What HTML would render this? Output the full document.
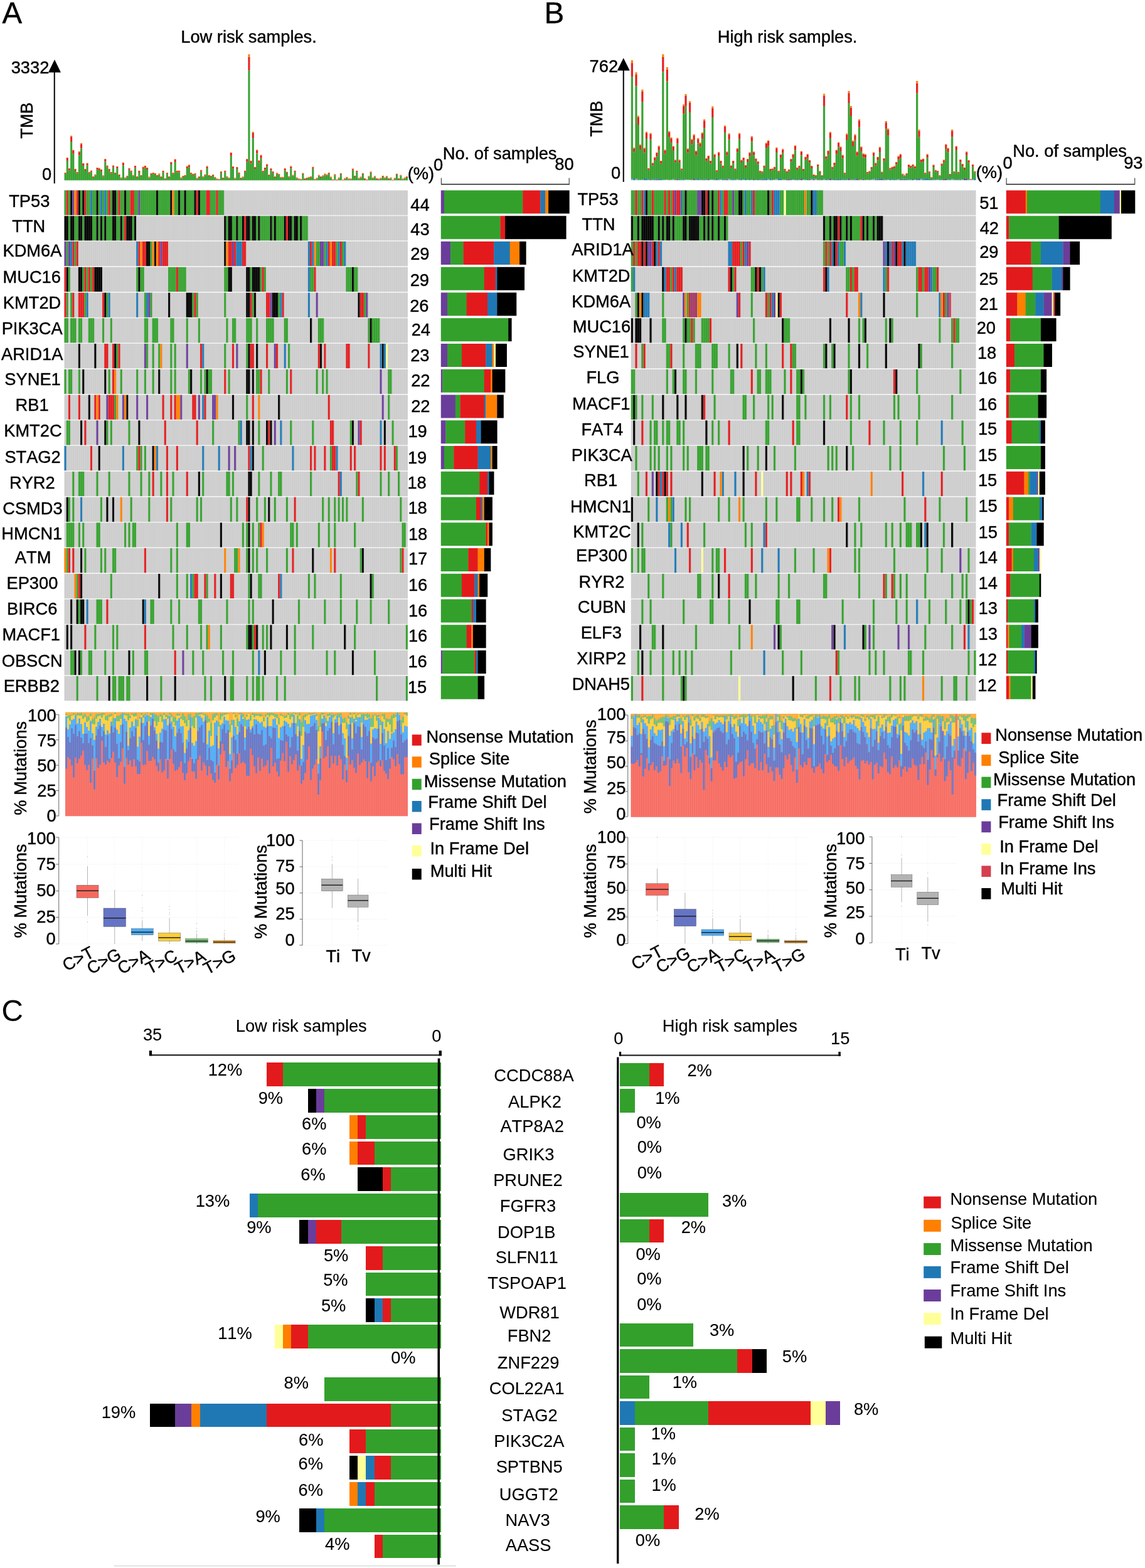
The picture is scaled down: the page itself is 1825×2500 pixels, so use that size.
<!DOCTYPE html>
<html><head><meta charset="utf-8"><title>Figure</title>
<style>
html,body{margin:0;padding:0;background:#fff;}
svg{display:block;}
text{font-family:"Liberation Sans",Arial,Helvetica,sans-serif;font-size:27.25px;fill:#000;stroke:#000;stroke-width:0.4px;font-kerning:none;}
#panelC text{stroke-width:0.12px;}
</style></head><body>
<svg xmlns="http://www.w3.org/2000/svg" width="1825" height="2500" viewBox="0 0 1825 2500">
<rect x="0" y="0" width="1825" height="2500" fill="#fff"/>
<defs>
<pattern id="sepA" x="102.5" y="0" width="3.18" height="50" patternUnits="userSpaceOnUse"><rect x="2.88" y="0" width="0.3" height="50" fill="#fff" opacity="0.32"/><rect x="0" y="0" width="0.3" height="50" fill="#fff" opacity="0.32"/></pattern>
<pattern id="sepB" x="1005.75" y="0" width="3.29" height="50" patternUnits="userSpaceOnUse"><rect x="2.99" y="0" width="0.3" height="50" fill="#fff" opacity="0.32"/><rect x="0" y="0" width="0.3" height="50" fill="#fff" opacity="0.32"/></pattern>
<pattern id="sepA2" x="104" y="0" width="3" height="50" patternUnits="userSpaceOnUse"><rect x="2.7" y="0" width="0.3" height="50" fill="#fff" opacity="0.32"/><rect x="0" y="0" width="0.3" height="50" fill="#fff" opacity="0.32"/></pattern>
<pattern id="sepB2" x="1005.5" y="0" width="3.02" height="50" patternUnits="userSpaceOnUse"><rect x="2.72" y="0" width="0.3" height="50" fill="#fff" opacity="0.32"/><rect x="0" y="0" width="0.3" height="50" fill="#fff" opacity="0.32"/></pattern>
</defs>
<g id="panelA">
<text x="3.41" y="37" style="font-size:47.5px">A</text>
<text x="288.26" y="68">Low risk samples.</text>
<line x1="86.75" y1="113" x2="86.75" y2="292.5" stroke="#000" stroke-width="2"/>
<polygon points="77,115.5 97,115.5 87,95" fill="#000"/>
<text x="17.71" y="117.3">3332</text>
<text transform="translate(52.3 220.91) rotate(-90)">TMB</text>
<text x="66.94" y="287.3">0</text>
<path fill="#33A02C" d="M102.5 277.13h3.18v10.37h-3.18zM105.68 256.07h3.18v31.43h-3.18zM108.87 271.47h3.18v16.03h-3.18zM112.05 225.89h3.18v61.61h-3.18zM115.23 245.4h3.18v42.1h-3.18zM118.42 271.98h3.18v15.52h-3.18zM121.6 276.22h3.18v11.28h-3.18zM124.78 247.56h3.18v39.94h-3.18zM127.97 236.47h3.18v51.03h-3.18zM131.15 264.12h3.18v23.38h-3.18zM134.33 271.97h3.18v15.53h-3.18zM137.51 263.53h3.18v23.97h-3.18zM140.7 276.19h3.18v11.31h-3.18zM143.88 274.38h3.18v13.12h-3.18zM147.06 283.1h3.18v4.4h-3.18zM150.25 279.5h3.18v8h-3.18zM153.43 270.37h3.18v17.13h-3.18zM156.61 271.05h3.18v16.45h-3.18zM159.8 272.98h3.18v14.52h-3.18zM162.98 281.2h3.18v6.3h-3.18zM166.16 257.59h3.18v29.91h-3.18zM169.35 266.8h3.18v20.7h-3.18zM172.53 272.21h3.18v15.29h-3.18zM175.71 276.17h3.18v11.33h-3.18zM178.9 266.75h3.18v20.75h-3.18zM182.08 277.05h3.18v10.45h-3.18zM185.26 267.98h3.18v19.52h-3.18zM188.44 279.88h3.18v7.62h-3.18zM191.63 284.5h3.18v3h-3.18zM194.81 263.46h3.18v24.04h-3.18zM197.99 284.5h3.18v3h-3.18zM201.18 281.7h3.18v5.8h-3.18zM204.36 270.78h3.18v16.72h-3.18zM207.54 274.48h3.18v13.02h-3.18zM210.73 280.6h3.18v6.9h-3.18zM213.91 267.44h3.18v20.06h-3.18zM217.09 283.1h3.18v4.4h-3.18zM220.28 274.9h3.18v12.6h-3.18zM223.46 280.95h3.18v6.55h-3.18zM226.64 269.23h3.18v18.27h-3.18zM229.83 267.46h3.18v20.04h-3.18zM233.01 269.9h3.18v17.6h-3.18zM236.19 283.4h3.18v4.1h-3.18zM239.38 277.97h3.18v9.53h-3.18zM242.56 277.25h3.18v10.25h-3.18zM245.74 278.09h3.18v9.41h-3.18zM248.92 280.95h3.18v6.55h-3.18zM252.11 278.62h3.18v8.88h-3.18zM255.29 283.1h3.18v4.4h-3.18zM258.47 274.83h3.18v12.67h-3.18zM261.66 285.8h3.18v1.7h-3.18zM264.84 277.31h3.18v10.19h-3.18zM268.02 283.1h3.18v4.4h-3.18zM271.21 262.08h3.18v25.42h-3.18zM274.39 277.59h3.18v9.91h-3.18zM277.57 258.02h3.18v29.48h-3.18zM280.76 274.47h3.18v13.03h-3.18zM283.94 274.47h3.18v13.03h-3.18zM287.12 284.4h3.18v3.1h-3.18zM290.31 282h3.18v5.5h-3.18zM293.49 280.9h3.18v6.6h-3.18zM296.67 267.92h3.18v19.58h-3.18zM299.85 266.44h3.18v21.06h-3.18zM303.04 277.51h3.18v9.99h-3.18zM306.22 278.98h3.18v8.52h-3.18zM309.4 278.3h3.18v9.2h-3.18zM312.59 285.3h3.18v2.2h-3.18zM315.77 283.1h3.18v4.4h-3.18zM318.95 273.58h3.18v13.92h-3.18zM322.14 282.6h3.18v4.9h-3.18zM325.32 279.64h3.18v7.86h-3.18zM328.5 268h3.18v19.5h-3.18zM331.69 280.9h3.18v6.6h-3.18zM334.87 282h3.18v5.5h-3.18zM338.05 280h3.18v7.5h-3.18zM341.24 283.7h3.18v3.8h-3.18zM344.42 286.2h3.18v1.3h-3.18zM347.6 286.6h3.18v.9h-3.18zM350.78 275.7h3.18v11.8h-3.18zM353.97 285.1h3.18v2.4h-3.18zM357.15 274.3h3.18v13.2h-3.18zM360.33 282.6h3.18v4.9h-3.18zM363.52 284.8h3.18v2.7h-3.18zM366.7 248.75h3.18v38.75h-3.18zM369.88 268.82h3.18v18.68h-3.18zM373.07 285.3h3.18v2.2h-3.18zM376.25 269.12h3.18v18.38h-3.18zM379.43 277.2h3.18v10.3h-3.18zM382.62 285.1h3.18v2.4h-3.18zM385.8 283.3h3.18v4.2h-3.18zM388.98 274.64h3.18v12.86h-3.18zM392.17 257.65h3.18v29.85h-3.18zM395.35 112.49h3.18v175.01h-3.18zM398.53 260.59h3.18v26.91h-3.18zM401.72 220.22h3.18v67.28h-3.18zM404.9 269.05h3.18v18.45h-3.18zM408.08 244.5h3.18v43h-3.18zM411.26 259.59h3.18v27.91h-3.18zM414.45 252.48h3.18v35.02h-3.18zM417.63 274.64h3.18v12.86h-3.18zM420.81 270.31h3.18v17.19h-3.18zM424 265.19h3.18v22.31h-3.18zM427.18 280.06h3.18v7.44h-3.18zM430.36 271.57h3.18v15.93h-3.18zM433.55 275.73h3.18v11.77h-3.18zM436.73 283.1h3.18v4.4h-3.18zM439.91 277.72h3.18v9.78h-3.18zM443.1 278.82h3.18v8.68h-3.18zM446.28 283.7h3.18v3.8h-3.18zM449.46 283.7h3.18v3.8h-3.18zM452.65 271.4h3.18v16.1h-3.18zM455.83 275.98h3.18v11.52h-3.18zM459.01 282.6h3.18v4.9h-3.18zM462.19 268.2h3.18v19.3h-3.18zM465.38 280.72h3.18v6.78h-3.18zM468.56 274.26h3.18v13.24h-3.18zM471.74 284.5h3.18v3h-3.18zM474.93 286.2h3.18v1.3h-3.18zM478.11 286.7h3.18v.8h-3.18zM481.29 277.89h3.18v9.61h-3.18zM484.48 286h3.18v1.5h-3.18zM487.66 285.1h3.18v2.4h-3.18zM490.84 283.7h3.18v3.8h-3.18zM494.03 282.8h3.18v4.7h-3.18zM497.21 268.84h3.18v18.66h-3.18zM500.39 286.7h3.18v.8h-3.18zM503.58 285.3h3.18v2.2h-3.18zM506.76 280.6h3.18v6.9h-3.18zM509.94 283.1h3.18v4.4h-3.18zM513.12 281.2h3.18v6.3h-3.18zM516.31 278.59h3.18v8.91h-3.18zM519.49 279.53h3.18v7.97h-3.18zM522.67 277.23h3.18v10.27h-3.18zM525.86 283.4h3.18v4.1h-3.18zM532.22 279.37h3.18v8.13h-3.18zM538.59 284.5h3.18v3h-3.18zM541.77 278.24h3.18v9.26h-3.18zM548.14 285.6h3.18v1.9h-3.18zM551.32 283.7h3.18v3.8h-3.18zM554.51 286.2h3.18v1.3h-3.18zM557.69 286h3.18v1.5h-3.18zM560.87 271.41h3.18v16.09h-3.18zM564.06 281.9h3.18v5.6h-3.18zM567.24 274.56h3.18v12.94h-3.18zM570.42 285.3h3.18v2.2h-3.18zM573.6 283.4h3.18v4.1h-3.18zM576.79 278.01h3.18v9.49h-3.18zM579.97 286h3.18v1.5h-3.18zM586.34 282.3h3.18v5.2h-3.18zM589.52 275.76h3.18v11.74h-3.18zM592.7 284.8h3.18v2.7h-3.18zM595.89 282.3h3.18v5.2h-3.18zM599.07 286h3.18v1.5h-3.18zM602.25 286h3.18v1.5h-3.18zM605.44 285.3h3.18v2.2h-3.18zM608.62 281.9h3.18v5.6h-3.18zM611.8 284.5h3.18v3h-3.18zM614.99 282.3h3.18v5.2h-3.18zM618.17 286h3.18v1.5h-3.18zM621.35 284.5h3.18v3h-3.18zM627.72 285.3h3.18v2.2h-3.18zM630.9 278.9h3.18v8.6h-3.18zM634.08 286h3.18v1.5h-3.18zM637.27 280.6h3.18v6.9h-3.18zM640.45 286h3.18v1.5h-3.18zM643.63 284.5h3.18v3h-3.18zM646.82 283.1h3.18v4.4h-3.18z"/>
<path fill="#E31A1C" d="M102.5 275.7h3.18v1.43h-3.18zM105.68 251.8h3.18v4.26h-3.18zM108.87 269h3.18v2.47h-3.18zM112.05 217.77h3.18v8.13h-3.18zM115.23 239.77h3.18v5.62h-3.18zM118.42 269.8h3.18v2.18h-3.18zM121.6 274.8h3.18v1.42h-3.18zM124.78 242.22h3.18v5.34h-3.18zM127.97 229.41h3.18v7.06h-3.18zM131.15 260.7h3.18v3.42h-3.18zM134.33 270.1h3.18v1.87h-3.18zM137.51 260.5h3.18v3.03h-3.18zM140.7 274.8h3.18v1.39h-3.18zM143.88 272.4h3.18v1.98h-3.18zM147.06 282.1h3.18v1h-3.18zM150.25 278.5h3.18v1h-3.18zM153.43 267.7h3.18v2.67h-3.18zM156.61 268.5h3.18v2.55h-3.18zM159.8 270.9h3.18v2.08h-3.18zM162.98 280.2h3.18v1h-3.18zM166.16 254h3.18v3.59h-3.18zM169.35 264.4h3.18v2.4h-3.18zM172.53 270.1h3.18v2.11h-3.18zM175.71 274.8h3.18v1.37h-3.18zM178.9 264.2h3.18v2.55h-3.18zM182.08 275.7h3.18v1.35h-3.18zM185.26 265.7h3.18v2.28h-3.18zM188.44 278.8h3.18v1.08h-3.18zM191.63 283.5h3.18v1h-3.18zM194.81 259.9h3.18v3.56h-3.18zM197.99 283.5h3.18v1h-3.18zM201.18 280.7h3.18v1h-3.18zM204.36 268.5h3.18v2.28h-3.18zM207.54 272.6h3.18v1.88h-3.18zM210.73 279.6h3.18v1h-3.18zM213.91 264.9h3.18v2.54h-3.18zM217.09 282.1h3.18v1h-3.18zM220.28 272.9h3.18v2h-3.18zM223.46 279.9h3.18v1.05h-3.18zM226.64 266.6h3.18v2.63h-3.18zM229.83 264.9h3.18v2.56h-3.18zM233.01 267.7h3.18v2.2h-3.18zM236.19 282.4h3.18v1h-3.18zM239.38 276.8h3.18v1.17h-3.18zM242.56 275.7h3.18v1.55h-3.18zM245.74 276.8h3.18v1.29h-3.18zM248.92 279.9h3.18v1.05h-3.18zM252.11 277.4h3.18v1.22h-3.18zM255.29 282.1h3.18v1h-3.18zM258.47 272.9h3.18v1.93h-3.18zM261.66 284.8h3.18v1h-3.18zM264.84 276h3.18v1.31h-3.18zM268.02 282.1h3.18v1h-3.18zM271.21 258.7h3.18v3.38h-3.18zM274.39 276h3.18v1.59h-3.18zM277.57 254.2h3.18v3.82h-3.18zM280.76 272.9h3.18v1.57h-3.18zM283.94 272.6h3.18v1.87h-3.18zM287.12 283.4h3.18v1h-3.18zM290.31 281h3.18v1h-3.18zM293.49 279.9h3.18v1h-3.18zM296.67 265.4h3.18v2.52h-3.18zM299.85 263.2h3.18v3.24h-3.18zM303.04 276h3.18v1.51h-3.18zM306.22 277.9h3.18v1.08h-3.18zM309.4 277.1h3.18v1.2h-3.18zM312.59 284.3h3.18v1h-3.18zM315.77 282.1h3.18v1h-3.18zM318.95 271.5h3.18v2.08h-3.18zM322.14 281.6h3.18v1h-3.18zM325.32 278.5h3.18v1.14h-3.18zM328.5 265.4h3.18v2.6h-3.18zM331.69 279.9h3.18v1h-3.18zM334.87 281h3.18v1h-3.18zM338.05 279h3.18v1h-3.18zM341.24 282.7h3.18v1h-3.18zM344.42 285.2h3.18v1h-3.18zM347.6 286h3.18v.6h-3.18zM350.78 274.1h3.18v1.6h-3.18zM353.97 284.1h3.18v1h-3.18zM357.15 272.6h3.18v1.7h-3.18zM360.33 281.6h3.18v1h-3.18zM363.52 283.8h3.18v1h-3.18zM366.7 243.88h3.18v4.87h-3.18zM369.88 266h3.18v2.82h-3.18zM373.07 284.3h3.18v1h-3.18zM376.25 266.7h3.18v2.42h-3.18zM379.43 275.6h3.18v1.6h-3.18zM382.62 284.1h3.18v1h-3.18zM385.8 282.3h3.18v1h-3.18zM388.98 272.6h3.18v2.04h-3.18zM392.17 254h3.18v3.65h-3.18zM395.35 90.82h3.18v21.67h-3.18zM398.53 256.7h3.18v3.89h-3.18zM401.72 211.7h3.18v8.51h-3.18zM404.9 266.7h3.18v2.35h-3.18zM408.08 239.48h3.18v5.02h-3.18zM411.26 256.3h3.18v3.29h-3.18zM414.45 247.7h3.18v4.78h-3.18zM417.63 273h3.18v1.64h-3.18zM420.81 267.9h3.18v2.41h-3.18zM424 262.3h3.18v2.89h-3.18zM427.18 279h3.18v1.06h-3.18zM430.36 269.1h3.18v2.47h-3.18zM433.55 274.1h3.18v1.63h-3.18zM436.73 282.1h3.18v1h-3.18zM439.91 276.2h3.18v1.52h-3.18zM443.1 277.7h3.18v1.12h-3.18zM446.28 282.7h3.18v1h-3.18zM449.46 282.7h3.18v1h-3.18zM452.65 269h3.18v2.4h-3.18zM455.83 274.5h3.18v1.48h-3.18zM459.01 281.6h3.18v1h-3.18zM462.19 265.4h3.18v2.8h-3.18zM465.38 279.6h3.18v1.12h-3.18zM468.56 272.6h3.18v1.66h-3.18zM471.74 283.5h3.18v1h-3.18zM474.93 285.2h3.18v1h-3.18zM478.11 286.1h3.18v.6h-3.18zM481.29 276.5h3.18v1.39h-3.18zM484.48 285h3.18v1h-3.18zM487.66 284.1h3.18v1h-3.18zM490.84 282.7h3.18v1h-3.18zM494.03 281.8h3.18v1h-3.18zM497.21 266.5h3.18v2.34h-3.18zM500.39 286.1h3.18v.6h-3.18zM503.58 284.3h3.18v1h-3.18zM506.76 279.6h3.18v1h-3.18zM509.94 282.1h3.18v1h-3.18zM513.12 280.2h3.18v1h-3.18zM516.31 277.4h3.18v1.19h-3.18zM519.49 278.5h3.18v1.03h-3.18zM522.67 275.7h3.18v1.53h-3.18zM525.86 282.4h3.18v1h-3.18zM529.04 286.9h3.18v.6h-3.18zM532.22 278.3h3.18v1.07h-3.18zM535.41 286.9h3.18v.6h-3.18zM538.59 283.5h3.18v1h-3.18zM541.77 276.8h3.18v1.44h-3.18zM544.96 286.9h3.18v.6h-3.18zM548.14 284.6h3.18v1h-3.18zM551.32 282.7h3.18v1h-3.18zM554.51 285.2h3.18v1h-3.18zM557.69 285.4h3.18v.6h-3.18zM560.87 269.4h3.18v2.01h-3.18zM564.06 280.9h3.18v1h-3.18zM567.24 272.9h3.18v1.66h-3.18zM570.42 284.3h3.18v1h-3.18zM573.6 282.4h3.18v1h-3.18zM576.79 276.8h3.18v1.21h-3.18zM579.97 285h3.18v1h-3.18zM583.15 286.9h3.18v.6h-3.18zM586.34 281.3h3.18v1h-3.18zM589.52 274.3h3.18v1.46h-3.18zM592.7 283.8h3.18v1h-3.18zM595.89 281.3h3.18v1h-3.18zM599.07 285h3.18v1h-3.18zM602.25 285.4h3.18v.6h-3.18zM605.44 284.3h3.18v1h-3.18zM608.62 280.9h3.18v1h-3.18zM611.8 283.5h3.18v1h-3.18zM614.99 281.3h3.18v1h-3.18zM618.17 285h3.18v1h-3.18zM621.35 283.5h3.18v1h-3.18zM624.53 286.9h3.18v.6h-3.18zM627.72 284.3h3.18v1h-3.18zM630.9 277.6h3.18v1.3h-3.18zM634.08 285h3.18v1h-3.18zM637.27 279.6h3.18v1h-3.18zM640.45 285.4h3.18v.6h-3.18zM643.63 283.5h3.18v1h-3.18zM646.82 282.1h3.18v1h-3.18z"/>
<path fill="#FF7F00" d="M102.5 274.9h3.18v.8h-3.18zM105.68 251h3.18v.8h-3.18zM108.87 268.2h3.18v.8h-3.18zM112.05 216.2h3.18v1.57h-3.18zM115.23 238.7h3.18v1.07h-3.18zM118.42 269h3.18v.8h-3.18zM121.6 274h3.18v.8h-3.18zM124.78 241.2h3.18v1.02h-3.18zM127.97 228.1h3.18v1.31h-3.18zM131.15 259.9h3.18v.8h-3.18zM134.33 269.3h3.18v.8h-3.18zM137.51 259.7h3.18v.8h-3.18zM140.7 274h3.18v.8h-3.18zM143.88 271.6h3.18v.8h-3.18zM147.06 281.3h3.18v.8h-3.18zM150.25 277.7h3.18v.8h-3.18zM153.43 266.9h3.18v.8h-3.18zM156.61 267.7h3.18v.8h-3.18zM159.8 270.1h3.18v.8h-3.18zM162.98 279.4h3.18v.8h-3.18zM166.16 253.2h3.18v.8h-3.18zM169.35 263.6h3.18v.8h-3.18zM172.53 269.3h3.18v.8h-3.18zM175.71 274h3.18v.8h-3.18zM178.9 263.4h3.18v.8h-3.18zM182.08 274.9h3.18v.8h-3.18zM185.26 264.9h3.18v.8h-3.18zM188.44 278h3.18v.8h-3.18zM191.63 282.7h3.18v.8h-3.18zM194.81 259.1h3.18v.8h-3.18zM197.99 282.7h3.18v.8h-3.18zM201.18 279.9h3.18v.8h-3.18zM204.36 267.7h3.18v.8h-3.18zM207.54 271.8h3.18v.8h-3.18zM210.73 278.8h3.18v.8h-3.18zM213.91 264.1h3.18v.8h-3.18zM217.09 281.3h3.18v.8h-3.18zM220.28 272.1h3.18v.8h-3.18zM223.46 279.1h3.18v.8h-3.18zM226.64 265.8h3.18v.8h-3.18zM229.83 264.1h3.18v.8h-3.18zM233.01 266.9h3.18v.8h-3.18zM236.19 281.6h3.18v.8h-3.18zM239.38 276h3.18v.8h-3.18zM242.56 274.9h3.18v.8h-3.18zM245.74 276h3.18v.8h-3.18zM248.92 279.1h3.18v.8h-3.18zM252.11 276.6h3.18v.8h-3.18zM255.29 281.3h3.18v.8h-3.18zM258.47 272.1h3.18v.8h-3.18zM261.66 284h3.18v.8h-3.18zM264.84 275.2h3.18v.8h-3.18zM268.02 281.3h3.18v.8h-3.18zM271.21 257.9h3.18v.8h-3.18zM274.39 275.2h3.18v.8h-3.18zM277.57 253.4h3.18v.8h-3.18zM280.76 272.1h3.18v.8h-3.18zM283.94 271.8h3.18v.8h-3.18zM287.12 282.6h3.18v.8h-3.18zM290.31 280.2h3.18v.8h-3.18zM293.49 279.1h3.18v.8h-3.18zM296.67 264.6h3.18v.8h-3.18zM299.85 262.4h3.18v.8h-3.18zM303.04 275.2h3.18v.8h-3.18zM306.22 277.1h3.18v.8h-3.18zM309.4 276.3h3.18v.8h-3.18zM312.59 283.5h3.18v.8h-3.18zM315.77 281.3h3.18v.8h-3.18zM318.95 270.7h3.18v.8h-3.18zM322.14 280.8h3.18v.8h-3.18zM325.32 277.7h3.18v.8h-3.18zM328.5 264.6h3.18v.8h-3.18zM331.69 279.1h3.18v.8h-3.18zM334.87 280.2h3.18v.8h-3.18zM338.05 278.2h3.18v.8h-3.18zM341.24 281.9h3.18v.8h-3.18zM344.42 284.4h3.18v.8h-3.18zM347.6 285.2h3.18v.8h-3.18zM350.78 273.3h3.18v.8h-3.18zM353.97 283.3h3.18v.8h-3.18zM357.15 271.8h3.18v.8h-3.18zM360.33 280.8h3.18v.8h-3.18zM363.52 283h3.18v.8h-3.18zM366.7 242.9h3.18v.98h-3.18zM369.88 265.2h3.18v.8h-3.18zM373.07 283.5h3.18v.8h-3.18zM376.25 265.9h3.18v.8h-3.18zM379.43 274.8h3.18v.8h-3.18zM382.62 283.3h3.18v.8h-3.18zM385.8 281.5h3.18v.8h-3.18zM388.98 271.8h3.18v.8h-3.18zM392.17 253.2h3.18v.8h-3.18zM395.35 86.4h3.18v4.42h-3.18zM398.53 255.9h3.18v.8h-3.18zM401.72 210h3.18v1.7h-3.18zM404.9 265.9h3.18v.8h-3.18zM408.08 238.4h3.18v1.08h-3.18zM411.26 255.5h3.18v.8h-3.18zM414.45 246.8h3.18v.9h-3.18zM417.63 272.2h3.18v.8h-3.18zM420.81 267.1h3.18v.8h-3.18zM424 261.5h3.18v.8h-3.18zM427.18 278.2h3.18v.8h-3.18zM430.36 268.3h3.18v.8h-3.18zM433.55 273.3h3.18v.8h-3.18zM436.73 281.3h3.18v.8h-3.18zM439.91 275.4h3.18v.8h-3.18zM443.1 276.9h3.18v.8h-3.18zM446.28 281.9h3.18v.8h-3.18zM449.46 281.9h3.18v.8h-3.18zM452.65 268.2h3.18v.8h-3.18zM455.83 273.7h3.18v.8h-3.18zM459.01 280.8h3.18v.8h-3.18zM462.19 264.6h3.18v.8h-3.18zM465.38 278.8h3.18v.8h-3.18zM468.56 271.8h3.18v.8h-3.18zM471.74 282.7h3.18v.8h-3.18zM474.93 284.4h3.18v.8h-3.18zM478.11 285.3h3.18v.8h-3.18zM481.29 275.7h3.18v.8h-3.18zM484.48 284.2h3.18v.8h-3.18zM487.66 283.3h3.18v.8h-3.18zM490.84 281.9h3.18v.8h-3.18zM494.03 281h3.18v.8h-3.18zM497.21 265.7h3.18v.8h-3.18zM500.39 285.3h3.18v.8h-3.18zM503.58 283.5h3.18v.8h-3.18zM506.76 278.8h3.18v.8h-3.18zM509.94 281.3h3.18v.8h-3.18zM513.12 279.4h3.18v.8h-3.18zM516.31 276.6h3.18v.8h-3.18zM519.49 277.7h3.18v.8h-3.18zM522.67 274.9h3.18v.8h-3.18zM525.86 281.6h3.18v.8h-3.18zM529.04 286.1h3.18v.8h-3.18zM532.22 277.5h3.18v.8h-3.18zM535.41 286.1h3.18v.8h-3.18zM538.59 282.7h3.18v.8h-3.18zM541.77 276h3.18v.8h-3.18zM544.96 286.4h3.18v.8h-3.18zM548.14 283.8h3.18v.8h-3.18zM551.32 281.9h3.18v.8h-3.18zM554.51 284.4h3.18v.8h-3.18zM557.69 284.6h3.18v.8h-3.18zM560.87 268.6h3.18v.8h-3.18zM564.06 280.1h3.18v.8h-3.18zM567.24 272.1h3.18v.8h-3.18zM570.42 283.5h3.18v.8h-3.18zM573.6 281.6h3.18v.8h-3.18zM576.79 276h3.18v.8h-3.18zM579.97 284.2h3.18v.8h-3.18zM583.15 286.1h3.18v.8h-3.18zM586.34 280.5h3.18v.8h-3.18zM589.52 273.5h3.18v.8h-3.18zM592.7 283h3.18v.8h-3.18zM595.89 280.5h3.18v.8h-3.18zM599.07 284.2h3.18v.8h-3.18zM602.25 284.6h3.18v.8h-3.18zM605.44 283.5h3.18v.8h-3.18zM608.62 280.1h3.18v.8h-3.18zM611.8 282.7h3.18v.8h-3.18zM614.99 280.5h3.18v.8h-3.18zM618.17 284.2h3.18v.8h-3.18zM621.35 282.7h3.18v.8h-3.18zM624.53 286.6h3.18v.8h-3.18zM627.72 283.5h3.18v.8h-3.18zM630.9 276.8h3.18v.8h-3.18zM634.08 284.2h3.18v.8h-3.18zM637.27 278.8h3.18v.8h-3.18zM640.45 284.6h3.18v.8h-3.18zM643.63 282.7h3.18v.8h-3.18zM646.82 281.3h3.18v.8h-3.18z"/>
<rect x="102.5" y="80" width="547.5" height="207.5" fill="url(#sepA)"/>
<path fill="#CCCCCC" d="M102.5 303.4h547.5v39.5h-547.5zM102.5 344.15h547.5v39.5h-547.5zM102.5 384.9h547.5v39.5h-547.5zM102.5 425.65h547.5v39.5h-547.5zM102.5 466.4h547.5v39.5h-547.5zM102.5 507.15h547.5v39.5h-547.5zM102.5 547.9h547.5v39.5h-547.5zM102.5 588.65h547.5v39.5h-547.5zM102.5 629.4h547.5v39.5h-547.5zM102.5 670.15h547.5v39.5h-547.5zM102.5 710.9h547.5v39.5h-547.5zM102.5 751.65h547.5v39.5h-547.5zM102.5 792.4h547.5v39.5h-547.5zM102.5 833.15h547.5v39.5h-547.5zM102.5 873.9h547.5v39.5h-547.5zM102.5 914.65h547.5v39.5h-547.5zM102.5 955.4h547.5v39.5h-547.5zM102.5 996.15h547.5v39.5h-547.5zM102.5 1036.9h547.5v39.5h-547.5zM102.5 1077.65h547.5v39.5h-547.5z"/>
<path fill="#33A02C" d="M102.5 303.4h3.18v39.5h-3.18zM108.87 303.4h3.18v39.5h-3.18zM127.97 303.4h3.18v39.5h-3.18zM137.51 303.4h6.37v39.5h-6.37zM147.06 303.4h6.37v39.5h-6.37zM156.61 303.4h3.18v39.5h-3.18zM162.98 303.4h3.18v39.5h-3.18zM169.35 303.4h3.18v39.5h-3.18zM175.71 303.4h3.18v39.5h-3.18zM185.26 303.4h3.18v39.5h-3.18zM191.63 303.4h6.37v39.5h-6.37zM201.18 303.4h6.37v39.5h-6.37zM213.91 303.4h6.37v39.5h-6.37zM223.46 303.4h25.47v39.5h-25.47zM252.11 303.4h19.1v39.5h-19.1zM277.57 303.4h6.37v39.5h-6.37zM287.12 303.4h6.37v39.5h-6.37zM296.67 303.4h12.73v39.5h-12.73zM318.95 303.4h9.55v39.5h-9.55zM334.87 303.4h9.55v39.5h-9.55zM347.6 303.4h9.55v39.5h-9.55zM108.87 344.15h3.18v39.5h-3.18zM118.42 344.15h6.37v39.5h-6.37zM131.15 344.15h3.18v39.5h-3.18zM147.06 344.15h6.37v39.5h-6.37zM156.61 344.15h3.18v39.5h-3.18zM162.98 344.15h3.18v39.5h-3.18zM169.35 344.15h9.55v39.5h-9.55zM185.26 344.15h6.37v39.5h-6.37zM194.81 344.15h3.18v39.5h-3.18zM210.73 344.15h3.18v39.5h-3.18zM360.33 344.15h3.18v39.5h-3.18zM369.88 344.15h6.37v39.5h-6.37zM379.43 344.15h6.37v39.5h-6.37zM398.53 344.15h3.18v39.5h-3.18zM408.08 344.15h3.18v39.5h-3.18zM414.45 344.15h15.92v39.5h-15.92zM433.55 344.15h3.18v39.5h-3.18zM439.91 344.15h12.73v39.5h-12.73zM465.38 344.15h3.18v39.5h-3.18zM474.93 344.15h3.18v39.5h-3.18zM481.29 344.15h9.55v39.5h-9.55zM105.68 384.9h3.18v39.5h-3.18zM118.42 384.9h3.18v39.5h-3.18zM239.38 384.9h3.18v39.5h-3.18zM503.58 384.9h6.37v39.5h-6.37zM516.31 384.9h3.18v39.5h-3.18zM535.41 384.9h3.18v39.5h-3.18zM544.96 384.9h3.18v39.5h-3.18zM108.87 425.65h3.18v39.5h-3.18zM131.15 425.65h3.18v39.5h-3.18zM137.51 425.65h3.18v39.5h-3.18zM143.88 425.65h3.18v39.5h-3.18zM217.09 425.65h3.18v39.5h-3.18zM223.46 425.65h6.37v39.5h-6.37zM268.02 425.65h12.73v39.5h-12.73zM283.94 425.65h12.73v39.5h-12.73zM357.15 425.65h6.37v39.5h-6.37zM398.53 425.65h3.18v39.5h-3.18zM414.45 425.65h3.18v39.5h-3.18zM420.81 425.65h3.18v39.5h-3.18zM494.03 425.65h6.37v39.5h-6.37zM551.32 425.65h9.55v39.5h-9.55zM564.06 425.65h6.37v39.5h-6.37zM105.68 466.4h3.18v39.5h-3.18zM112.05 466.4h3.18v39.5h-3.18zM134.33 466.4h3.18v39.5h-3.18zM169.35 466.4h3.18v39.5h-3.18zM229.83 466.4h3.18v39.5h-3.18zM239.38 466.4h3.18v39.5h-3.18zM306.22 466.4h3.18v39.5h-3.18zM312.59 466.4h3.18v39.5h-3.18zM357.15 466.4h3.18v39.5h-3.18zM401.72 466.4h3.18v39.5h-3.18zM443.1 466.4h3.18v39.5h-3.18zM579.97 466.4h3.18v39.5h-3.18zM102.5 507.15h6.37v39.5h-6.37zM112.05 507.15h9.55v39.5h-9.55zM124.78 507.15h6.37v39.5h-6.37zM140.7 507.15h9.55v39.5h-9.55zM162.98 507.15h3.18v39.5h-3.18zM175.71 507.15h3.18v39.5h-3.18zM229.83 507.15h6.37v39.5h-6.37zM242.56 507.15h9.55v39.5h-9.55zM271.21 507.15h6.37v39.5h-6.37zM296.67 507.15h3.18v39.5h-3.18zM315.77 507.15h3.18v39.5h-3.18zM360.33 507.15h3.18v39.5h-3.18zM369.88 507.15h6.37v39.5h-6.37zM392.17 507.15h9.55v39.5h-9.55zM408.08 507.15h3.18v39.5h-3.18zM424 507.15h12.73v39.5h-12.73zM452.65 507.15h6.37v39.5h-6.37zM506.76 507.15h9.55v39.5h-9.55zM586.34 507.15h3.18v39.5h-3.18zM592.7 507.15h12.73v39.5h-12.73zM185.26 547.9h3.18v39.5h-3.18zM233.01 547.9h3.18v39.5h-3.18zM242.56 547.9h3.18v39.5h-3.18zM252.11 547.9h3.18v39.5h-3.18zM271.21 547.9h3.18v39.5h-3.18zM277.57 547.9h3.18v39.5h-3.18zM357.15 547.9h3.18v39.5h-3.18zM392.17 547.9h3.18v39.5h-3.18zM459.01 547.9h3.18v39.5h-3.18zM102.5 588.65h3.18v39.5h-3.18zM108.87 588.65h6.37v39.5h-6.37zM124.78 588.65h3.18v39.5h-3.18zM172.53 588.65h3.18v39.5h-3.18zM191.63 588.65h3.18v39.5h-3.18zM217.09 588.65h3.18v39.5h-3.18zM229.83 588.65h3.18v39.5h-3.18zM242.56 588.65h3.18v39.5h-3.18zM271.21 588.65h3.18v39.5h-3.18zM277.57 588.65h3.18v39.5h-3.18zM299.85 588.65h3.18v39.5h-3.18zM318.95 588.65h3.18v39.5h-3.18zM325.32 588.65h3.18v39.5h-3.18zM331.69 588.65h6.37v39.5h-6.37zM363.52 588.65h3.18v39.5h-3.18zM408.08 588.65h6.37v39.5h-6.37zM427.18 588.65h3.18v39.5h-3.18zM455.83 588.65h3.18v39.5h-3.18zM503.58 588.65h3.18v39.5h-3.18zM513.12 588.65h3.18v39.5h-3.18zM519.49 588.65h3.18v39.5h-3.18zM618.17 588.65h6.37v39.5h-6.37zM182.08 629.4h3.18v39.5h-3.18zM392.17 629.4h3.18v39.5h-3.18zM618.17 629.4h3.18v39.5h-3.18zM105.68 670.15h6.37v39.5h-6.37zM169.35 670.15h3.18v39.5h-3.18zM175.71 670.15h3.18v39.5h-3.18zM204.36 670.15h3.18v39.5h-3.18zM338.05 670.15h3.18v39.5h-3.18zM379.43 670.15h3.18v39.5h-3.18zM411.26 670.15h3.18v39.5h-3.18zM462.19 670.15h3.18v39.5h-3.18zM497.21 670.15h3.18v39.5h-3.18zM557.69 670.15h3.18v39.5h-3.18zM624.53 670.15h3.18v39.5h-3.18zM217.09 710.9h3.18v39.5h-3.18zM223.46 710.9h3.18v39.5h-3.18zM229.83 710.9h3.18v39.5h-3.18zM417.63 710.9h3.18v39.5h-3.18zM525.86 710.9h3.18v39.5h-3.18zM630.9 710.9h3.18v39.5h-3.18zM115.23 751.65h3.18v39.5h-3.18zM124.78 751.65h9.55v39.5h-9.55zM153.43 751.65h3.18v39.5h-3.18zM172.53 751.65h3.18v39.5h-3.18zM204.36 751.65h3.18v39.5h-3.18zM223.46 751.65h3.18v39.5h-3.18zM236.19 751.65h3.18v39.5h-3.18zM255.29 751.65h3.18v39.5h-3.18zM274.39 751.65h3.18v39.5h-3.18zM322.14 751.65h3.18v39.5h-3.18zM360.33 751.65h6.37v39.5h-6.37zM369.88 751.65h3.18v39.5h-3.18zM411.26 751.65h3.18v39.5h-3.18zM430.36 751.65h3.18v39.5h-3.18zM443.1 751.65h6.37v39.5h-6.37zM494.03 751.65h3.18v39.5h-3.18zM567.24 751.65h3.18v39.5h-3.18zM605.44 751.65h3.18v39.5h-3.18zM618.17 751.65h3.18v39.5h-3.18zM634.08 751.65h3.18v39.5h-3.18zM108.87 792.4h3.18v39.5h-3.18zM115.23 792.4h3.18v39.5h-3.18zM159.8 792.4h3.18v39.5h-3.18zM207.54 792.4h3.18v39.5h-3.18zM236.19 792.4h3.18v39.5h-3.18zM271.21 792.4h3.18v39.5h-3.18zM312.59 792.4h3.18v39.5h-3.18zM318.95 792.4h3.18v39.5h-3.18zM366.7 792.4h3.18v39.5h-3.18zM376.25 792.4h3.18v39.5h-3.18zM408.08 792.4h3.18v39.5h-3.18zM420.81 792.4h3.18v39.5h-3.18zM436.73 792.4h3.18v39.5h-3.18zM455.83 792.4h3.18v39.5h-3.18zM513.12 792.4h3.18v39.5h-3.18zM522.67 792.4h3.18v39.5h-3.18zM532.22 792.4h3.18v39.5h-3.18zM538.59 792.4h3.18v39.5h-3.18zM544.96 792.4h3.18v39.5h-3.18zM551.32 792.4h3.18v39.5h-3.18zM576.79 792.4h3.18v39.5h-3.18zM637.27 792.4h3.18v39.5h-3.18zM105.68 833.15h12.73v39.5h-12.73zM124.78 833.15h3.18v39.5h-3.18zM131.15 833.15h3.18v39.5h-3.18zM153.43 833.15h6.37v39.5h-6.37zM197.99 833.15h3.18v39.5h-3.18zM204.36 833.15h3.18v39.5h-3.18zM210.73 833.15h6.37v39.5h-6.37zM280.76 833.15h3.18v39.5h-3.18zM296.67 833.15h6.37v39.5h-6.37zM385.8 833.15h3.18v39.5h-3.18zM392.17 833.15h3.18v39.5h-3.18zM401.72 833.15h3.18v39.5h-3.18zM411.26 833.15h3.18v39.5h-3.18zM462.19 833.15h6.37v39.5h-6.37zM471.74 833.15h3.18v39.5h-3.18zM506.76 833.15h3.18v39.5h-3.18zM522.67 833.15h3.18v39.5h-3.18zM532.22 833.15h3.18v39.5h-3.18zM564.06 833.15h3.18v39.5h-3.18zM640.45 833.15h6.37v39.5h-6.37zM105.68 873.9h3.18v39.5h-3.18zM134.33 873.9h3.18v39.5h-3.18zM159.8 873.9h3.18v39.5h-3.18zM166.16 873.9h3.18v39.5h-3.18zM178.9 873.9h6.37v39.5h-6.37zM271.21 873.9h3.18v39.5h-3.18zM280.76 873.9h3.18v39.5h-3.18zM373.07 873.9h6.37v39.5h-6.37zM392.17 873.9h3.18v39.5h-3.18zM401.72 873.9h3.18v39.5h-3.18zM408.08 873.9h3.18v39.5h-3.18zM424 873.9h3.18v39.5h-3.18zM455.83 873.9h3.18v39.5h-3.18zM573.6 873.9h3.18v39.5h-3.18zM637.27 873.9h3.18v39.5h-3.18zM121.6 914.65h3.18v39.5h-3.18zM175.71 914.65h3.18v39.5h-3.18zM280.76 914.65h3.18v39.5h-3.18zM296.67 914.65h3.18v39.5h-3.18zM306.22 914.65h3.18v39.5h-3.18zM328.5 914.65h3.18v39.5h-3.18zM395.35 914.65h3.18v39.5h-3.18zM411.26 914.65h6.37v39.5h-6.37zM490.84 914.65h3.18v39.5h-3.18zM500.39 914.65h3.18v39.5h-3.18zM541.77 914.65h3.18v39.5h-3.18zM592.7 914.65h3.18v39.5h-3.18zM124.78 955.4h3.18v39.5h-3.18zM153.43 955.4h9.55v39.5h-9.55zM239.38 955.4h6.37v39.5h-6.37zM271.21 955.4h3.18v39.5h-3.18zM283.94 955.4h3.18v39.5h-3.18zM315.77 955.4h6.37v39.5h-6.37zM360.33 955.4h3.18v39.5h-3.18zM395.35 955.4h3.18v39.5h-3.18zM401.72 955.4h3.18v39.5h-3.18zM474.93 955.4h3.18v39.5h-3.18zM516.31 955.4h3.18v39.5h-3.18zM541.77 955.4h3.18v39.5h-3.18zM567.24 955.4h3.18v39.5h-3.18zM589.52 955.4h3.18v39.5h-3.18zM618.17 955.4h3.18v39.5h-3.18zM150.25 996.15h3.18v39.5h-3.18zM178.9 996.15h3.18v39.5h-3.18zM185.26 996.15h3.18v39.5h-3.18zM274.39 996.15h3.18v39.5h-3.18zM296.67 996.15h3.18v39.5h-3.18zM318.95 996.15h3.18v39.5h-3.18zM328.5 996.15h3.18v39.5h-3.18zM350.78 996.15h3.18v39.5h-3.18zM392.17 996.15h3.18v39.5h-3.18zM401.72 996.15h3.18v39.5h-3.18zM417.63 996.15h3.18v39.5h-3.18zM424 996.15h3.18v39.5h-3.18zM468.56 996.15h3.18v39.5h-3.18zM497.21 996.15h3.18v39.5h-3.18zM564.06 996.15h3.18v39.5h-3.18zM646.82 996.15h3.18v39.5h-3.18zM112.05 1036.9h6.37v39.5h-6.37zM127.97 1036.9h3.18v39.5h-3.18zM140.7 1036.9h6.37v39.5h-6.37zM166.16 1036.9h3.18v39.5h-3.18zM178.9 1036.9h3.18v39.5h-3.18zM210.73 1036.9h3.18v39.5h-3.18zM229.83 1036.9h6.37v39.5h-6.37zM306.22 1036.9h3.18v39.5h-3.18zM322.14 1036.9h3.18v39.5h-3.18zM353.97 1036.9h3.18v39.5h-3.18zM369.88 1036.9h3.18v39.5h-3.18zM401.72 1036.9h3.18v39.5h-3.18zM446.28 1036.9h3.18v39.5h-3.18zM468.56 1036.9h3.18v39.5h-3.18zM519.49 1036.9h3.18v39.5h-3.18zM532.22 1036.9h3.18v39.5h-3.18zM595.89 1036.9h3.18v39.5h-3.18zM121.6 1077.65h3.18v39.5h-3.18zM153.43 1077.65h3.18v39.5h-3.18zM178.9 1077.65h6.37v39.5h-6.37zM188.44 1077.65h9.55v39.5h-9.55zM201.18 1077.65h6.37v39.5h-6.37zM255.29 1077.65h3.18v39.5h-3.18zM325.32 1077.65h3.18v39.5h-3.18zM334.87 1077.65h3.18v39.5h-3.18zM366.7 1077.65h6.37v39.5h-6.37zM392.17 1077.65h3.18v39.5h-3.18zM401.72 1077.65h3.18v39.5h-3.18zM408.08 1077.65h6.37v39.5h-6.37zM417.63 1077.65h3.18v39.5h-3.18zM439.91 1077.65h3.18v39.5h-3.18zM452.65 1077.65h3.18v39.5h-3.18zM599.07 1077.65h3.18v39.5h-3.18zM646.82 1077.65h3.18v39.5h-3.18z"/>
<path fill="#E31A1C" d="M105.68 303.4h3.18v39.5h-3.18zM121.6 303.4h3.18v39.5h-3.18zM134.33 303.4h3.18v39.5h-3.18zM172.53 303.4h3.18v39.5h-3.18zM188.44 303.4h3.18v39.5h-3.18zM207.54 303.4h6.37v39.5h-6.37zM312.59 303.4h3.18v39.5h-3.18zM328.5 303.4h6.37v39.5h-6.37zM344.42 303.4h3.18v39.5h-3.18zM197.99 344.15h3.18v39.5h-3.18zM388.98 344.15h3.18v39.5h-3.18zM455.83 344.15h3.18v39.5h-3.18zM115.23 384.9h3.18v39.5h-3.18zM121.6 384.9h3.18v39.5h-3.18zM220.28 384.9h3.18v39.5h-3.18zM226.64 384.9h6.37v39.5h-6.37zM252.11 384.9h3.18v39.5h-3.18zM258.47 384.9h9.55v39.5h-9.55zM363.52 384.9h6.37v39.5h-6.37zM373.07 384.9h3.18v39.5h-3.18zM385.8 384.9h6.37v39.5h-6.37zM494.03 384.9h3.18v39.5h-3.18zM522.67 384.9h3.18v39.5h-3.18zM529.04 384.9h6.37v39.5h-6.37zM541.77 384.9h3.18v39.5h-3.18zM102.5 425.65h3.18v39.5h-3.18zM134.33 425.65h3.18v39.5h-3.18zM140.7 425.65h3.18v39.5h-3.18zM147.06 425.65h3.18v39.5h-3.18zM280.76 425.65h3.18v39.5h-3.18zM417.63 425.65h3.18v39.5h-3.18zM500.39 425.65h3.18v39.5h-3.18zM102.5 466.4h3.18v39.5h-3.18zM115.23 466.4h3.18v39.5h-3.18zM124.78 466.4h9.55v39.5h-9.55zM162.98 466.4h3.18v39.5h-3.18zM309.4 466.4h3.18v39.5h-3.18zM398.53 466.4h3.18v39.5h-3.18zM424 466.4h6.37v39.5h-6.37zM449.46 466.4h3.18v39.5h-3.18zM573.6 466.4h6.37v39.5h-6.37zM166.16 547.9h6.37v39.5h-6.37zM178.9 547.9h3.18v39.5h-3.18zM188.44 547.9h3.18v39.5h-3.18zM318.95 547.9h3.18v39.5h-3.18zM369.88 547.9h3.18v39.5h-3.18zM398.53 547.9h6.37v39.5h-6.37zM424 547.9h3.18v39.5h-3.18zM439.91 547.9h3.18v39.5h-3.18zM506.76 547.9h3.18v39.5h-3.18zM516.31 547.9h3.18v39.5h-3.18zM551.32 547.9h6.37v39.5h-6.37zM586.34 547.9h3.18v39.5h-3.18zM178.9 588.65h3.18v39.5h-3.18zM357.15 588.65h3.18v39.5h-3.18zM414.45 588.65h3.18v39.5h-3.18zM462.19 588.65h3.18v39.5h-3.18zM108.87 629.4h3.18v39.5h-3.18zM124.78 629.4h3.18v39.5h-3.18zM150.25 629.4h3.18v39.5h-3.18zM156.61 629.4h3.18v39.5h-3.18zM172.53 629.4h9.55v39.5h-9.55zM258.47 629.4h3.18v39.5h-3.18zM271.21 629.4h3.18v39.5h-3.18zM277.57 629.4h3.18v39.5h-3.18zM306.22 629.4h6.37v39.5h-6.37zM325.32 629.4h3.18v39.5h-3.18zM401.72 629.4h3.18v39.5h-3.18zM522.67 629.4h3.18v39.5h-3.18zM134.33 670.15h3.18v39.5h-3.18zM261.66 670.15h3.18v39.5h-3.18zM312.59 670.15h3.18v39.5h-3.18zM427.18 670.15h3.18v39.5h-3.18zM525.86 670.15h6.37v39.5h-6.37zM573.6 670.15h3.18v39.5h-3.18zM143.88 710.9h3.18v39.5h-3.18zM220.28 710.9h3.18v39.5h-3.18zM264.84 710.9h3.18v39.5h-3.18zM280.76 710.9h3.18v39.5h-3.18zM395.35 710.9h3.18v39.5h-3.18zM494.03 710.9h3.18v39.5h-3.18zM500.39 710.9h3.18v39.5h-3.18zM516.31 710.9h3.18v39.5h-3.18zM529.04 710.9h6.37v39.5h-6.37zM557.69 710.9h3.18v39.5h-3.18zM564.06 710.9h3.18v39.5h-3.18zM605.44 710.9h3.18v39.5h-3.18zM611.8 710.9h3.18v39.5h-3.18zM627.72 710.9h3.18v39.5h-3.18zM242.56 751.65h3.18v39.5h-3.18zM264.84 751.65h3.18v39.5h-3.18zM296.67 751.65h3.18v39.5h-3.18zM538.59 751.65h3.18v39.5h-3.18zM570.42 751.65h3.18v39.5h-3.18zM264.84 792.4h3.18v39.5h-3.18zM392.17 792.4h3.18v39.5h-3.18zM468.56 792.4h3.18v39.5h-3.18zM414.45 833.15h3.18v39.5h-3.18zM108.87 873.9h3.18v39.5h-3.18zM115.23 873.9h3.18v39.5h-3.18zM229.83 873.9h3.18v39.5h-3.18zM465.38 873.9h3.18v39.5h-3.18zM532.22 873.9h3.18v39.5h-3.18zM640.45 873.9h3.18v39.5h-3.18zM124.78 914.65h3.18v39.5h-3.18zM309.4 914.65h6.37v39.5h-6.37zM325.32 914.65h3.18v39.5h-3.18zM341.24 914.65h3.18v39.5h-3.18zM366.7 914.65h6.37v39.5h-6.37zM443.1 914.65h3.18v39.5h-3.18zM169.35 955.4h3.18v39.5h-3.18zM134.33 996.15h3.18v39.5h-3.18zM229.83 996.15h3.18v39.5h-3.18zM404.9 996.15h3.18v39.5h-3.18zM277.57 1036.9h3.18v39.5h-3.18z"/>
<path fill="#000000" d="M112.05 303.4h3.18v39.5h-3.18zM124.78 303.4h3.18v39.5h-3.18zM131.15 303.4h3.18v39.5h-3.18zM153.43 303.4h3.18v39.5h-3.18zM178.9 303.4h6.37v39.5h-6.37zM197.99 303.4h3.18v39.5h-3.18zM248.92 303.4h3.18v39.5h-3.18zM271.21 303.4h3.18v39.5h-3.18zM283.94 303.4h3.18v39.5h-3.18zM293.49 303.4h3.18v39.5h-3.18zM309.4 303.4h3.18v39.5h-3.18zM315.77 303.4h3.18v39.5h-3.18zM102.5 344.15h6.37v39.5h-6.37zM112.05 344.15h6.37v39.5h-6.37zM124.78 344.15h6.37v39.5h-6.37zM134.33 344.15h12.73v39.5h-12.73zM153.43 344.15h3.18v39.5h-3.18zM159.8 344.15h3.18v39.5h-3.18zM166.16 344.15h3.18v39.5h-3.18zM178.9 344.15h6.37v39.5h-6.37zM191.63 344.15h3.18v39.5h-3.18zM201.18 344.15h9.55v39.5h-9.55zM213.91 344.15h3.18v39.5h-3.18zM357.15 344.15h3.18v39.5h-3.18zM363.52 344.15h6.37v39.5h-6.37zM376.25 344.15h3.18v39.5h-3.18zM385.8 344.15h3.18v39.5h-3.18zM392.17 344.15h6.37v39.5h-6.37zM401.72 344.15h6.37v39.5h-6.37zM411.26 344.15h3.18v39.5h-3.18zM430.36 344.15h3.18v39.5h-3.18zM436.73 344.15h3.18v39.5h-3.18zM452.65 344.15h3.18v39.5h-3.18zM459.01 344.15h6.37v39.5h-6.37zM468.56 344.15h6.37v39.5h-6.37zM478.11 344.15h3.18v39.5h-3.18zM233.01 384.9h6.37v39.5h-6.37zM245.74 384.9h3.18v39.5h-3.18zM357.15 384.9h3.18v39.5h-3.18zM105.68 425.65h3.18v39.5h-3.18zM124.78 425.65h6.37v39.5h-6.37zM150.25 425.65h12.73v39.5h-12.73zM220.28 425.65h3.18v39.5h-3.18zM363.52 425.65h6.37v39.5h-6.37zM392.17 425.65h6.37v39.5h-6.37zM401.72 425.65h12.73v39.5h-12.73zM560.87 425.65h3.18v39.5h-3.18zM166.16 466.4h3.18v39.5h-3.18zM268.02 466.4h3.18v39.5h-3.18zM296.67 466.4h9.55v39.5h-9.55zM392.17 466.4h6.37v39.5h-6.37zM404.9 466.4h3.18v39.5h-3.18zM433.55 466.4h9.55v39.5h-9.55zM570.42 466.4h3.18v39.5h-3.18zM494.03 507.15h3.18v39.5h-3.18zM589.52 507.15h3.18v39.5h-3.18zM124.78 547.9h3.18v39.5h-3.18zM150.25 547.9h3.18v39.5h-3.18zM182.08 547.9h3.18v39.5h-3.18zM395.35 547.9h3.18v39.5h-3.18zM408.08 547.9h3.18v39.5h-3.18zM509.94 547.9h3.18v39.5h-3.18zM608.62 547.9h3.18v39.5h-3.18zM131.15 588.65h3.18v39.5h-3.18zM166.16 588.65h3.18v39.5h-3.18zM252.11 588.65h3.18v39.5h-3.18zM303.04 588.65h3.18v39.5h-3.18zM328.5 588.65h3.18v39.5h-3.18zM392.17 588.65h6.37v39.5h-6.37zM401.72 588.65h3.18v39.5h-3.18zM140.7 629.4h3.18v39.5h-3.18zM201.18 629.4h3.18v39.5h-3.18zM369.88 629.4h3.18v39.5h-3.18zM443.1 629.4h3.18v39.5h-3.18zM127.97 670.15h3.18v39.5h-3.18zM166.16 670.15h3.18v39.5h-3.18zM220.28 670.15h3.18v39.5h-3.18zM392.17 670.15h6.37v39.5h-6.37zM401.72 670.15h3.18v39.5h-3.18zM424 670.15h3.18v39.5h-3.18zM430.36 670.15h3.18v39.5h-3.18zM560.87 670.15h3.18v39.5h-3.18zM611.8 670.15h3.18v39.5h-3.18zM156.61 710.9h3.18v39.5h-3.18zM242.56 710.9h3.18v39.5h-3.18zM401.72 710.9h3.18v39.5h-3.18zM315.77 751.65h3.18v39.5h-3.18zM395.35 751.65h6.37v39.5h-6.37zM105.68 792.4h3.18v39.5h-3.18zM169.35 792.4h3.18v39.5h-3.18zM178.9 792.4h3.18v39.5h-3.18zM395.35 792.4h3.18v39.5h-3.18zM427.18 792.4h3.18v39.5h-3.18zM350.78 833.15h3.18v39.5h-3.18zM395.35 833.15h3.18v39.5h-3.18zM127.97 873.9h3.18v39.5h-3.18zM395.35 873.9h3.18v39.5h-3.18zM497.21 873.9h3.18v39.5h-3.18zM576.79 873.9h3.18v39.5h-3.18zM127.97 914.65h3.18v39.5h-3.18zM252.11 914.65h3.18v39.5h-3.18zM350.78 914.65h3.18v39.5h-3.18zM398.53 914.65h3.18v39.5h-3.18zM589.52 914.65h3.18v39.5h-3.18zM112.05 955.4h3.18v39.5h-3.18zM121.6 955.4h3.18v39.5h-3.18zM127.97 955.4h6.37v39.5h-6.37zM226.64 955.4h3.18v39.5h-3.18zM433.55 955.4h3.18v39.5h-3.18zM105.68 996.15h3.18v39.5h-3.18zM112.05 996.15h3.18v39.5h-3.18zM395.35 996.15h6.37v39.5h-6.37zM408.08 996.15h3.18v39.5h-3.18zM430.36 996.15h3.18v39.5h-3.18zM455.83 996.15h3.18v39.5h-3.18zM548.14 996.15h3.18v39.5h-3.18zM118.42 1036.9h3.18v39.5h-3.18zM124.78 1036.9h3.18v39.5h-3.18zM204.36 1036.9h3.18v39.5h-3.18zM420.81 1036.9h3.18v39.5h-3.18zM560.87 1036.9h3.18v39.5h-3.18zM172.53 1077.65h3.18v39.5h-3.18zM233.01 1077.65h3.18v39.5h-3.18zM277.57 1077.65h3.18v39.5h-3.18zM357.15 1077.65h3.18v39.5h-3.18z"/>
<path fill="#6A3D9A" d="M115.23 303.4h3.18v39.5h-3.18zM220.28 303.4h3.18v39.5h-3.18zM102.5 384.9h3.18v39.5h-3.18zM108.87 384.9h3.18v39.5h-3.18zM255.29 384.9h3.18v39.5h-3.18zM369.88 384.9h3.18v39.5h-3.18zM509.94 384.9h6.37v39.5h-6.37zM236.19 466.4h3.18v39.5h-3.18zM430.36 466.4h3.18v39.5h-3.18zM503.58 466.4h3.18v39.5h-3.18zM583.15 466.4h3.18v39.5h-3.18zM229.83 547.9h3.18v39.5h-3.18zM296.67 547.9h3.18v39.5h-3.18zM376.25 547.9h3.18v39.5h-3.18zM436.73 547.9h3.18v39.5h-3.18zM605.44 588.65h3.18v39.5h-3.18zM169.35 629.4h3.18v39.5h-3.18zM194.81 629.4h3.18v39.5h-3.18zM217.09 629.4h3.18v39.5h-3.18zM233.01 629.4h3.18v39.5h-3.18zM287.12 629.4h3.18v39.5h-3.18zM315.77 629.4h3.18v39.5h-3.18zM338.05 629.4h6.37v39.5h-6.37zM608.62 629.4h3.18v39.5h-3.18zM153.43 670.15h3.18v39.5h-3.18zM436.73 670.15h3.18v39.5h-3.18zM570.42 670.15h3.18v39.5h-3.18zM363.52 710.9h3.18v39.5h-3.18zM373.07 710.9h3.18v39.5h-3.18zM290.31 1036.9h3.18v39.5h-3.18z"/>
<path fill="#FF7F00" d="M118.42 303.4h3.18v39.5h-3.18zM274.39 303.4h3.18v39.5h-3.18zM223.46 384.9h3.18v39.5h-3.18zM242.56 384.9h3.18v39.5h-3.18zM248.92 384.9h3.18v39.5h-3.18zM360.33 384.9h3.18v39.5h-3.18zM500.39 384.9h3.18v39.5h-3.18zM525.86 384.9h3.18v39.5h-3.18zM255.29 547.9h3.18v39.5h-3.18zM182.08 588.65h3.18v39.5h-3.18zM153.43 629.4h3.18v39.5h-3.18zM185.26 629.4h3.18v39.5h-3.18zM197.99 629.4h3.18v39.5h-3.18zM280.76 629.4h6.37v39.5h-6.37zM344.42 629.4h3.18v39.5h-3.18zM411.26 629.4h3.18v39.5h-3.18zM245.74 710.9h3.18v39.5h-3.18zM191.63 792.4h3.18v39.5h-3.18zM417.63 833.15h3.18v39.5h-3.18zM102.5 873.9h3.18v39.5h-3.18zM357.15 873.9h3.18v39.5h-3.18zM379.43 873.9h3.18v39.5h-3.18zM525.86 873.9h3.18v39.5h-3.18zM118.42 914.65h3.18v39.5h-3.18zM331.69 996.15h3.18v39.5h-3.18z"/>
<path fill="#1F78B4" d="M143.88 303.4h3.18v39.5h-3.18zM159.8 303.4h3.18v39.5h-3.18zM166.16 303.4h3.18v39.5h-3.18zM112.05 384.9h3.18v39.5h-3.18zM217.09 384.9h3.18v39.5h-3.18zM376.25 384.9h9.55v39.5h-9.55zM490.84 384.9h3.18v39.5h-3.18zM497.21 384.9h3.18v39.5h-3.18zM519.49 384.9h3.18v39.5h-3.18zM538.59 384.9h3.18v39.5h-3.18zM548.14 384.9h3.18v39.5h-3.18zM490.84 425.65h3.18v39.5h-3.18zM137.51 466.4h3.18v39.5h-3.18zM172.53 466.4h3.18v39.5h-3.18zM217.09 466.4h3.18v39.5h-3.18zM233.01 466.4h3.18v39.5h-3.18zM446.28 466.4h3.18v39.5h-3.18zM490.84 466.4h3.18v39.5h-3.18zM322.14 547.9h3.18v39.5h-3.18zM452.65 547.9h3.18v39.5h-3.18zM605.44 547.9h3.18v39.5h-3.18zM611.8 547.9h3.18v39.5h-3.18zM322.14 629.4h3.18v39.5h-3.18zM382.62 670.15h3.18v39.5h-3.18zM446.28 670.15h3.18v39.5h-3.18zM605.44 670.15h3.18v39.5h-3.18zM102.5 710.9h3.18v39.5h-3.18zM194.81 710.9h3.18v39.5h-3.18zM248.92 710.9h3.18v39.5h-3.18zM322.14 710.9h3.18v39.5h-3.18zM347.6 710.9h3.18v39.5h-3.18zM398.53 710.9h3.18v39.5h-3.18zM465.38 710.9h3.18v39.5h-3.18zM535.41 710.9h3.18v39.5h-3.18zM541.77 751.65h3.18v39.5h-3.18zM127.97 792.4h3.18v39.5h-3.18zM303.04 914.65h3.18v39.5h-3.18zM446.28 914.65h3.18v39.5h-3.18zM137.51 955.4h3.18v39.5h-3.18zM229.83 955.4h3.18v39.5h-3.18zM411.26 1036.9h3.18v39.5h-3.18z"/>
<path fill="#FFFF99" d="M614.99 547.9h3.18v39.5h-3.18z"/>
<rect x="102.5" y="303.4" width="547.5" height="813.75" fill="url(#sepA)"/>
<rect x="102" y="342.9" width="548.5" height="1.25" fill="#F2F2F2"/>
<rect x="102" y="383.65" width="548.5" height="1.25" fill="#F2F2F2"/>
<rect x="102" y="424.4" width="548.5" height="1.25" fill="#F2F2F2"/>
<rect x="102" y="465.15" width="548.5" height="1.25" fill="#F2F2F2"/>
<rect x="102" y="505.9" width="548.5" height="1.25" fill="#F2F2F2"/>
<rect x="102" y="546.65" width="548.5" height="1.25" fill="#F2F2F2"/>
<rect x="102" y="587.4" width="548.5" height="1.25" fill="#F2F2F2"/>
<rect x="102" y="628.15" width="548.5" height="1.25" fill="#F2F2F2"/>
<rect x="102" y="668.9" width="548.5" height="1.25" fill="#F2F2F2"/>
<rect x="102" y="709.65" width="548.5" height="1.25" fill="#F2F2F2"/>
<rect x="102" y="750.4" width="548.5" height="1.25" fill="#F2F2F2"/>
<rect x="102" y="791.15" width="548.5" height="1.25" fill="#F2F2F2"/>
<rect x="102" y="831.9" width="548.5" height="1.25" fill="#F2F2F2"/>
<rect x="102" y="872.65" width="548.5" height="1.25" fill="#F2F2F2"/>
<rect x="102" y="913.4" width="548.5" height="1.25" fill="#F2F2F2"/>
<rect x="102" y="954.15" width="548.5" height="1.25" fill="#F2F2F2"/>
<rect x="102" y="994.9" width="548.5" height="1.25" fill="#F2F2F2"/>
<rect x="102" y="1035.65" width="548.5" height="1.25" fill="#F2F2F2"/>
<rect x="102" y="1076.4" width="548.5" height="1.25" fill="#F2F2F2"/>
<text x="14.23" y="330.1">TP53</text>
<text x="19.32" y="370.1">TTN</text>
<text x="4.47" y="409.1">KDM6A</text>
<text x="4.55" y="451.1">MUC16</text>
<text x="4.86" y="492.1">KMT2D</text>
<text x="2.69" y="533.1">PIK3CA</text>
<text x="2.03" y="574.1">ARID1A</text>
<text x="7.37" y="614.1">SYNE1</text>
<text x="24.54" y="655.1">RB1</text>
<text x="6.22" y="696.1">KMT2C</text>
<text x="7.39" y="738.1">STAG2</text>
<text x="14.97" y="778.6">RYR2</text>
<text x="4.21" y="819.6">CSMD3</text>
<text x="2.35" y="860.1">HMCN1</text>
<text x="23.83" y="898.1">ATM</text>
<text x="10.51" y="939.1">EP300</text>
<text x="11.1" y="980.1">BIRC6</text>
<text x="3.62" y="1021.1">MACF1</text>
<text x="2.76" y="1063.1">OBSCN</text>
<text x="5.64" y="1103.1">ERBB2</text>
<text x="654.37" y="335.75">44</text>
<text x="654.37" y="375">43</text>
<text x="654.13" y="414.25">29</text>
<text x="653.63" y="456.25">29</text>
<text x="653.13" y="496.75">26</text>
<text x="655.63" y="535">24</text>
<text x="654.13" y="575.5">23</text>
<text x="655.13" y="615.5">22</text>
<text x="655.13" y="656.75">22</text>
<text x="650.42" y="697">19</text>
<text x="649.92" y="739.25">19</text>
<text x="649.42" y="779.25">18</text>
<text x="650.42" y="819">18</text>
<text x="650.92" y="861.25">18</text>
<text x="650.92" y="900">17</text>
<text x="650.92" y="941.75">16</text>
<text x="650.92" y="982.5">16</text>
<text x="650.92" y="1022.5">16</text>
<text x="650.42" y="1064.25">16</text>
<text x="649.92" y="1104.5">15</text>
<text x="649.81" y="286">(%)</text>
<line x1="703" y1="293.75" x2="907.5" y2="293.75" stroke="#222" stroke-width="1.5"/>
<line x1="703.4" y1="283.75" x2="703.4" y2="294.5" stroke="#444" stroke-width="1.2"/>
<line x1="907.2" y1="283.75" x2="907.2" y2="294.5" stroke="#444" stroke-width="1.2"/>
<text x="690.94" y="272.3">0</text>
<text x="705.76" y="253.75">No. of samples</text>
<text x="884.32" y="270.75">80</text>
<path fill="#6A3D9A" d="M702.75 303.4h5.42v37.2h-5.42zM702.75 384.9h15.65v37.2h-15.65zM702.75 466.4h10.53v37.2h-10.53zM702.75 547.9h10.53v37.2h-10.53zM702.75 588.65h2.86v37.2h-2.86zM702.75 629.4h23.32v37.2h-23.32zM702.75 670.15h7.97v37.2h-7.97zM702.75 710.9h5.42v37.2h-5.42zM702.75 1036.9h2.86v37.2h-2.86z"/>
<path fill="#33A02C" d="M707.87 303.4h125.62v37.2h-125.62zM702.75 344.15h94.93v37.2h-94.93zM718.1 384.9h20.76v37.2h-20.76zM702.75 425.65h69.35v37.2h-69.35zM712.98 466.4h30.99v37.2h-30.99zM702.75 507.15h107.72v37.2h-107.72zM712.98 547.9h23.32v37.2h-23.32zM705.31 588.65h66.8v37.2h-66.8zM725.77 629.4h7.97v37.2h-7.97zM710.42 670.15h30.99v37.2h-30.99zM707.87 710.9h15.65v37.2h-15.65zM702.75 751.65h61.68v37.2h-61.68zM702.75 792.4h56.56v37.2h-56.56zM702.75 833.15h71.91v37.2h-71.91zM702.75 873.9h43.78v37.2h-43.78zM702.75 914.65h33.55v37.2h-33.55zM702.75 955.4h48.89v37.2h-48.89zM702.75 996.15h41.22v37.2h-41.22zM705.31 1036.9h51.45v37.2h-51.45zM702.75 1077.65h59.12v37.2h-59.12z"/>
<path fill="#E31A1C" d="M833.18 303.4h28.43v37.2h-28.43zM797.38 344.15h7.97v37.2h-7.97zM738.55 384.9h48.89v37.2h-48.89zM771.8 425.65h18.2v37.2h-18.2zM743.67 466.4h33.55v37.2h-33.55zM736 547.9h38.66v37.2h-38.66zM771.8 588.65h10.53v37.2h-10.53zM733.44 629.4h38.66v37.2h-38.66zM741.11 670.15h18.2v37.2h-18.2zM723.21 710.9h38.66v37.2h-38.66zM764.13 751.65h13.09v37.2h-13.09zM759.01 792.4h7.97v37.2h-7.97zM774.36 833.15h2.86v37.2h-2.86zM746.23 873.9h15.65v37.2h-15.65zM736 914.65h20.76v37.2h-20.76zM751.34 955.4h2.86v37.2h-2.86zM743.67 996.15h7.97v37.2h-7.97zM756.46 1036.9h2.86v37.2h-2.86z"/>
<path fill="#1F78B4" d="M861.32 303.4h7.97v37.2h-7.97zM787.15 384.9h25.88v37.2h-25.88zM789.71 425.65h2.86v37.2h-2.86zM776.92 466.4h15.64v37.2h-15.64zM774.36 547.9h10.53v37.2h-10.53zM771.8 629.4h2.86v37.2h-2.86zM759.01 670.15h7.97v37.2h-7.97zM761.57 710.9h20.76v37.2h-20.76zM776.92 751.65h2.86v37.2h-2.86zM766.69 792.4h2.86v37.2h-2.86zM756.46 914.65h5.42v37.2h-5.42zM753.9 955.4h5.41v37.2h-5.41zM759.01 1036.9h2.86v37.2h-2.86z"/>
<path fill="#FF7F00" d="M868.99 303.4h5.42v37.2h-5.42zM812.72 384.9h15.64v37.2h-15.64zM784.59 547.9h2.86v37.2h-2.86zM782.03 588.65h2.86v37.2h-2.86zM774.36 629.4h18.2v37.2h-18.2zM782.03 710.9h2.86v37.2h-2.86zM769.25 792.4h2.86v37.2h-2.86zM776.92 833.15h2.86v37.2h-2.86zM761.57 873.9h10.53v37.2h-10.53zM761.57 914.65h2.86v37.2h-2.86zM751.34 996.15h2.86v37.2h-2.86z"/>
<path fill="#000000" d="M874.1 303.4h33.55v37.2h-33.55zM805.05 344.15h97.48v37.2h-97.48zM828.07 384.9h10.53v37.2h-10.53zM792.26 425.65h43.78v37.2h-43.78zM792.26 466.4h30.99v37.2h-30.99zM810.16 507.15h5.41v37.2h-5.41zM789.71 547.9h18.2v37.2h-18.2zM784.59 588.65h20.76v37.2h-20.76zM792.26 629.4h10.53v37.2h-10.53zM766.69 670.15h25.88v37.2h-25.88zM784.59 710.9h7.97v37.2h-7.97zM779.48 751.65h7.97v37.2h-7.97zM771.8 792.4h13.09v37.2h-13.09zM779.48 833.15h5.41v37.2h-5.41zM771.8 873.9h10.53v37.2h-10.53zM764.13 914.65h13.09v37.2h-13.09zM759.01 955.4h15.64v37.2h-15.64zM753.9 996.15h20.76v37.2h-20.76zM761.57 1036.9h13.09v37.2h-13.09zM761.57 1077.65h10.53v37.2h-10.53z"/>
<path fill="#FFFF99" d="M787.15 547.9h2.86v37.2h-2.86z"/>
<path fill="#F6695E" d="M104 1135.8h546v165.5h-546z"/>
<path fill="#6574C4" d="M104 1160h3v65.6h-3zM107 1175h3v32.2h-3zM110 1183.3h3v27.2h-3zM113 1161.1h3v59.5h-3zM116 1170h3v69.5h-3zM119 1155.5h3v52.3h-3zM122 1173.9h3v42.8h-3zM125 1165.5h3v43.9h-3zM128 1176.1h3v28.4h-3zM131 1185h3v11.7h-3zM134 1170h3v49.5h-3zM137 1169.4h3v58.4h-3zM140 1184.5h3v35h-3zM143 1176.7h3v71.2h-3zM146 1188.3h3v21.1h-3zM149 1228.9h3v29.5h-3zM152 1172.8h3v36.1h-3zM155 1162.2h3v61.7h-3zM158 1156.7h3v62.3h-3zM161 1173.9h3v7.2h-3zM164 1165.5h3v50h-3zM167 1191.1h3v27.8h-3zM170 1172.2h3v40.6h-3zM173 1209.5h3v6.1h-3zM176 1157.8h3v50.6h-3zM179 1167.8h3v30.6h-3zM182 1160h3v55.6h-3zM185 1185.6h3v53.4h-3zM188 1208.9h3v11.7h-3zM191 1183.3h3v31.1h-3zM194 1154.4h3v38.6h-3zM197 1222.8h3v26.7h-3zM200 1166.7h3v41.7h-3zM203 1196.1h3v22.8h-3zM206 1176.7h3v35.6h-3zM209 1165.5h3v56.7h-3zM212 1173.9h3v36.7h-3zM215 1161.1h3v60.6h-3zM218 1211.1h3v22.8h-3zM221 1213.9h3v20h-3zM224 1152.2h3v31.7h-3zM227 1180h3v39.5h-3zM230 1157.2h3v61.7h-3zM233 1150.5h3v46.7h-3zM236 1187.2h3v26.1h-3zM239 1156.7h3v56.2h-3zM242 1146.1h3v60.6h-3zM245 1164.4h3v46.1h-3zM248 1180.6h3v40.6h-3zM251 1215.6h3v13.9h-3zM254 1182.8h3v27.8h-3zM257 1183.3h3v48.4h-3zM260 1163.3h3v65h-3zM263 1164.4h3v45.6h-3zM266 1211.7h3v29.5h-3zM269 1153.3h3v56.7h-3zM272 1162.2h3v32.8h-3zM275 1194.5h3v23.3h-3zM278 1198.3h3v30.6h-3zM281 1168.3h3v58.9h-3zM284 1161.7h3v61.2h-3zM287 1168.9h3v45h-3zM290 1183.9h3v48.4h-3zM293 1216.7h3v27.2h-3zM296 1193.3h3v39.5h-3zM299 1182.8h3v30.6h-3zM302 1160.5h3v46.7h-3zM305 1210h3v20h-3zM308 1216.7h3v13.3h-3zM311 1210h3v31.7h-3zM314 1165.5h3v46.1h-3zM317 1159.4h3v45h-3zM320 1156.1h3v72.3h-3zM323 1183.9h3v31.7h-3zM326 1148.3h3v72.3h-3zM329 1211.7h3v24.5h-3zM332 1192.2h3v29.5h-3zM335 1211.7h3v21.7h-3zM338 1213.9h3v29.5h-3zM341 1231.7h3v16.1h-3zM344 1172.8h3v46.7h-3zM347 1220.6h3v22.2h-3zM350 1181.7h3v21.1h-3zM353 1162.2h3v23.9h-3zM356 1155h3v42.3h-3zM359 1168.9h3v53.9h-3zM362 1163.9h3v49.5h-3zM365 1225.6h3v20h-3zM368 1212.2h3v20.6h-3zM371 1172.8h3v27.8h-3zM374 1179.4h3v45h-3zM377 1201.7h3v17.8h-3zM380 1167.2h3v33.9h-3zM383 1154.4h3v62.3h-3zM386 1158.3h3v56.2h-3zM389 1196.1h3v21.1h-3zM392 1162.2h3v74.5h-3zM395 1158.9h3v78.4h-3zM398 1167.8h3v25.6h-3zM401 1160.5h3v43.4h-3zM404 1171.1h3v50.6h-3zM407 1155h3v77.8h-3zM410 1170h3v37.8h-3zM413 1171.1h3v57.8h-3zM416 1163.9h3v45.6h-3zM419 1188.9h3v33.9h-3zM422 1186.7h3v33.4h-3zM425 1157.8h3v54.5h-3zM428 1173.3h3v60h-3zM431 1177.2h3v15h-3zM434 1160h3v61.7h-3zM437 1161.1h3v55h-3zM440 1210h3v20h-3zM443 1208.9h3v28.9h-3zM446 1180h3v32.8h-3zM449 1181.1h3v19.5h-3zM452 1157.8h3v55.6h-3zM455 1171.1h3v11.7h-3zM458 1173.9h3v56.7h-3zM461 1191.7h3v13.9h-3zM464 1175h3v43.4h-3zM467 1152.8h3v58.9h-3zM470 1170.6h3v32.2h-3zM473 1196.7h3v31.7h-3zM476 1165.5h3v55h-3zM479 1220.6h3v28.9h-3zM482 1214.5h3v28.9h-3zM485 1166.7h3v65.6h-3zM488 1169.4h3v41.7h-3zM491 1168.9h3v21.1h-3zM494 1158.9h3v84.5h-3zM497 1157.2h3v68.4h-3zM500 1152.8h3v66.2h-3zM503 1163.9h3v46.7h-3zM506 1233.4h3v33.4h-3zM509 1208.9h3v35h-3zM512 1153.3h3v13.3h-3zM515 1152.8h3v56.2h-3zM518 1180h3v26.1h-3zM521 1165h3v25h-3zM524 1161.1h3v63.4h-3zM527 1151.1h3v53.9h-3zM530 1186.7h3v30.6h-3zM533 1152.2h3v52.8h-3zM536 1151.7h3v68.9h-3zM539 1170.6h3v33.9h-3zM542 1154.4h3v56.2h-3zM545 1187.2h3v55.6h-3zM548 1205.6h3v13.3h-3zM551 1227.8h3v19.5h-3zM554 1173.3h3v32.2h-3zM557 1155h3v63.9h-3zM560 1195h3v16.7h-3zM563 1152.8h3v71.2h-3zM566 1168.9h3v63.4h-3zM569 1157.8h3v43.9h-3zM572 1158.9h3v60.6h-3zM575 1195h3v20.6h-3zM578 1155h3v55.6h-3zM581 1158.9h3v54.5h-3zM584 1173.3h3v67.3h-3zM587 1165.5h3v48.9h-3zM590 1215.6h3v30h-3zM593 1175.6h3v46.1h-3zM596 1178.3h3v58.9h-3zM599 1177.2h3v38.4h-3zM602 1161.7h3v51.1h-3zM605 1212.2h3v9.5h-3zM608 1168.9h3v43.4h-3zM611 1188.3h3v40.6h-3zM614 1211.7h3v21.7h-3zM617 1192.8h3v49.5h-3zM620 1209.5h3v16.1h-3zM623 1192.2h3v14.5h-3zM626 1180.6h3v30h-3zM629 1191.1h3v30.6h-3zM632 1150h3v52.3h-3zM635 1148.3h3v70h-3zM638 1170.6h3v63.9h-3zM641 1183.9h3v50h-3zM644 1180.6h3v26.7h-3zM647 1178.3h3v28.9h-3z"/>
<path fill="#4DABF5" d="M104 1142.2h3v17.8h-3zM107 1162.8h3v12.2h-3zM110 1155h3v28.4h-3zM113 1147.8h3v13.3h-3zM116 1146.6h3v23.3h-3zM119 1141.1h3v14.5h-3zM122 1153.9h3v20h-3zM125 1145.5h3v20h-3zM128 1154.4h3v21.7h-3zM131 1170h3v15h-3zM134 1151.7h3v18.3h-3zM137 1158.9h3v10.6h-3zM140 1165h3v19.5h-3zM143 1149.4h3v27.2h-3zM146 1168.9h3v19.5h-3zM149 1179.4h3v49.5h-3zM152 1158.9h3v13.9h-3zM155 1151.1h3v11.1h-3zM158 1146.1h3v10.6h-3zM161 1158.9h3v15h-3zM164 1153.9h3v11.7h-3zM167 1171.1h3v20h-3zM170 1164.4h3v7.8h-3zM173 1169.4h3v40h-3zM176 1150.5h3v7.2h-3zM179 1156.1h3v11.7h-3zM182 1145h3v15h-3zM185 1163.3h3v22.2h-3zM188 1170h3v38.9h-3zM191 1156.1h3v27.2h-3zM194 1138.9h3v15.6h-3zM197 1146.1h3v76.7h-3zM200 1149.4h3v17.2h-3zM203 1188.9h3v7.2h-3zM206 1160h3v16.7h-3zM209 1150.5h3v15h-3zM212 1157.8h3v16.1h-3zM215 1146.6h3v14.5h-3zM218 1190.6h3v20.6h-3zM221 1174.4h3v39.5h-3zM224 1143.9h3v8.3h-3zM227 1152.8h3v27.2h-3zM230 1141.6h3v15.6h-3zM233 1139.4h3v11.1h-3zM236 1173.3h3v13.9h-3zM239 1143.3h3v13.3h-3zM242 1138.3h3v7.8h-3zM245 1159.4h3v5h-3zM248 1170h3v10.6h-3zM251 1193.3h3v22.2h-3zM254 1168.3h3v14.5h-3zM257 1161.7h3v21.7h-3zM260 1146.6h3v16.7h-3zM263 1146.1h3v18.3h-3zM266 1156.7h3v55h-3zM269 1141.6h3v11.7h-3zM272 1150.5h3v11.7h-3zM275 1158.9h3v35.6h-3zM278 1173.9h3v24.5h-3zM281 1148.9h3v19.5h-3zM284 1145h3v16.7h-3zM287 1158.3h3v10.6h-3zM290 1157.8h3v26.1h-3zM293 1200.6h3v16.1h-3zM296 1178.9h3v14.5h-3zM299 1164.4h3v18.3h-3zM302 1142.2h3v18.3h-3zM305 1184.5h3v25.6h-3zM308 1188.9h3v27.8h-3zM311 1181.7h3v28.4h-3zM314 1140.5h3v25h-3zM317 1141.6h3v17.8h-3zM320 1144.4h3v11.7h-3zM323 1150.5h3v33.4h-3zM326 1142.2h3v6.1h-3zM329 1186.7h3v25h-3zM332 1165h3v27.2h-3zM335 1190h3v21.7h-3zM338 1188.3h3v25.6h-3zM341 1152.2h3v79.5h-3zM344 1148.9h3v23.9h-3zM347 1193.3h3v27.2h-3zM350 1156.1h3v25.6h-3zM353 1153.3h3v8.9h-3zM356 1142.8h3v12.2h-3zM359 1148.3h3v20.6h-3zM362 1148.9h3v15h-3zM365 1202.2h3v23.3h-3zM368 1175.6h3v36.7h-3zM371 1147.8h3v25h-3zM374 1158.9h3v20.6h-3zM377 1171.1h3v30.6h-3zM380 1150h3v17.2h-3zM383 1139.4h3v15h-3zM386 1146.1h3v12.2h-3zM389 1176.1h3v20h-3zM392 1147.8h3v14.5h-3zM395 1146.6h3v12.2h-3zM398 1162.8h3v5h-3zM401 1157.8h3v2.8h-3zM404 1146.6h3v24.5h-3zM407 1147.2h3v7.8h-3zM410 1150h3v20h-3zM413 1152.8h3v18.3h-3zM416 1150.5h3v13.3h-3zM419 1158.3h3v30.6h-3zM422 1160h3v26.7h-3zM425 1143.3h3v14.5h-3zM428 1157.8h3v15.6h-3zM431 1157.8h3v19.5h-3zM434 1146.6h3v13.3h-3zM437 1145.5h3v15.6h-3zM440 1155.5h3v54.5h-3zM443 1176.7h3v32.2h-3zM446 1159.4h3v20.6h-3zM449 1157.8h3v23.3h-3zM452 1148.9h3v8.9h-3zM455 1151.1h3v20h-3zM458 1153.9h3v20h-3zM461 1159.4h3v32.2h-3zM464 1152.8h3v22.2h-3zM467 1139.4h3v13.3h-3zM470 1152.8h3v17.8h-3zM473 1173.9h3v22.8h-3zM476 1146.6h3v18.9h-3zM479 1210h3v10.6h-3zM482 1187.8h3v26.7h-3zM485 1148.3h3v18.3h-3zM488 1154.4h3v15h-3zM491 1153.9h3v15h-3zM494 1141.1h3v17.8h-3zM497 1140h3v17.2h-3zM500 1139.4h3v13.3h-3zM503 1147.8h3v16.1h-3zM506 1217.8h3v15.6h-3zM509 1190h3v18.9h-3zM512 1146.1h3v7.2h-3zM515 1140.5h3v12.2h-3zM518 1157.8h3v22.2h-3zM521 1149.4h3v15.6h-3zM524 1143.3h3v17.8h-3zM527 1139.4h3v11.7h-3zM530 1168.9h3v17.8h-3zM533 1146.6h3v5.6h-3zM536 1140.5h3v11.1h-3zM539 1156.7h3v13.9h-3zM542 1141.6h3v12.8h-3zM545 1168.9h3v18.3h-3zM548 1177.2h3v28.4h-3zM551 1208.4h3v19.5h-3zM554 1155h3v18.3h-3zM557 1143.9h3v11.1h-3zM560 1177.2h3v17.8h-3zM563 1146.1h3v6.7h-3zM566 1150h3v18.9h-3zM569 1143.9h3v13.9h-3zM572 1143.3h3v15.6h-3zM575 1175h3v20h-3zM578 1140.5h3v14.5h-3zM581 1147.8h3v11.1h-3zM584 1147.2h3v26.1h-3zM587 1145h3v20.6h-3zM590 1185.6h3v30h-3zM593 1162.8h3v12.8h-3zM596 1161.1h3v17.2h-3zM599 1161.7h3v15.6h-3zM602 1144.4h3v17.2h-3zM605 1186.1h3v26.1h-3zM608 1150.5h3v18.3h-3zM611 1162.2h3v26.1h-3zM614 1185h3v26.7h-3zM617 1165.5h3v27.2h-3zM620 1178.3h3v31.1h-3zM623 1169.4h3v22.8h-3zM626 1167.8h3v12.8h-3zM629 1162.8h3v28.4h-3zM632 1136.6h3v13.3h-3zM635 1139.4h3v8.9h-3zM638 1157.2h3v13.3h-3zM641 1167.8h3v16.1h-3zM644 1157.2h3v23.3h-3zM647 1158.3h3v20h-3z"/>
<path fill="#FFCD39" d="M104 1140h3v2.2h-3zM107 1145h3v17.8h-3zM110 1148.9h3v6.1h-3zM113 1141.1h3v6.7h-3zM116 1139.4h3v7.2h-3zM119 1140.5h3v.6h-3zM122 1140.5h3v13.3h-3zM125 1140.5h3v5h-3zM128 1141.1h3v13.3h-3zM131 1146.1h3v23.9h-3zM134 1142.8h3v8.9h-3zM137 1151.1h3v7.8h-3zM140 1148.9h3v16.1h-3zM143 1141.6h3v7.8h-3zM146 1153.9h3v15h-3zM149 1154.4h3v25h-3zM152 1145.5h3v13.3h-3zM155 1141.6h3v9.5h-3zM158 1141.1h3v5h-3zM161 1143.9h3v15h-3zM164 1139.4h3v14.5h-3zM167 1147.8h3v23.3h-3zM170 1148.9h3v15.6h-3zM173 1142.8h3v26.7h-3zM176 1141.6h3v8.9h-3zM179 1155.5h3v.6h-3zM182 1138.3h3v6.7h-3zM185 1149.4h3v13.9h-3zM188 1150h3v20h-3zM191 1146.1h3v10h-3zM197 1140h3v6.1h-3zM200 1140.5h3v8.9h-3zM203 1148.3h3v40.6h-3zM206 1145h3v15h-3zM209 1139.4h3v11.1h-3zM212 1142.2h3v15.6h-3zM215 1141.6h3v5h-3zM218 1157.8h3v32.8h-3zM221 1146.1h3v28.4h-3zM224 1139.4h3v4.4h-3zM227 1143.9h3v8.9h-3zM230 1141.1h3v.6h-3zM233 1137.8h3v1.7h-3zM236 1150h3v23.3h-3zM239 1140h3v3.3h-3zM245 1149.4h3v10h-3zM248 1157.2h3v12.8h-3zM251 1151.1h3v42.3h-3zM254 1142.2h3v26.1h-3zM257 1151.1h3v10.6h-3zM260 1140h3v6.7h-3zM263 1142.8h3v3.3h-3zM266 1145.5h3v11.1h-3zM269 1139.4h3v2.2h-3zM272 1142.8h3v7.8h-3zM275 1151.1h3v7.8h-3zM278 1156.7h3v17.2h-3zM281 1141.1h3v7.8h-3zM284 1140.5h3v4.4h-3zM287 1146.1h3v12.2h-3zM290 1147.8h3v10h-3zM293 1152.8h3v47.8h-3zM296 1157.8h3v21.1h-3zM299 1147.8h3v16.7h-3zM302 1141.6h3v.6h-3zM305 1157.2h3v27.2h-3zM308 1161.1h3v27.8h-3zM311 1143.9h3v37.8h-3zM314 1140h3v.6h-3zM317 1139.4h3v2.2h-3zM320 1138.3h3v6.1h-3zM323 1140h3v10.6h-3zM326 1141.6h3v.6h-3zM329 1152.2h3v34.5h-3zM332 1151.1h3v13.9h-3zM335 1173.3h3v16.7h-3zM338 1148.3h3v40h-3zM341 1143.9h3v8.3h-3zM344 1140.5h3v8.3h-3zM347 1158.3h3v35h-3zM350 1147.2h3v8.9h-3zM353 1141.6h3v11.7h-3zM356 1140h3v2.8h-3zM359 1138.9h3v9.5h-3zM362 1138.3h3v10.6h-3zM365 1167.2h3v35h-3zM368 1156.1h3v19.5h-3zM371 1138.3h3v9.5h-3zM374 1143.3h3v15.6h-3zM377 1157.8h3v13.3h-3zM380 1138.9h3v11.1h-3zM383 1138.9h3v.6h-3zM386 1143.3h3v2.8h-3zM389 1157.8h3v18.3h-3zM392 1142.2h3v5.6h-3zM395 1137.8h3v8.9h-3zM398 1148.9h3v13.9h-3zM401 1140h3v17.8h-3zM404 1143.3h3v3.3h-3zM407 1141.1h3v6.1h-3zM410 1141.1h3v8.9h-3zM413 1142.2h3v10.6h-3zM416 1141.6h3v8.9h-3zM419 1150h3v8.3h-3zM422 1142.2h3v17.8h-3zM425 1140h3v3.3h-3zM428 1142.2h3v15.6h-3zM431 1139.4h3v18.3h-3zM434 1140.5h3v6.1h-3zM437 1143.3h3v2.2h-3zM440 1145h3v10.6h-3zM443 1155h3v21.7h-3zM446 1141.1h3v18.3h-3zM449 1141.6h3v16.1h-3zM452 1145h3v3.9h-3zM455 1143.9h3v7.2h-3zM458 1140h3v13.9h-3zM461 1146.6h3v12.8h-3zM464 1142.8h3v10h-3zM467 1137.2h3v2.2h-3zM470 1138.9h3v13.9h-3zM473 1157.8h3v16.1h-3zM476 1141.1h3v5.6h-3zM479 1172.8h3v37.2h-3zM482 1158.9h3v28.9h-3zM485 1143.3h3v5h-3zM488 1140.5h3v13.9h-3zM491 1138.9h3v15h-3zM494 1139.4h3v1.7h-3zM497 1138.9h3v1.1h-3zM500 1137.8h3v1.7h-3zM503 1141.6h3v6.1h-3zM506 1166.1h3v51.7h-3zM509 1158.9h3v31.1h-3zM512 1139.4h3v6.7h-3zM515 1138.9h3v1.7h-3zM518 1152.8h3v5h-3zM521 1141.6h3v7.8h-3zM524 1141.1h3v2.2h-3zM527 1138.3h3v1.1h-3zM530 1143.9h3v25h-3zM533 1141.1h3v5.6h-3zM536 1139.4h3v1.1h-3zM539 1143.9h3v12.8h-3zM542 1141.1h3v.6h-3zM545 1152.2h3v16.7h-3zM548 1152.2h3v25h-3zM551 1162.2h3v46.1h-3zM554 1145.5h3v9.5h-3zM557 1139.4h3v4.4h-3zM560 1152.2h3v25h-3zM563 1138.9h3v7.2h-3zM566 1147.8h3v2.2h-3zM569 1139.4h3v4.4h-3zM572 1138.3h3v5h-3zM575 1151.7h3v23.3h-3zM581 1141.6h3v6.1h-3zM584 1145h3v2.2h-3zM587 1143.9h3v1.1h-3zM590 1158.9h3v26.7h-3zM593 1158.9h3v3.9h-3zM596 1140.5h3v20.6h-3zM599 1148.9h3v12.8h-3zM602 1142.8h3v1.7h-3zM605 1156.1h3v30h-3zM608 1141.6h3v8.9h-3zM611 1146.6h3v15.6h-3zM614 1158.9h3v26.1h-3zM617 1151.1h3v14.5h-3zM620 1155h3v23.3h-3zM623 1167.2h3v2.2h-3zM626 1145h3v22.8h-3zM629 1142.8h3v20h-3zM635 1138.3h3v1.1h-3zM638 1156.7h3v.6h-3zM641 1152.2h3v15.6h-3zM644 1138.9h3v18.3h-3zM647 1140.5h3v17.8h-3z"/>
<path fill="#70BF73" d="M104 1138.2h3v1.8h-3zM107 1141h3v3.9h-3zM110 1139.7h3v9.2h-3zM113 1139.7h3v1.4h-3zM116 1137.3h3v2.1h-3zM119 1139.3h3v1.3h-3zM122 1136.9h3v3.7h-3zM125 1137.5h3v3h-3zM128 1136.8h3v4.3h-3zM131 1140.7h3v5.4h-3zM134 1138.1h3v4.6h-3zM137 1142.5h3v8.5h-3zM140 1142.5h3v6.4h-3zM143 1138h3v3.7h-3zM146 1146.4h3v7.5h-3zM149 1144.2h3v10.2h-3zM152 1138.6h3v6.9h-3zM155 1138.1h3v3.6h-3zM158 1138.2h3v2.9h-3zM161 1137h3v6.9h-3zM164 1137.2h3v2.2h-3zM167 1141.6h3v6.1h-3zM170 1140.7h3v8.2h-3zM173 1139.1h3v3.7h-3zM176 1138.4h3v3.2h-3zM179 1144.7h3v10.8h-3zM182 1136.1h3v2.2h-3zM185 1141.2h3v8.3h-3zM188 1141.1h3v8.9h-3zM191 1138.8h3v7.3h-3zM194 1136.2h3v2.6h-3zM197 1137.6h3v2.4h-3zM200 1138.1h3v2.4h-3zM203 1137.6h3v10.7h-3zM206 1141.5h3v3.5h-3zM209 1137.4h3v2h-3zM212 1137.7h3v4.5h-3zM215 1136.6h3v5h-3zM218 1147.7h3v10.1h-3zM221 1143.5h3v2.6h-3zM224 1136.9h3v2.6h-3zM227 1139.6h3v4.2h-3zM230 1138.2h3v2.9h-3zM233 1136.4h3v1.3h-3zM236 1141h3v9h-3zM239 1137.3h3v2.7h-3zM242 1136.9h3v1.4h-3zM245 1138.6h3v10.9h-3zM248 1139.5h3v17.7h-3zM251 1141.8h3v9.3h-3zM254 1138.8h3v3.4h-3zM257 1140.2h3v10.9h-3zM260 1137.1h3v2.8h-3zM263 1139.6h3v3.1h-3zM266 1140.3h3v5.2h-3zM269 1136.6h3v2.8h-3zM272 1138.7h3v4.1h-3zM275 1142.6h3v8.4h-3zM278 1143.4h3v13.2h-3zM281 1137.9h3v3.2h-3zM284 1137.7h3v2.9h-3zM287 1142.9h3v3.2h-3zM290 1137.6h3v10.2h-3zM293 1142h3v10.7h-3zM296 1147.5h3v10.3h-3zM299 1138.8h3v9h-3zM302 1137.8h3v3.8h-3zM305 1144.3h3v12.9h-3zM308 1141.9h3v19.2h-3zM311 1137h3v6.9h-3zM314 1137.1h3v2.9h-3zM317 1136.3h3v3.1h-3zM320 1136.1h3v2.2h-3zM323 1138.1h3v1.9h-3zM326 1138.6h3v3.1h-3zM329 1140.4h3v11.8h-3zM332 1145.8h3v5.3h-3zM335 1152.3h3v21h-3zM338 1138.3h3v10h-3zM341 1137.7h3v6.1h-3zM344 1137.2h3v3.3h-3zM347 1151.2h3v7.1h-3zM350 1137.5h3v9.7h-3zM353 1137.6h3v4h-3zM356 1137h3v3h-3zM359 1136.8h3v2.1h-3zM362 1137.4h3v.9h-3zM365 1155.1h3v12.1h-3zM368 1147.6h3v8.5h-3zM371 1136.1h3v2.2h-3zM374 1139.7h3v3.6h-3zM377 1145.4h3v12.4h-3zM380 1137.1h3v1.7h-3zM383 1136.7h3v2.1h-3zM386 1138.2h3v5.1h-3zM389 1143.7h3v14.1h-3zM392 1139.6h3v2.6h-3zM395 1137.3h3v.5h-3zM398 1140.7h3v8.2h-3zM401 1137.3h3v2.7h-3zM404 1137.4h3v5.9h-3zM407 1138h3v3.1h-3zM410 1138.4h3v2.7h-3zM413 1137.9h3v4.3h-3zM416 1139.5h3v2.2h-3zM419 1143.7h3v6.3h-3zM422 1139.3h3v2.9h-3zM425 1137.3h3v2.7h-3zM428 1136.7h3v5.5h-3zM431 1136.8h3v2.6h-3zM434 1136.8h3v3.7h-3zM437 1138.5h3v4.8h-3zM440 1139.1h3v5.9h-3zM443 1144.7h3v10.2h-3zM446 1138.1h3v3h-3zM449 1140.2h3v1.5h-3zM452 1141.1h3v3.9h-3zM455 1140.6h3v3.3h-3zM458 1136.9h3v3.1h-3zM461 1139h3v7.6h-3zM464 1137.4h3v5.4h-3zM467 1136h3v1.2h-3zM470 1137.1h3v1.7h-3zM473 1141.1h3v16.7h-3zM476 1136.6h3v4.5h-3zM479 1150.6h3v22.2h-3zM482 1141.2h3v17.6h-3zM485 1139h3v4.3h-3zM488 1138.8h3v1.7h-3zM491 1136.9h3v1.9h-3zM494 1137.7h3v1.7h-3zM497 1136.9h3v1.9h-3zM500 1136.7h3v1.1h-3zM503 1137.8h3v3.8h-3zM506 1157.6h3v8.5h-3zM509 1139.2h3v19.7h-3zM512 1136.5h3v2.9h-3zM515 1137.2h3v1.7h-3zM518 1144.9h3v7.9h-3zM521 1138.1h3v3.5h-3zM524 1137.3h3v3.7h-3zM527 1136.6h3v1.7h-3zM530 1138.5h3v5.4h-3zM533 1139.5h3v1.6h-3zM536 1137.8h3v1.6h-3zM539 1137.4h3v6.5h-3zM542 1137.7h3v3.4h-3zM545 1146.1h3v6.1h-3zM548 1144.5h3v7.7h-3zM551 1152.1h3v10.1h-3zM554 1141.2h3v4.4h-3zM557 1136.6h3v2.9h-3zM560 1142.9h3v9.3h-3zM563 1136.5h3v2.4h-3zM566 1140.2h3v7.5h-3zM569 1138.1h3v1.4h-3zM572 1137h3v1.3h-3zM575 1138.1h3v13.5h-3zM578 1138.2h3v2.3h-3zM581 1139h3v2.6h-3zM584 1137.7h3v7.3h-3zM587 1138.9h3v5h-3zM590 1145h3v13.9h-3zM593 1139.8h3v19.1h-3zM596 1138.9h3v1.6h-3zM599 1140.2h3v8.7h-3zM602 1139.7h3v3.1h-3zM605 1148.3h3v7.8h-3zM608 1138.8h3v2.8h-3zM611 1138.2h3v8.5h-3zM614 1145.5h3v13.4h-3zM617 1146.2h3v4.9h-3zM620 1146.7h3v8.3h-3zM623 1141h3v26.2h-3zM626 1138h3v7h-3zM629 1139.7h3v3h-3zM632 1135.9h3v.8h-3zM635 1136.9h3v1.4h-3zM638 1147.9h3v8.7h-3zM641 1142.7h3v9.5h-3zM644 1136.5h3v2.3h-3zM647 1136.5h3v4h-3z"/>
<path fill="#FFAD33" d="M104 1135.8h3v2.4h-3zM107 1135.8h3v5.3h-3zM110 1135.8h3v3.9h-3zM113 1135.8h3v4h-3zM116 1135.8h3v1.5h-3zM119 1135.8h3v3.5h-3zM122 1135.8h3v1.1h-3zM125 1135.8h3v1.8h-3zM128 1135.8h3v1h-3zM131 1135.8h3v4.9h-3zM134 1135.8h3v2.4h-3zM137 1135.8h3v6.8h-3zM140 1135.8h3v6.7h-3zM143 1135.8h3v2.2h-3zM146 1135.8h3v10.7h-3zM149 1135.8h3v8.5h-3zM152 1135.8h3v2.9h-3zM155 1135.8h3v2.3h-3zM158 1135.8h3v2.5h-3zM161 1135.8h3v1.2h-3zM164 1135.8h3v1.4h-3zM167 1135.8h3v5.9h-3zM170 1135.8h3v4.9h-3zM173 1135.8h3v3.4h-3zM176 1135.8h3v2.7h-3zM179 1135.8h3v9h-3zM182 1135.8h3v.4h-3zM185 1135.8h3v5.4h-3zM188 1135.8h3v5.3h-3zM191 1135.8h3v3.1h-3zM194 1135.8h3v.5h-3zM197 1135.8h3v1.8h-3zM200 1135.8h3v2.4h-3zM203 1135.8h3v1.9h-3zM206 1135.8h3v5.7h-3zM209 1135.8h3v1.7h-3zM212 1135.8h3v1.9h-3zM215 1135.8h3v.9h-3zM218 1135.8h3v11.9h-3zM221 1135.8h3v7.8h-3zM224 1135.8h3v1.1h-3zM227 1135.8h3v3.9h-3zM230 1135.8h3v2.4h-3zM233 1135.8h3v.7h-3zM236 1135.8h3v5.2h-3zM239 1135.8h3v1.5h-3zM242 1135.8h3v1.2h-3zM245 1135.8h3v2.8h-3zM248 1135.8h3v3.7h-3zM251 1135.8h3v6.1h-3zM254 1135.8h3v3h-3zM257 1135.8h3v4.4h-3zM260 1135.8h3v1.4h-3zM263 1135.8h3v3.9h-3zM266 1135.8h3v4.6h-3zM269 1135.8h3v.9h-3zM272 1135.8h3v2.9h-3zM275 1135.8h3v6.9h-3zM278 1135.8h3v7.7h-3zM281 1135.8h3v2.2h-3zM284 1135.8h3v1.9h-3zM287 1135.8h3v7.1h-3zM290 1135.8h3v1.8h-3zM293 1135.8h3v6.3h-3zM296 1135.8h3v11.7h-3zM299 1135.8h3v3h-3zM302 1135.8h3v2.1h-3zM305 1135.8h3v8.5h-3zM308 1135.8h3v6.2h-3zM311 1135.8h3v1.2h-3zM314 1135.8h3v1.3h-3zM317 1135.8h3v.6h-3zM320 1135.8h3v.4h-3zM323 1135.8h3v2.3h-3zM326 1135.8h3v2.8h-3zM329 1135.8h3v4.7h-3zM332 1135.8h3v10.1h-3zM335 1135.8h3v16.5h-3zM338 1135.8h3v2.6h-3zM341 1135.8h3v2h-3zM344 1135.8h3v1.5h-3zM347 1135.8h3v15.4h-3zM350 1135.8h3v1.7h-3zM353 1135.8h3v1.9h-3zM356 1135.8h3v1.2h-3zM359 1135.8h3v1h-3zM362 1135.8h3v1.7h-3zM365 1135.8h3v19.4h-3zM368 1135.8h3v11.9h-3zM371 1135.8h3v.4h-3zM374 1135.8h3v4h-3zM377 1135.8h3v9.6h-3zM380 1135.8h3v1.4h-3zM383 1135.8h3v1h-3zM386 1135.8h3v2.5h-3zM389 1135.8h3v7.9h-3zM392 1135.8h3v3.8h-3zM395 1135.8h3v1.5h-3zM398 1135.8h3v4.9h-3zM401 1135.8h3v1.5h-3zM404 1135.8h3v1.6h-3zM407 1135.8h3v2.2h-3zM410 1135.8h3v2.6h-3zM413 1135.8h3v2.2h-3zM416 1135.8h3v3.7h-3zM419 1135.8h3v7.9h-3zM422 1135.8h3v3.6h-3zM425 1135.8h3v1.5h-3zM428 1135.8h3v1h-3zM431 1135.8h3v1h-3zM434 1135.8h3v1.1h-3zM437 1135.8h3v2.8h-3zM440 1135.8h3v3.3h-3zM443 1135.8h3v9h-3zM446 1135.8h3v2.4h-3zM449 1135.8h3v4.4h-3zM452 1135.8h3v5.4h-3zM455 1135.8h3v4.8h-3zM458 1135.8h3v1.2h-3zM461 1135.8h3v3.3h-3zM464 1135.8h3v1.6h-3zM467 1135.8h3v.2h-3zM470 1135.8h3v1.4h-3zM473 1135.8h3v5.3h-3zM476 1135.8h3v.8h-3zM479 1135.8h3v14.9h-3zM482 1135.8h3v5.5h-3zM485 1135.8h3v3.2h-3zM488 1135.8h3v3.1h-3zM491 1135.8h3v1.2h-3zM494 1135.8h3v1.9h-3zM497 1135.8h3v1.2h-3zM500 1135.8h3v.9h-3zM503 1135.8h3v2.1h-3zM506 1135.8h3v21.9h-3zM509 1135.8h3v3.5h-3zM512 1135.8h3v.7h-3zM515 1135.8h3v1.4h-3zM518 1135.8h3v9.1h-3zM521 1135.8h3v2.4h-3zM524 1135.8h3v1.6h-3zM527 1135.8h3v.9h-3zM530 1135.8h3v2.8h-3zM533 1135.8h3v3.7h-3zM536 1135.8h3v2.1h-3zM539 1135.8h3v1.6h-3zM542 1135.8h3v1.9h-3zM545 1135.8h3v10.3h-3zM548 1135.8h3v8.7h-3zM551 1135.8h3v16.3h-3zM554 1135.8h3v5.4h-3zM557 1135.8h3v.8h-3zM560 1135.8h3v7.1h-3zM563 1135.8h3v.7h-3zM566 1135.8h3v4.5h-3zM569 1135.8h3v2.3h-3zM572 1135.8h3v1.3h-3zM575 1135.8h3v2.4h-3zM578 1135.8h3v2.5h-3zM581 1135.8h3v3.3h-3zM584 1135.8h3v2h-3zM587 1135.8h3v3.1h-3zM590 1135.8h3v9.3h-3zM593 1135.8h3v4.1h-3zM596 1135.8h3v3.2h-3zM599 1135.8h3v4.4h-3zM602 1135.8h3v3.9h-3zM605 1135.8h3v12.5h-3zM608 1135.8h3v3.1h-3zM611 1135.8h3v2.4h-3zM614 1135.8h3v9.7h-3zM617 1135.8h3v10.4h-3zM620 1135.8h3v11h-3zM623 1135.8h3v5.2h-3zM626 1135.8h3v2.2h-3zM629 1135.8h3v4h-3zM632 1135.8h3v.1h-3zM635 1135.8h3v1.2h-3zM638 1135.8h3v12.2h-3zM641 1135.8h3v6.9h-3zM644 1135.8h3v.8h-3zM647 1135.8h3v.7h-3z"/>
<rect x="104" y="1135.75" width="546" height="165.45" fill="url(#sepA2)"/>
<line x1="93.75" y1="1139.25" x2="93.75" y2="1300.9" stroke="#555" stroke-width="0.9"/>
<line x1="89.25" y1="1139.25" x2="93.75" y2="1139.25" stroke="#555" stroke-width="0.9"/>
<line x1="89.25" y1="1179.7" x2="93.75" y2="1179.7" stroke="#555" stroke-width="0.9"/>
<line x1="89.25" y1="1220.1" x2="93.75" y2="1220.1" stroke="#555" stroke-width="0.9"/>
<line x1="89.25" y1="1260.5" x2="93.75" y2="1260.5" stroke="#555" stroke-width="0.9"/>
<line x1="89.25" y1="1300.9" x2="93.75" y2="1300.9" stroke="#555" stroke-width="0.9"/>
<text x="44.1" y="1149.5">100</text>
<text x="59.33" y="1189.5">75</text>
<text x="59.25" y="1229.5">50</text>
<text x="59.33" y="1269.5">25</text>
<text x="74.41" y="1309.5">0</text>
<text transform="translate(42 1299.72) rotate(-90)">% Mutations</text>
<line x1="95" y1="1335" x2="379" y2="1335" stroke="#e6e6e6" stroke-width="0.6" stroke-dasharray="1.5 1.5"/>
<line x1="95" y1="1378" x2="379" y2="1378" stroke="#e6e6e6" stroke-width="0.6" stroke-dasharray="1.5 1.5"/>
<line x1="95" y1="1420.5" x2="379" y2="1420.5" stroke="#e6e6e6" stroke-width="0.6" stroke-dasharray="1.5 1.5"/>
<line x1="95" y1="1462.5" x2="379" y2="1462.5" stroke="#e6e6e6" stroke-width="0.6" stroke-dasharray="1.5 1.5"/>
<line x1="95" y1="1505" x2="379" y2="1505" stroke="#e6e6e6" stroke-width="0.6" stroke-dasharray="1.5 1.5"/>
<line x1="139.5" y1="1333" x2="139.5" y2="1505" stroke="#ececec" stroke-width="0.6" stroke-dasharray="1.5 1.5"/>
<line x1="182.75" y1="1333" x2="182.75" y2="1505" stroke="#ececec" stroke-width="0.6" stroke-dasharray="1.5 1.5"/>
<line x1="226.75" y1="1333" x2="226.75" y2="1505" stroke="#ececec" stroke-width="0.6" stroke-dasharray="1.5 1.5"/>
<line x1="270.1" y1="1333" x2="270.1" y2="1505" stroke="#ececec" stroke-width="0.6" stroke-dasharray="1.5 1.5"/>
<line x1="313.5" y1="1333" x2="313.5" y2="1505" stroke="#ececec" stroke-width="0.6" stroke-dasharray="1.5 1.5"/>
<line x1="357.5" y1="1333" x2="357.5" y2="1505" stroke="#ececec" stroke-width="0.6" stroke-dasharray="1.5 1.5"/>
<line x1="93.75" y1="1335" x2="93.75" y2="1505" stroke="#555" stroke-width="0.9"/>
<line x1="89.25" y1="1335" x2="93.75" y2="1335" stroke="#555" stroke-width="0.9"/>
<line x1="89.25" y1="1378" x2="93.75" y2="1378" stroke="#555" stroke-width="0.9"/>
<line x1="89.25" y1="1420.5" x2="93.75" y2="1420.5" stroke="#555" stroke-width="0.9"/>
<line x1="89.25" y1="1462.5" x2="93.75" y2="1462.5" stroke="#555" stroke-width="0.9"/>
<line x1="89.25" y1="1505" x2="93.75" y2="1505" stroke="#555" stroke-width="0.9"/>
<text x="43.1" y="1345.7">100</text>
<text x="58.33" y="1387">75</text>
<text x="58.25" y="1428.7">50</text>
<text x="58.33" y="1470.7">25</text>
<text x="73.41" y="1506">0</text>
<text transform="translate(42 1495.47) rotate(-90)">% Mutations</text>
<line x1="139.5" y1="1381" x2="139.5" y2="1460" stroke="#888" stroke-width="0.6"/>
<circle cx="139.5" cy="1366" r="0.6" fill="#999"/>
<circle cx="139.5" cy="1470" r="0.6" fill="#999"/>
<rect x="122" y="1411.25" width="35" height="20.25" fill="#F6695E" stroke="#4d4d4d" stroke-width="0.4"/>
<line x1="122" y1="1420.25" x2="157" y2="1420.25" stroke="#222" stroke-width="1.4"/>
<line x1="182.75" y1="1418.75" x2="182.75" y2="1505" stroke="#888" stroke-width="0.6"/>
<rect x="165" y="1448" width="35.5" height="29.5" fill="#6574C4" stroke="#4d4d4d" stroke-width="0.4"/>
<line x1="165" y1="1463.75" x2="200.5" y2="1463.75" stroke="#222" stroke-width="1.4"/>
<line x1="226.75" y1="1467.5" x2="226.75" y2="1500" stroke="#888" stroke-width="0.6"/>
<circle cx="226.75" cy="1427.5" r="0.6" fill="#999"/>
<circle cx="226.75" cy="1447.5" r="0.6" fill="#999"/>
<circle cx="226.75" cy="1452.5" r="0.6" fill="#999"/>
<circle cx="226.75" cy="1463.75" r="0.6" fill="#999"/>
<rect x="209.25" y="1480.5" width="35" height="10.25" fill="#4DABF5" stroke="#4d4d4d" stroke-width="0.4"/>
<line x1="209.25" y1="1486.25" x2="244.25" y2="1486.25" stroke="#222" stroke-width="1.4"/>
<line x1="270.12" y1="1463.75" x2="270.12" y2="1505" stroke="#888" stroke-width="0.6"/>
<circle cx="270.12" cy="1445" r="0.6" fill="#999"/>
<circle cx="270.12" cy="1450" r="0.6" fill="#999"/>
<circle cx="270.12" cy="1455" r="0.6" fill="#999"/>
<circle cx="270.12" cy="1458" r="0.6" fill="#999"/>
<rect x="252.5" y="1487.5" width="35.25" height="12.75" fill="#FFCD39" stroke="#4d4d4d" stroke-width="0.4"/>
<line x1="252.5" y1="1495" x2="287.75" y2="1495" stroke="#222" stroke-width="1.4"/>
<line x1="313.5" y1="1488.75" x2="313.5" y2="1505" stroke="#888" stroke-width="0.6"/>
<circle cx="313.5" cy="1472.5" r="0.6" fill="#999"/>
<circle cx="313.5" cy="1480" r="0.6" fill="#999"/>
<circle cx="313.5" cy="1484" r="0.6" fill="#999"/>
<circle cx="313.5" cy="1486" r="0.6" fill="#999"/>
<rect x="295.75" y="1496.75" width="35.5" height="6.25" fill="#70BF73" stroke="#4d4d4d" stroke-width="0.4"/>
<line x1="295.75" y1="1500.5" x2="331.25" y2="1500.5" stroke="#222" stroke-width="1.4"/>
<line x1="357.5" y1="1494" x2="357.5" y2="1505" stroke="#888" stroke-width="0.6"/>
<circle cx="357.5" cy="1483.75" r="0.6" fill="#999"/>
<circle cx="357.5" cy="1488" r="0.6" fill="#999"/>
<circle cx="357.5" cy="1490" r="0.6" fill="#999"/>
<circle cx="357.5" cy="1492" r="0.6" fill="#999"/>
<rect x="340" y="1499.5" width="35" height="4.5" fill="#FFAD33" stroke="#4d4d4d" stroke-width="0.4"/>
<line x1="340" y1="1502" x2="375" y2="1502" stroke="#222" stroke-width="1.4"/>
<text transform="translate(105.75 1549) rotate(-28)">C&gt;T</text>
<text transform="translate(144.75 1554) rotate(-28)">C&gt;G</text>
<text transform="translate(193.5 1554) rotate(-28)">C&gt;A</text>
<text transform="translate(238.4 1554) rotate(-28)">T&gt;C</text>
<text transform="translate(284.9 1554) rotate(-28)">T&gt;A</text>
<text transform="translate(330.5 1554.5) rotate(-28)">T&gt;G</text>
<line x1="483" y1="1340" x2="617" y2="1340" stroke="#e6e6e6" stroke-width="0.6" stroke-dasharray="1.5 1.5"/>
<line x1="483" y1="1382" x2="617" y2="1382" stroke="#e6e6e6" stroke-width="0.6" stroke-dasharray="1.5 1.5"/>
<line x1="483" y1="1423.75" x2="617" y2="1423.75" stroke="#e6e6e6" stroke-width="0.6" stroke-dasharray="1.5 1.5"/>
<line x1="483" y1="1465.5" x2="617" y2="1465.5" stroke="#e6e6e6" stroke-width="0.6" stroke-dasharray="1.5 1.5"/>
<line x1="483" y1="1507" x2="617" y2="1507" stroke="#e6e6e6" stroke-width="0.6" stroke-dasharray="1.5 1.5"/>
<line x1="529.4" y1="1335" x2="529.4" y2="1507" stroke="#ececec" stroke-width="0.6" stroke-dasharray="1.5 1.5"/>
<line x1="570.6" y1="1335" x2="570.6" y2="1507" stroke="#ececec" stroke-width="0.6" stroke-dasharray="1.5 1.5"/>
<line x1="482" y1="1340" x2="482" y2="1507" stroke="#555" stroke-width="0.9"/>
<line x1="477.5" y1="1340" x2="482" y2="1340" stroke="#555" stroke-width="0.9"/>
<line x1="477.5" y1="1382" x2="482" y2="1382" stroke="#555" stroke-width="0.9"/>
<line x1="477.5" y1="1423.75" x2="482" y2="1423.75" stroke="#555" stroke-width="0.9"/>
<line x1="477.5" y1="1465.5" x2="482" y2="1465.5" stroke="#555" stroke-width="0.9"/>
<line x1="477.5" y1="1507" x2="482" y2="1507" stroke="#555" stroke-width="0.9"/>
<text x="424.1" y="1348.5">100</text>
<text x="439.33" y="1389.5">75</text>
<text x="439.25" y="1425.5">50</text>
<text x="439.33" y="1465.5">25</text>
<text x="454.41" y="1508">0</text>
<text transform="translate(424.5 1496.97) rotate(-90)">% Mutations</text>
<line x1="529.38" y1="1377.5" x2="529.38" y2="1447.5" stroke="#888" stroke-width="0.6"/>
<circle cx="529.38" cy="1366.25" r="0.6" fill="#999"/>
<circle cx="529.38" cy="1371.25" r="0.6" fill="#999"/>
<rect x="512.5" y="1401.25" width="33.75" height="19.5" fill="#B3B3B3" stroke="#4d4d4d" stroke-width="0.4"/>
<line x1="512.5" y1="1411.25" x2="546.25" y2="1411.25" stroke="#222" stroke-width="1.4"/>
<line x1="570.62" y1="1400.75" x2="570.62" y2="1470" stroke="#888" stroke-width="0.6"/>
<circle cx="570.62" cy="1476.25" r="0.6" fill="#999"/>
<circle cx="570.62" cy="1481.25" r="0.6" fill="#999"/>
<rect x="554.25" y="1427" width="32.75" height="19.25" fill="#B3B3B3" stroke="#4d4d4d" stroke-width="0.4"/>
<line x1="554.25" y1="1435.75" x2="587" y2="1435.75" stroke="#222" stroke-width="1.4"/>
<text x="519.39" y="1533.75">Ti</text>
<text x="560.39" y="1532.5">Tv</text>
<rect x="656.75" y="1171.25" width="15" height="17.5" fill="#E31A1C"/>
<text x="679.51" y="1183.75">Nonsense Mutation</text>
<rect x="656.75" y="1206.25" width="15" height="17.5" fill="#FF7F00"/>
<text x="683.76" y="1219.25">Splice Site</text>
<rect x="656.75" y="1241.75" width="15" height="17.5" fill="#33A02C"/>
<text x="675.76" y="1255">Missense Mutation</text>
<rect x="656.75" y="1277" width="15" height="17.5" fill="#1F78B4"/>
<text x="682.26" y="1287.5">Frame Shift Del</text>
<rect x="656.75" y="1312.5" width="15" height="17.5" fill="#6A3D9A"/>
<text x="684.01" y="1323">Frame Shift Ins</text>
<rect x="656.75" y="1348" width="15" height="17.5" fill="#FFFF99"/>
<text x="685.49" y="1362">In Frame Del</text>
<rect x="656.75" y="1385" width="15" height="17.5" fill="#000000"/>
<text x="685.76" y="1397.5">Multi Hit</text>
</g>
<g id="panelB">
<text x="867.6" y="37" style="font-size:47.5px">B</text>
<text x="1143.76" y="68">High risk samples.</text>
<line x1="993.75" y1="110" x2="993.75" y2="290" stroke="#000" stroke-width="2"/>
<polygon points="983.75,112.5 1003.75,112.5 993.75,92.5" fill="#000"/>
<text x="939.6" y="115">762</text>
<text transform="translate(959.5 218.11) rotate(-90)">TMB</text>
<text x="973.94" y="285">0</text>
<path fill="#7FA5C9" d="M1005.75 285.1h3.29v2.2h-3.29zM1012.33 285.1h3.29v2.2h-3.29zM1022.21 286.8h3.29v.5h-3.29zM1058.42 286.8h3.29v.5h-3.29zM1061.71 286.1h3.29v1.2h-3.29zM1068.3 286.8h3.29v.5h-3.29zM1071.59 285.7h3.29v1.6h-3.29zM1091.34 286.5h3.29v.8h-3.29zM1094.63 286.5h3.29v.8h-3.29zM1097.92 286.8h3.29v.5h-3.29zM1130.84 286.5h3.29v.8h-3.29zM1134.13 286.5h3.29v.8h-3.29zM1147.3 285.7h3.29v1.6h-3.29zM1160.47 285.1h3.29v2.2h-3.29zM1173.64 285.7h3.29v1.6h-3.29zM1183.51 286.5h3.29v.8h-3.29zM1190.1 286.8h3.29v.5h-3.29zM1196.68 286.8h3.29v.5h-3.29zM1223.02 285.7h3.29v1.6h-3.29zM1232.89 286.1h3.29v1.2h-3.29zM1236.18 285.1h3.29v2.2h-3.29zM1246.06 286.8h3.29v.5h-3.29zM1249.35 286.8h3.29v.5h-3.29zM1262.52 286.1h3.29v1.2h-3.29zM1278.98 286.5h3.29v.8h-3.29zM1292.15 285.7h3.29v1.6h-3.29zM1298.73 285.1h3.29v2.2h-3.29zM1311.9 285.7h3.29v1.6h-3.29zM1371.15 286.8h3.29v.5h-3.29zM1381.03 286.8h3.29v.5h-3.29zM1387.61 286.5h3.29v.8h-3.29zM1390.9 285.1h3.29v2.2h-3.29zM1413.95 286.5h3.29v.8h-3.29zM1430.41 285.7h3.29v1.6h-3.29zM1456.74 286.5h3.29v.8h-3.29zM1466.62 285.1h3.29v2.2h-3.29zM1492.95 286.1h3.29v1.2h-3.29zM1516 285.1h3.29v2.2h-3.29zM1532.46 286.1h3.29v1.2h-3.29zM1545.62 286.5h3.29v.8h-3.29zM1548.92 286.1h3.29v1.2h-3.29z"/>
<path fill="#33A02C" d="M1005.75 122.02h3.29v163.08h-3.29zM1009.04 242.35h3.29v42.75h-3.29zM1012.33 137.24h3.29v147.86h-3.29zM1015.63 198.9h3.29v87.6h-3.29zM1018.92 238.02h3.29v48.48h-3.29zM1022.21 162.76h3.29v124.04h-3.29zM1025.5 243.4h3.29v41.7h-3.29zM1028.79 220.88h3.29v64.22h-3.29zM1032.09 270.85h3.29v15.65h-3.29zM1035.38 222.46h3.29v63.24h-3.29zM1038.67 263.45h3.29v23.05h-3.29zM1041.96 255.7h3.29v30h-3.29zM1045.25 249.2h3.29v36.5h-3.29zM1048.54 239.68h3.29v45.42h-3.29zM1051.84 260.77h3.29v25.33h-3.29zM1055.13 114.17h3.29v172.63h-3.29zM1058.42 245.36h3.29v41.44h-3.29zM1061.71 129.49h3.29v156.61h-3.29zM1065 218.8h3.29v68h-3.29zM1068.3 227.86h3.29v58.94h-3.29zM1071.59 239.98h3.29v45.72h-3.29zM1074.88 258.74h3.29v27.76h-3.29zM1078.17 228.63h3.29v57.47h-3.29zM1081.46 258.68h3.29v27.02h-3.29zM1084.76 271.17h3.29v15.63h-3.29zM1088.05 181.19h3.29v104.51h-3.29zM1091.34 169.47h3.29v117.03h-3.29zM1094.63 243.39h3.29v43.11h-3.29zM1097.92 179.02h3.29v107.78h-3.29zM1101.22 230.27h3.29v56.23h-3.29zM1104.51 223.62h3.29v61.48h-3.29zM1107.8 247.44h3.29v39.36h-3.29zM1111.09 228.5h3.29v56.6h-3.29zM1114.38 234.61h3.29v51.89h-3.29zM1117.68 221.58h3.29v65.22h-3.29zM1120.97 204.46h3.29v81.24h-3.29zM1124.26 256.68h3.29v29.82h-3.29zM1127.55 252.9h3.29v33.2h-3.29zM1130.84 260.43h3.29v26.07h-3.29zM1134.13 186.9h3.29v99.6h-3.29zM1137.43 250.83h3.29v35.67h-3.29zM1140.72 273.79h3.29v11.31h-3.29zM1144.01 248.68h3.29v37.82h-3.29zM1147.3 260.49h3.29v25.21h-3.29zM1150.59 267.29h3.29v18.41h-3.29zM1153.89 211.1h3.29v75.7h-3.29zM1157.18 247.33h3.29v38.37h-3.29zM1160.47 222.57h3.29v62.53h-3.29zM1163.76 266.89h3.29v19.61h-3.29zM1167.05 259.96h3.29v25.74h-3.29zM1170.35 271.25h3.29v15.25h-3.29zM1173.64 242.54h3.29v43.16h-3.29zM1176.93 221.66h3.29v65.14h-3.29zM1180.22 259.12h3.29v25.98h-3.29zM1183.51 255.44h3.29v31.06h-3.29zM1186.81 267.12h3.29v17.98h-3.29zM1190.1 258.1h3.29v28.7h-3.29zM1193.39 249.27h3.29v36.83h-3.29zM1196.68 225.62h3.29v61.18h-3.29zM1199.97 247.18h3.29v38.92h-3.29zM1203.26 256.83h3.29v29.97h-3.29zM1206.56 261.42h3.29v24.68h-3.29zM1209.85 274.66h3.29v11.84h-3.29zM1213.14 275.38h3.29v10.32h-3.29zM1216.43 267.48h3.29v18.22h-3.29zM1219.72 236.26h3.29v48.84h-3.29zM1223.02 232.65h3.29v53.05h-3.29zM1226.31 272.04h3.29v13.06h-3.29zM1229.6 271.23h3.29v15.57h-3.29zM1232.89 269.23h3.29v16.87h-3.29zM1236.18 242.93h3.29v42.17h-3.29zM1239.48 274.71h3.29v10.39h-3.29zM1242.77 251.85h3.29v33.25h-3.29zM1246.06 243.87h3.29v42.93h-3.29zM1249.35 271.73h3.29v15.07h-3.29zM1252.64 275.04h3.29v10.66h-3.29zM1255.94 272.82h3.29v13.28h-3.29zM1259.23 257.65h3.29v27.45h-3.29zM1262.52 251.16h3.29v34.94h-3.29zM1265.81 239.31h3.29v47.19h-3.29zM1269.1 269.9h3.29v16.2h-3.29zM1272.4 267.57h3.29v18.93h-3.29zM1275.69 247.27h3.29v37.83h-3.29zM1278.98 272.01h3.29v14.49h-3.29zM1282.27 254.68h3.29v32.12h-3.29zM1285.56 251.71h3.29v34.39h-3.29zM1288.85 259.14h3.29v26.56h-3.29zM1292.15 268.04h3.29v17.66h-3.29zM1295.44 279.99h3.29v5.71h-3.29zM1298.73 281h3.29v4.1h-3.29zM1302.02 265.66h3.29v21.14h-3.29zM1305.31 275.08h3.29v11.72h-3.29zM1308.61 281h3.29v5.1h-3.29zM1311.9 168.96h3.29v116.74h-3.29zM1315.19 253.72h3.29v32.38h-3.29zM1318.48 246.71h3.29v40.09h-3.29zM1321.77 220.64h3.29v64.46h-3.29zM1325.07 269.28h3.29v17.22h-3.29zM1328.36 263.5h3.29v22.6h-3.29zM1331.65 245.67h3.29v40.03h-3.29zM1334.94 234.24h3.29v51.86h-3.29zM1338.23 241.02h3.29v44.08h-3.29zM1341.53 252.22h3.29v34.28h-3.29zM1344.82 277.45h3.29v8.25h-3.29zM1348.11 222.9h3.29v63.6h-3.29zM1351.4 163.97h3.29v121.13h-3.29zM1354.69 184.99h3.29v101.51h-3.29zM1357.99 233.09h3.29v53.71h-3.29zM1361.28 223.56h3.29v62.14h-3.29zM1364.57 248.43h3.29v36.67h-3.29zM1367.86 202.81h3.29v83.99h-3.29zM1371.15 240.96h3.29v45.84h-3.29zM1374.44 250.16h3.29v35.54h-3.29zM1377.74 251.3h3.29v35.5h-3.29zM1381.03 276.54h3.29v10.26h-3.29zM1384.32 275.05h3.29v11.45h-3.29zM1387.61 269.28h3.29v17.22h-3.29zM1390.9 248.25h3.29v36.85h-3.29zM1394.2 263.87h3.29v21.83h-3.29zM1397.49 255.48h3.29v30.22h-3.29zM1400.78 242h3.29v43.1h-3.29zM1404.07 275.98h3.29v9.12h-3.29zM1407.36 256.84h3.29v28.86h-3.29zM1410.66 205.45h3.29v81.05h-3.29zM1413.95 216.2h3.29v70.3h-3.29zM1417.24 270.51h3.29v14.59h-3.29zM1420.53 269.05h3.29v17.75h-3.29zM1423.82 268.02h3.29v17.68h-3.29zM1427.12 262.16h3.29v24.34h-3.29zM1430.41 254.4h3.29v31.3h-3.29zM1433.7 251.67h3.29v34.03h-3.29zM1436.99 278.64h3.29v7.06h-3.29zM1440.28 280.4h3.29v5.3h-3.29zM1443.57 277.97h3.29v7.73h-3.29zM1446.87 266.29h3.29v20.21h-3.29zM1450.16 267.15h3.29v19.35h-3.29zM1453.45 265.43h3.29v20.67h-3.29zM1456.74 268.16h3.29v18.34h-3.29zM1460.03 148.72h3.29v136.38h-3.29zM1463.33 218.51h3.29v66.59h-3.29zM1466.62 258.76h3.29v26.34h-3.29zM1469.91 256.98h3.29v28.72h-3.29zM1473.2 277.49h3.29v7.61h-3.29zM1476.49 251.35h3.29v33.75h-3.29zM1479.79 275.6h3.29v10.5h-3.29zM1483.08 283.8h3.29v2.3h-3.29zM1486.37 265.94h3.29v20.56h-3.29zM1489.66 273.23h3.29v13.27h-3.29zM1492.95 274.84h3.29v11.26h-3.29zM1496.25 280.8h3.29v4.9h-3.29zM1499.54 264.23h3.29v22.57h-3.29zM1502.83 258.87h3.29v27.23h-3.29zM1506.12 236.93h3.29v48.17h-3.29zM1509.41 242.86h3.29v43.64h-3.29zM1512.71 278.89h3.29v7.91h-3.29zM1516 218.29h3.29v66.81h-3.29zM1519.29 275.29h3.29v11.21h-3.29zM1522.58 239.78h3.29v46.72h-3.29zM1525.87 276.33h3.29v10.47h-3.29zM1529.16 258.44h3.29v27.26h-3.29zM1532.46 265.21h3.29v20.89h-3.29zM1535.75 269.94h3.29v15.16h-3.29zM1539.04 247.68h3.29v37.42h-3.29zM1542.33 259.31h3.29v27.49h-3.29zM1545.62 286.4h3.29v.1h-3.29zM1548.92 265.76h3.29v20.34h-3.29zM1552.21 275.36h3.29v9.74h-3.29z"/>
<path fill="#E31A1C" d="M1005.75 100.31h3.29v21.71h-3.29zM1009.04 236.44h3.29v5.9h-3.29zM1012.33 119.08h3.29v18.15h-3.29zM1015.63 186.66h3.29v12.23h-3.29zM1018.92 231.55h3.29v6.46h-3.29zM1022.21 145.98h3.29v16.79h-3.29zM1025.5 236.74h3.29v6.67h-3.29zM1028.79 211.7h3.29v9.18h-3.29zM1032.09 268.9h3.29v1.95h-3.29zM1035.38 213.56h3.29v8.9h-3.29zM1038.67 260.3h3.29v3.15h-3.29zM1041.96 251.31h3.29v4.39h-3.29zM1045.25 243.88h3.29v5.32h-3.29zM1048.54 233.51h3.29v6.17h-3.29zM1051.84 257h3.29v3.77h-3.29zM1055.13 91.02h3.29v23.16h-3.29zM1058.42 239.67h3.29v5.69h-3.29zM1061.71 110.87h3.29v18.62h-3.29zM1065 210.82h3.29v7.98h-3.29zM1068.3 220.6h3.29v7.26h-3.29zM1071.59 233.9h3.29v6.08h-3.29zM1074.88 255.4h3.29v3.34h-3.29zM1078.17 221.19h3.29v7.44h-3.29zM1081.46 255.4h3.29v3.28h-3.29zM1084.76 269.2h3.29v1.97h-3.29zM1088.05 168.86h3.29v12.33h-3.29zM1091.34 152.92h3.29v16.55h-3.29zM1094.63 237.52h3.29v5.87h-3.29zM1097.92 163.97h3.29v15.05h-3.29zM1101.22 222.85h3.29v7.42h-3.29zM1104.51 215.71h3.29v7.91h-3.29zM1107.8 241.33h3.29v6.11h-3.29zM1111.09 221.38h3.29v7.12h-3.29zM1114.38 228.52h3.29v6.09h-3.29zM1117.68 212.97h3.29v8.61h-3.29zM1120.97 192.34h3.29v12.13h-3.29zM1124.26 253.1h3.29v3.58h-3.29zM1127.55 248.96h3.29v3.94h-3.29zM1130.84 256.7h3.29v3.73h-3.29zM1134.13 172.19h3.29v14.71h-3.29zM1137.43 246.42h3.29v4.41h-3.29zM1140.72 271.7h3.29v2.09h-3.29zM1144.01 243.19h3.29v5.49h-3.29zM1147.3 256.7h3.29v3.79h-3.29zM1150.59 264.5h3.29v2.79h-3.29zM1153.89 202.12h3.29v8.98h-3.29zM1157.18 242.41h3.29v4.92h-3.29zM1160.47 214.15h3.29v8.42h-3.29zM1163.76 264.3h3.29v2.59h-3.29zM1167.05 256.7h3.29v3.26h-3.29zM1170.35 269.2h3.29v2.05h-3.29zM1173.64 237.32h3.29v5.22h-3.29zM1176.93 213.56h3.29v8.1h-3.29zM1180.22 255.6h3.29v3.52h-3.29zM1183.51 251.7h3.29v3.74h-3.29zM1186.81 264h3.29v3.12h-3.29zM1190.1 254.1h3.29v4h-3.29zM1193.39 243.58h3.29v5.69h-3.29zM1196.68 218.55h3.29v7.07h-3.29zM1199.97 242.51h3.29v4.67h-3.29zM1203.26 253.2h3.29v3.63h-3.29zM1206.56 258h3.29v3.42h-3.29zM1209.85 272.7h3.29v1.96h-3.29zM1213.14 273.8h3.29v1.58h-3.29zM1216.43 264.5h3.29v2.98h-3.29zM1219.72 228.72h3.29v7.54h-3.29zM1223.02 225.1h3.29v7.55h-3.29zM1226.31 269.9h3.29v2.14h-3.29zM1229.6 269.3h3.29v1.93h-3.29zM1232.89 266.5h3.29v2.73h-3.29zM1236.18 236.25h3.29v6.68h-3.29zM1239.48 273h3.29v1.71h-3.29zM1242.77 247.1h3.29v4.75h-3.29zM1246.06 238.4h3.29v5.47h-3.29zM1249.35 269.9h3.29v1.83h-3.29zM1252.64 273.2h3.29v1.84h-3.29zM1255.94 270.6h3.29v2.22h-3.29zM1259.23 254.1h3.29v3.55h-3.29zM1262.52 246.32h3.29v4.84h-3.29zM1265.81 232.92h3.29v6.39h-3.29zM1269.1 267.6h3.29v2.3h-3.29zM1272.4 264.8h3.29v2.77h-3.29zM1275.69 242.12h3.29v5.15h-3.29zM1278.98 270.1h3.29v1.91h-3.29zM1282.27 250.53h3.29v4.16h-3.29zM1285.56 246.32h3.29v5.38h-3.29zM1288.85 255.8h3.29v3.34h-3.29zM1292.15 265.1h3.29v2.94h-3.29zM1295.44 278.9h3.29v1.09h-3.29zM1298.73 280h3.29v1h-3.29zM1302.02 262.9h3.29v2.76h-3.29zM1305.31 273.2h3.29v1.88h-3.29zM1308.61 280h3.29v1h-3.29zM1311.9 152.53h3.29v16.43h-3.29zM1315.19 249.65h3.29v4.07h-3.29zM1318.48 240.85h3.29v5.86h-3.29zM1321.77 211.9h3.29v8.74h-3.29zM1325.07 266.5h3.29v2.78h-3.29zM1328.36 260h3.29v3.5h-3.29zM1331.65 239.77h3.29v5.9h-3.29zM1334.94 227.84h3.29v6.41h-3.29zM1338.23 234.78h3.29v6.24h-3.29zM1341.53 247.69h3.29v4.53h-3.29zM1344.82 276.1h3.29v1.35h-3.29zM1348.11 214.44h3.29v8.46h-3.29zM1351.4 148.13h3.29v15.84h-3.29zM1354.69 171.5h3.29v13.49h-3.29zM1357.99 225.39h3.29v7.7h-3.29zM1361.28 215.71h3.29v7.85h-3.29zM1364.57 242.51h3.29v5.92h-3.29zM1367.86 192.34h3.29v10.47h-3.29zM1371.15 234.78h3.29v6.18h-3.29zM1374.44 245.44h3.29v4.72h-3.29zM1377.74 246.52h3.29v4.78h-3.29zM1381.03 274.9h3.29v1.64h-3.29zM1384.32 273.2h3.29v1.85h-3.29zM1387.61 266.7h3.29v2.58h-3.29zM1390.9 243.58h3.29v4.67h-3.29zM1394.2 260.3h3.29v3.57h-3.29zM1397.49 250.92h3.29v4.57h-3.29zM1400.78 235.37h3.29v6.63h-3.29zM1404.07 274.4h3.29v1.58h-3.29zM1407.36 253h3.29v3.84h-3.29zM1410.66 195.17h3.29v10.28h-3.29zM1413.95 206.52h3.29v9.68h-3.29zM1417.24 268.2h3.29v2.31h-3.29zM1420.53 266.5h3.29v2.55h-3.29zM1423.82 265.4h3.29v2.62h-3.29zM1427.12 258.8h3.29v3.36h-3.29zM1430.41 249.45h3.29v4.95h-3.29zM1433.7 246.32h3.29v5.35h-3.29zM1436.99 277.5h3.29v1.14h-3.29zM1440.28 279.4h3.29v1h-3.29zM1443.57 276.8h3.29v1.17h-3.29zM1446.87 263.1h3.29v3.19h-3.29zM1450.16 264.8h3.29v2.35h-3.29zM1453.45 262.9h3.29v2.53h-3.29zM1456.74 265.4h3.29v2.76h-3.29zM1460.03 132.38h3.29v16.34h-3.29zM1463.33 208.38h3.29v10.13h-3.29zM1466.62 254.7h3.29v4.06h-3.29zM1469.91 253.5h3.29v3.48h-3.29zM1473.2 276.1h3.29v1.39h-3.29zM1476.49 246.52h3.29v4.83h-3.29zM1479.79 274.1h3.29v1.5h-3.29zM1483.08 282.8h3.29v1h-3.29zM1486.37 263.3h3.29v2.64h-3.29zM1489.66 271.5h3.29v1.73h-3.29zM1492.95 273h3.29v1.84h-3.29zM1496.25 279.8h3.29v1h-3.29zM1499.54 261.4h3.29v2.83h-3.29zM1502.83 255.4h3.29v3.47h-3.29zM1506.12 230.97h3.29v5.96h-3.29zM1509.41 236.93h3.29v5.93h-3.29zM1512.71 277.7h3.29v1.19h-3.29zM1516 208.38h3.29v9.91h-3.29zM1519.29 273.8h3.29v1.49h-3.29zM1522.58 234h3.29v5.78h-3.29zM1525.87 274.6h3.29v1.73h-3.29zM1529.16 255h3.29v3.44h-3.29zM1532.46 262h3.29v3.21h-3.29zM1535.75 267.6h3.29v2.34h-3.29zM1539.04 242.51h3.29v5.17h-3.29zM1542.33 256.1h3.29v3.21h-3.29zM1545.62 285.8h3.29v.6h-3.29zM1548.92 262.9h3.29v2.86h-3.29zM1552.21 273.5h3.29v1.86h-3.29z"/>
<path fill="#FF7F00" d="M1005.75 96.1h3.29v4.21h-3.29zM1009.04 235.3h3.29v1.14h-3.29zM1012.33 115.3h3.29v3.78h-3.29zM1015.63 184.4h3.29v2.26h-3.29zM1018.92 230.3h3.29v1.25h-3.29zM1022.21 142.8h3.29v3.18h-3.29zM1025.5 235.6h3.29v1.14h-3.29zM1028.79 210h3.29v1.7h-3.29zM1032.09 268.1h3.29v.8h-3.29zM1035.38 211.9h3.29v1.66h-3.29zM1038.67 259.5h3.29v.8h-3.29zM1041.96 250.5h3.29v.81h-3.29zM1045.25 242.9h3.29v.98h-3.29zM1048.54 232.3h3.29v1.21h-3.29zM1051.84 256.2h3.29v.8h-3.29zM1055.13 86.6h3.29v4.42h-3.29zM1058.42 238.6h3.29v1.07h-3.29zM1061.71 106.9h3.29v3.97h-3.29zM1065 209.1h3.29v1.72h-3.29zM1068.3 219.1h3.29v1.5h-3.29zM1071.59 232.7h3.29v1.2h-3.29zM1074.88 254.6h3.29v.8h-3.29zM1078.17 219.7h3.29v1.49h-3.29zM1081.46 254.6h3.29v.8h-3.29zM1084.76 268.4h3.29v.8h-3.29zM1088.05 166.2h3.29v2.66h-3.29zM1091.34 149.9h3.29v3.02h-3.29zM1094.63 236.4h3.29v1.12h-3.29zM1097.92 161.2h3.29v2.77h-3.29zM1101.22 221.4h3.29v1.45h-3.29zM1104.51 214.1h3.29v1.61h-3.29zM1107.8 240.3h3.29v1.03h-3.29zM1111.09 219.9h3.29v1.48h-3.29zM1114.38 227.2h3.29v1.32h-3.29zM1117.68 211.3h3.29v1.67h-3.29zM1120.97 190.2h3.29v2.14h-3.29zM1124.26 252.3h3.29v.8h-3.29zM1127.55 248.1h3.29v.86h-3.29zM1130.84 255.9h3.29v.8h-3.29zM1134.13 169.6h3.29v2.59h-3.29zM1137.43 245.5h3.29v.92h-3.29zM1140.72 270.9h3.29v.8h-3.29zM1144.01 242.2h3.29v.99h-3.29zM1147.3 255.9h3.29v.8h-3.29zM1150.59 263.7h3.29v.8h-3.29zM1153.89 200.2h3.29v1.92h-3.29zM1157.18 241.4h3.29v1.01h-3.29zM1160.47 212.5h3.29v1.65h-3.29zM1163.76 263.5h3.29v.8h-3.29zM1167.05 255.9h3.29v.8h-3.29zM1170.35 268.4h3.29v.8h-3.29zM1173.64 236.2h3.29v1.12h-3.29zM1176.93 211.9h3.29v1.66h-3.29zM1180.22 254.8h3.29v.8h-3.29zM1183.51 250.9h3.29v.8h-3.29zM1186.81 263.2h3.29v.8h-3.29zM1190.1 253.3h3.29v.8h-3.29zM1193.39 242.6h3.29v.98h-3.29zM1196.68 217h3.29v1.55h-3.29zM1199.97 241.5h3.29v1.01h-3.29zM1203.26 252.4h3.29v.8h-3.29zM1206.56 257.2h3.29v.8h-3.29zM1209.85 271.9h3.29v.8h-3.29zM1213.14 273h3.29v.8h-3.29zM1216.43 263.7h3.29v.8h-3.29zM1219.72 227.4h3.29v1.32h-3.29zM1223.02 223.7h3.29v1.4h-3.29zM1226.31 269.1h3.29v.8h-3.29zM1229.6 268.5h3.29v.8h-3.29zM1232.89 265.7h3.29v.8h-3.29zM1236.18 235.1h3.29v1.15h-3.29zM1239.48 272.2h3.29v.8h-3.29zM1242.77 246.2h3.29v.9h-3.29zM1246.06 237.3h3.29v1.1h-3.29zM1249.35 269.1h3.29v.8h-3.29zM1252.64 272.4h3.29v.8h-3.29zM1255.94 269.8h3.29v.8h-3.29zM1259.23 253.3h3.29v.8h-3.29zM1262.52 245.4h3.29v.92h-3.29zM1265.81 231.7h3.29v1.22h-3.29zM1269.1 266.8h3.29v.8h-3.29zM1272.4 264h3.29v.8h-3.29zM1275.69 241.1h3.29v1.02h-3.29zM1278.98 269.3h3.29v.8h-3.29zM1282.27 249.7h3.29v.83h-3.29zM1285.56 245.4h3.29v.92h-3.29zM1288.85 255h3.29v.8h-3.29zM1292.15 264.3h3.29v.8h-3.29zM1295.44 278.1h3.29v.8h-3.29zM1298.73 279.2h3.29v.8h-3.29zM1302.02 262.1h3.29v.8h-3.29zM1305.31 272.4h3.29v.8h-3.29zM1308.61 279.2h3.29v.8h-3.29zM1311.9 149.5h3.29v3.03h-3.29zM1315.19 248.8h3.29v.85h-3.29zM1318.48 239.8h3.29v1.04h-3.29zM1321.77 210.2h3.29v1.7h-3.29zM1325.07 265.7h3.29v.8h-3.29zM1328.36 259.2h3.29v.8h-3.29zM1331.65 238.7h3.29v1.07h-3.29zM1334.94 226.5h3.29v1.34h-3.29zM1338.23 233.6h3.29v1.18h-3.29zM1341.53 246.8h3.29v.89h-3.29zM1344.82 275.3h3.29v.8h-3.29zM1348.11 212.8h3.29v1.64h-3.29zM1351.4 145h3.29v3.13h-3.29zM1354.69 168.9h3.29v2.6h-3.29zM1357.99 224h3.29v1.39h-3.29zM1361.28 214.1h3.29v1.61h-3.29zM1364.57 241.5h3.29v1.01h-3.29zM1367.86 190.2h3.29v2.14h-3.29zM1371.15 233.6h3.29v1.18h-3.29zM1374.44 244.5h3.29v.94h-3.29zM1377.74 245.6h3.29v.92h-3.29zM1381.03 274.1h3.29v.8h-3.29zM1384.32 272.4h3.29v.8h-3.29zM1387.61 265.9h3.29v.8h-3.29zM1390.9 242.6h3.29v.98h-3.29zM1394.2 259.5h3.29v.8h-3.29zM1397.49 250.1h3.29v.82h-3.29zM1400.78 234.2h3.29v1.17h-3.29zM1404.07 273.6h3.29v.8h-3.29zM1407.36 252.2h3.29v.8h-3.29zM1410.66 193.1h3.29v2.07h-3.29zM1413.95 204.7h3.29v1.82h-3.29zM1417.24 267.4h3.29v.8h-3.29zM1420.53 265.7h3.29v.8h-3.29zM1423.82 264.6h3.29v.8h-3.29zM1427.12 258h3.29v.8h-3.29zM1430.41 248.6h3.29v.85h-3.29zM1433.7 245.4h3.29v.92h-3.29zM1436.99 276.7h3.29v.8h-3.29zM1440.28 278.6h3.29v.8h-3.29zM1443.57 276h3.29v.8h-3.29zM1446.87 262.3h3.29v.8h-3.29zM1450.16 264h3.29v.8h-3.29zM1453.45 262.1h3.29v.8h-3.29zM1456.74 264.6h3.29v.8h-3.29zM1460.03 128.9h3.29v3.48h-3.29zM1463.33 206.6h3.29v1.78h-3.29zM1466.62 253.9h3.29v.8h-3.29zM1469.91 252.7h3.29v.8h-3.29zM1473.2 275.3h3.29v.8h-3.29zM1476.49 245.6h3.29v.92h-3.29zM1479.79 273.3h3.29v.8h-3.29zM1483.08 282h3.29v.8h-3.29zM1486.37 262.5h3.29v.8h-3.29zM1489.66 270.7h3.29v.8h-3.29zM1492.95 272.2h3.29v.8h-3.29zM1496.25 279h3.29v.8h-3.29zM1499.54 260.6h3.29v.8h-3.29zM1502.83 254.6h3.29v.8h-3.29zM1506.12 229.7h3.29v1.27h-3.29zM1509.41 235.8h3.29v1.13h-3.29zM1512.71 276.9h3.29v.8h-3.29zM1516 206.6h3.29v1.78h-3.29zM1519.29 273h3.29v.8h-3.29zM1522.58 232.8h3.29v1.2h-3.29zM1525.87 273.8h3.29v.8h-3.29zM1529.16 254.2h3.29v.8h-3.29zM1532.46 261.2h3.29v.8h-3.29zM1535.75 266.8h3.29v.8h-3.29zM1539.04 241.5h3.29v1.01h-3.29zM1542.33 255.3h3.29v.8h-3.29zM1545.62 285h3.29v.8h-3.29zM1548.92 262.1h3.29v.8h-3.29zM1552.21 272.7h3.29v.8h-3.29z"/>
<path fill="#1F78B4" d="M1009.04 285.1h3.29v2.2h-3.29zM1015.63 286.5h3.29v.8h-3.29zM1018.92 286.5h3.29v.8h-3.29zM1025.5 285.1h3.29v2.2h-3.29zM1028.79 285.1h3.29v2.2h-3.29zM1032.09 286.5h3.29v.8h-3.29zM1038.67 286.5h3.29v.8h-3.29zM1041.96 285.7h3.29v1.6h-3.29zM1048.54 285.1h3.29v2.2h-3.29zM1051.84 286.1h3.29v1.2h-3.29zM1055.13 286.8h3.29v.5h-3.29zM1065 286.8h3.29v.5h-3.29zM1081.46 285.7h3.29v1.6h-3.29zM1084.76 286.8h3.29v.5h-3.29zM1088.05 285.7h3.29v1.6h-3.29zM1101.22 286.5h3.29v.8h-3.29zM1107.8 286.8h3.29v.5h-3.29zM1111.09 285.1h3.29v2.2h-3.29zM1114.38 286.5h3.29v.8h-3.29zM1120.97 285.7h3.29v1.6h-3.29zM1124.26 286.5h3.29v.8h-3.29zM1140.72 285.1h3.29v2.2h-3.29zM1144.01 286.5h3.29v.8h-3.29zM1150.59 285.7h3.29v1.6h-3.29zM1163.76 286.5h3.29v.8h-3.29zM1167.05 285.7h3.29v1.6h-3.29zM1170.35 286.5h3.29v.8h-3.29zM1176.93 286.8h3.29v.5h-3.29zM1180.22 285.1h3.29v2.2h-3.29zM1186.81 285.1h3.29v2.2h-3.29zM1193.39 286.1h3.29v1.2h-3.29zM1203.26 286.8h3.29v.5h-3.29zM1206.56 286.1h3.29v1.2h-3.29zM1213.14 285.7h3.29v1.6h-3.29zM1216.43 285.7h3.29v1.6h-3.29zM1219.72 285.1h3.29v2.2h-3.29zM1226.31 285.1h3.29v2.2h-3.29zM1239.48 285.1h3.29v2.2h-3.29zM1242.77 285.1h3.29v2.2h-3.29zM1259.23 285.1h3.29v2.2h-3.29zM1269.1 286.1h3.29v1.2h-3.29zM1272.4 286.5h3.29v.8h-3.29zM1282.27 286.8h3.29v.5h-3.29zM1285.56 286.1h3.29v1.2h-3.29zM1308.61 286.1h3.29v1.2h-3.29zM1315.19 286.1h3.29v1.2h-3.29zM1318.48 286.8h3.29v.5h-3.29zM1325.07 286.5h3.29v.8h-3.29zM1328.36 286.1h3.29v1.2h-3.29zM1331.65 285.7h3.29v1.6h-3.29zM1338.23 285.1h3.29v2.2h-3.29zM1341.53 286.5h3.29v.8h-3.29zM1344.82 285.7h3.29v1.6h-3.29zM1348.11 286.5h3.29v.8h-3.29zM1354.69 286.5h3.29v.8h-3.29zM1357.99 286.8h3.29v.5h-3.29zM1361.28 285.7h3.29v1.6h-3.29zM1377.74 286.8h3.29v.5h-3.29zM1394.2 285.7h3.29v1.6h-3.29zM1400.78 285.1h3.29v2.2h-3.29zM1407.36 285.7h3.29v1.6h-3.29zM1417.24 285.1h3.29v2.2h-3.29zM1420.53 286.8h3.29v.5h-3.29zM1423.82 285.7h3.29v1.6h-3.29zM1427.12 286.5h3.29v.8h-3.29zM1436.99 285.7h3.29v1.6h-3.29zM1443.57 285.7h3.29v1.6h-3.29zM1446.87 286.5h3.29v.8h-3.29zM1450.16 286.5h3.29v.8h-3.29zM1460.03 285.1h3.29v2.2h-3.29zM1469.91 285.7h3.29v1.6h-3.29zM1473.2 285.1h3.29v2.2h-3.29zM1476.49 285.1h3.29v2.2h-3.29zM1479.79 286.1h3.29v1.2h-3.29zM1483.08 286.1h3.29v1.2h-3.29zM1486.37 286.5h3.29v.8h-3.29zM1489.66 286.5h3.29v.8h-3.29zM1496.25 285.7h3.29v1.6h-3.29zM1499.54 286.8h3.29v.5h-3.29zM1509.41 286.5h3.29v.8h-3.29zM1512.71 286.8h3.29v.5h-3.29zM1519.29 286.5h3.29v.8h-3.29zM1525.87 286.8h3.29v.5h-3.29zM1529.16 285.7h3.29v1.6h-3.29zM1542.33 286.8h3.29v.5h-3.29zM1552.21 285.1h3.29v2.2h-3.29z"/>
<path fill="#6A3D9A" d="M1035.38 285.7h3.29v1.6h-3.29zM1045.25 285.7h3.29v1.6h-3.29zM1074.88 286.5h3.29v.8h-3.29zM1078.17 286.1h3.29v1.2h-3.29zM1104.51 285.1h3.29v2.2h-3.29zM1117.68 286.8h3.29v.5h-3.29zM1127.55 286.1h3.29v1.2h-3.29zM1137.43 286.5h3.29v.8h-3.29zM1153.89 286.8h3.29v.5h-3.29zM1157.18 285.7h3.29v1.6h-3.29zM1199.97 286.1h3.29v1.2h-3.29zM1209.85 286.5h3.29v.8h-3.29zM1229.6 286.8h3.29v.5h-3.29zM1252.64 285.7h3.29v1.6h-3.29zM1255.94 286.1h3.29v1.2h-3.29zM1265.81 286.5h3.29v.8h-3.29zM1275.69 285.1h3.29v2.2h-3.29zM1288.85 285.7h3.29v1.6h-3.29zM1295.44 285.7h3.29v1.6h-3.29zM1302.02 286.8h3.29v.5h-3.29zM1305.31 286.8h3.29v.5h-3.29zM1321.77 285.1h3.29v2.2h-3.29zM1334.94 286.1h3.29v1.2h-3.29zM1351.4 285.1h3.29v2.2h-3.29zM1364.57 285.1h3.29v2.2h-3.29zM1367.86 286.8h3.29v.5h-3.29zM1374.44 285.7h3.29v1.6h-3.29zM1384.32 286.5h3.29v.8h-3.29zM1397.49 285.7h3.29v1.6h-3.29zM1404.07 285.1h3.29v2.2h-3.29zM1410.66 286.5h3.29v.8h-3.29zM1433.7 285.7h3.29v1.6h-3.29zM1440.28 285.7h3.29v1.6h-3.29zM1453.45 286.1h3.29v1.2h-3.29zM1463.33 285.1h3.29v2.2h-3.29zM1502.83 286.1h3.29v1.2h-3.29zM1506.12 285.1h3.29v2.2h-3.29zM1522.58 286.5h3.29v.8h-3.29zM1535.75 285.1h3.29v2.2h-3.29zM1539.04 285.1h3.29v2.2h-3.29z"/>
<rect x="1005.75" y="80" width="549.75" height="207.5" fill="url(#sepB)"/>
<path fill="#CCCCCC" d="M1005.75 303.4h549.75v39.5h-549.75zM1005.75 344.15h549.75v39.5h-549.75zM1005.75 384.9h549.75v39.5h-549.75zM1005.75 425.65h549.75v39.5h-549.75zM1005.75 466.4h549.75v39.5h-549.75zM1005.75 507.15h549.75v39.5h-549.75zM1005.75 547.9h549.75v39.5h-549.75zM1005.75 588.65h549.75v39.5h-549.75zM1005.75 629.4h549.75v39.5h-549.75zM1005.75 670.15h549.75v39.5h-549.75zM1005.75 710.9h549.75v39.5h-549.75zM1005.75 751.65h549.75v39.5h-549.75zM1005.75 792.4h549.75v39.5h-549.75zM1005.75 833.15h549.75v39.5h-549.75zM1005.75 873.9h549.75v39.5h-549.75zM1005.75 914.65h549.75v39.5h-549.75zM1005.75 955.4h549.75v39.5h-549.75zM1005.75 996.15h549.75v39.5h-549.75zM1005.75 1036.9h549.75v39.5h-549.75zM1005.75 1077.65h549.75v39.5h-549.75z"/>
<path fill="#33A02C" d="M1005.75 303.4h6.58v39.5h-6.58zM1015.63 303.4h6.58v39.5h-6.58zM1032.09 303.4h6.58v39.5h-6.58zM1041.96 303.4h16.46v39.5h-16.46zM1061.71 303.4h3.29v39.5h-3.29zM1068.3 303.4h3.29v39.5h-3.29zM1088.05 303.4h3.29v39.5h-3.29zM1094.63 303.4h16.46v39.5h-16.46zM1130.84 303.4h3.29v39.5h-3.29zM1137.43 303.4h6.58v39.5h-6.58zM1150.59 303.4h3.29v39.5h-3.29zM1160.47 303.4h6.58v39.5h-6.58zM1170.35 303.4h6.58v39.5h-6.58zM1183.51 303.4h3.29v39.5h-3.29zM1190.1 303.4h6.58v39.5h-6.58zM1203.26 303.4h19.75v39.5h-19.75zM1226.31 303.4h3.29v39.5h-3.29zM1242.77 303.4h6.58v39.5h-6.58zM1252.64 303.4h29.63v39.5h-29.63zM1285.56 303.4h6.58v39.5h-6.58zM1302.02 303.4h9.88v39.5h-9.88zM1009.04 344.15h6.58v39.5h-6.58zM1018.92 344.15h3.29v39.5h-3.29zM1041.96 344.15h6.58v39.5h-6.58zM1051.84 344.15h3.29v39.5h-3.29zM1058.42 344.15h3.29v39.5h-3.29zM1068.3 344.15h3.29v39.5h-3.29zM1074.88 344.15h13.17v39.5h-13.17zM1094.63 344.15h3.29v39.5h-3.29zM1114.38 344.15h6.58v39.5h-6.58zM1124.26 344.15h3.29v39.5h-3.29zM1130.84 344.15h3.29v39.5h-3.29zM1137.43 344.15h6.58v39.5h-6.58zM1147.3 344.15h6.58v39.5h-6.58zM1157.18 344.15h3.29v39.5h-3.29zM1315.19 344.15h6.58v39.5h-6.58zM1325.07 344.15h3.29v39.5h-3.29zM1341.53 344.15h6.58v39.5h-6.58zM1351.4 344.15h3.29v39.5h-3.29zM1357.99 344.15h13.17v39.5h-13.17zM1377.74 344.15h3.29v39.5h-3.29zM1384.32 344.15h6.58v39.5h-6.58zM1394.2 344.15h3.29v39.5h-3.29zM1005.75 384.9h3.29v39.5h-3.29zM1012.33 384.9h3.29v39.5h-3.29zM1180.22 384.9h3.29v39.5h-3.29zM1311.9 384.9h3.29v39.5h-3.29zM1318.48 384.9h3.29v39.5h-3.29zM1338.23 384.9h6.58v39.5h-6.58zM1005.75 425.65h3.29v39.5h-3.29zM1068.3 425.65h3.29v39.5h-3.29zM1167.05 425.65h3.29v39.5h-3.29zM1196.68 425.65h6.58v39.5h-6.58zM1213.14 425.65h3.29v39.5h-3.29zM1348.11 425.65h6.58v39.5h-6.58zM1357.99 425.65h3.29v39.5h-3.29zM1410.66 425.65h3.29v39.5h-3.29zM1460.03 425.65h3.29v39.5h-3.29zM1469.91 425.65h3.29v39.5h-3.29zM1486.37 425.65h6.58v39.5h-6.58zM1012.33 466.4h3.29v39.5h-3.29zM1055.13 466.4h3.29v39.5h-3.29zM1094.63 466.4h3.29v39.5h-3.29zM1196.68 466.4h3.29v39.5h-3.29zM1223.02 466.4h3.29v39.5h-3.29zM1460.03 466.4h3.29v39.5h-3.29zM1506.12 466.4h3.29v39.5h-3.29zM1055.13 507.15h6.58v39.5h-6.58zM1088.05 507.15h3.29v39.5h-3.29zM1094.63 507.15h6.58v39.5h-6.58zM1104.51 507.15h3.29v39.5h-3.29zM1117.68 507.15h13.17v39.5h-13.17zM1199.97 507.15h3.29v39.5h-3.29zM1249.35 507.15h9.88v39.5h-9.88zM1367.86 507.15h3.29v39.5h-3.29zM1374.44 507.15h3.29v39.5h-3.29zM1410.66 507.15h3.29v39.5h-3.29zM1420.53 507.15h3.29v39.5h-3.29zM1496.25 507.15h3.29v39.5h-3.29zM1516 507.15h3.29v39.5h-3.29zM1522.58 507.15h6.58v39.5h-6.58zM1022.21 547.9h3.29v39.5h-3.29zM1061.71 547.9h6.58v39.5h-6.58zM1088.05 547.9h3.29v39.5h-3.29zM1107.8 547.9h9.88v39.5h-9.88zM1134.13 547.9h9.88v39.5h-9.88zM1160.47 547.9h3.29v39.5h-3.29zM1203.26 547.9h3.29v39.5h-3.29zM1219.72 547.9h3.29v39.5h-3.29zM1262.52 547.9h6.58v39.5h-6.58zM1311.9 547.9h3.29v39.5h-3.29zM1325.07 547.9h3.29v39.5h-3.29zM1351.4 547.9h3.29v39.5h-3.29zM1381.03 547.9h3.29v39.5h-3.29zM1466.62 547.9h3.29v39.5h-3.29zM1516 547.9h3.29v39.5h-3.29zM1005.75 588.65h6.58v39.5h-6.58zM1061.71 588.65h3.29v39.5h-3.29zM1071.59 588.65h3.29v39.5h-3.29zM1088.05 588.65h6.58v39.5h-6.58zM1107.8 588.65h3.29v39.5h-3.29zM1134.13 588.65h3.29v39.5h-3.29zM1163.76 588.65h6.58v39.5h-6.58zM1206.56 588.65h6.58v39.5h-6.58zM1219.72 588.65h9.88v39.5h-9.88zM1249.35 588.65h3.29v39.5h-3.29zM1269.1 588.65h6.58v39.5h-6.58zM1278.98 588.65h3.29v39.5h-3.29zM1351.4 588.65h3.29v39.5h-3.29zM1460.03 588.65h3.29v39.5h-3.29zM1529.16 588.65h3.29v39.5h-3.29zM1005.75 629.4h3.29v39.5h-3.29zM1012.33 629.4h3.29v39.5h-3.29zM1022.21 629.4h3.29v39.5h-3.29zM1038.67 629.4h3.29v39.5h-3.29zM1137.43 629.4h3.29v39.5h-3.29zM1183.51 629.4h6.58v39.5h-6.58zM1199.97 629.4h3.29v39.5h-3.29zM1223.02 629.4h3.29v39.5h-3.29zM1229.6 629.4h3.29v39.5h-3.29zM1269.1 629.4h6.58v39.5h-6.58zM1282.27 629.4h3.29v39.5h-3.29zM1311.9 629.4h3.29v39.5h-3.29zM1321.77 629.4h3.29v39.5h-3.29zM1354.69 629.4h3.29v39.5h-3.29zM1367.86 629.4h3.29v39.5h-3.29zM1423.82 629.4h3.29v39.5h-3.29zM1430.41 629.4h3.29v39.5h-3.29zM1463.33 629.4h3.29v39.5h-3.29zM1516 629.4h3.29v39.5h-3.29zM1035.38 670.15h3.29v39.5h-3.29zM1041.96 670.15h6.58v39.5h-6.58zM1055.13 670.15h3.29v39.5h-3.29zM1061.71 670.15h6.58v39.5h-6.58zM1078.17 670.15h6.58v39.5h-6.58zM1088.05 670.15h3.29v39.5h-3.29zM1134.13 670.15h3.29v39.5h-3.29zM1144.01 670.15h3.29v39.5h-3.29zM1219.72 670.15h6.58v39.5h-6.58zM1269.1 670.15h6.58v39.5h-6.58zM1354.69 670.15h3.29v39.5h-3.29zM1407.36 670.15h3.29v39.5h-3.29zM1433.7 670.15h3.29v39.5h-3.29zM1460.03 670.15h3.29v39.5h-3.29zM1532.46 670.15h3.29v39.5h-3.29zM1012.33 710.9h3.29v39.5h-3.29zM1035.38 710.9h3.29v39.5h-3.29zM1041.96 710.9h3.29v39.5h-3.29zM1048.54 710.9h3.29v39.5h-3.29zM1061.71 710.9h3.29v39.5h-3.29zM1068.3 710.9h3.29v39.5h-3.29zM1088.05 710.9h3.29v39.5h-3.29zM1094.63 710.9h3.29v39.5h-3.29zM1111.09 710.9h9.88v39.5h-9.88zM1124.26 710.9h6.58v39.5h-6.58zM1190.1 710.9h3.29v39.5h-3.29zM1206.56 710.9h3.29v39.5h-3.29zM1232.89 710.9h3.29v39.5h-3.29zM1265.81 710.9h3.29v39.5h-3.29zM1318.48 710.9h3.29v39.5h-3.29zM1325.07 710.9h3.29v39.5h-3.29zM1331.65 710.9h3.29v39.5h-3.29zM1357.99 710.9h3.29v39.5h-3.29zM1417.24 710.9h3.29v39.5h-3.29zM1433.7 710.9h3.29v39.5h-3.29zM1502.83 710.9h3.29v39.5h-3.29zM1535.75 710.9h3.29v39.5h-3.29zM1015.63 751.65h3.29v39.5h-3.29zM1032.09 792.4h3.29v39.5h-3.29zM1061.71 792.4h3.29v39.5h-3.29zM1068.3 792.4h3.29v39.5h-3.29zM1091.34 792.4h3.29v39.5h-3.29zM1097.92 792.4h3.29v39.5h-3.29zM1144.01 792.4h3.29v39.5h-3.29zM1160.47 792.4h3.29v39.5h-3.29zM1183.51 792.4h3.29v39.5h-3.29zM1219.72 792.4h3.29v39.5h-3.29zM1236.18 792.4h3.29v39.5h-3.29zM1269.1 792.4h6.58v39.5h-6.58zM1292.15 792.4h3.29v39.5h-3.29zM1311.9 792.4h3.29v39.5h-3.29zM1325.07 792.4h3.29v39.5h-3.29zM1367.86 792.4h3.29v39.5h-3.29zM1440.28 792.4h3.29v39.5h-3.29zM1496.25 792.4h3.29v39.5h-3.29zM1539.04 792.4h3.29v39.5h-3.29zM1022.21 833.15h3.29v39.5h-3.29zM1068.3 833.15h3.29v39.5h-3.29zM1120.97 833.15h3.29v39.5h-3.29zM1186.81 833.15h3.29v39.5h-3.29zM1196.68 833.15h3.29v39.5h-3.29zM1361.28 833.15h3.29v39.5h-3.29zM1371.15 833.15h3.29v39.5h-3.29zM1410.66 833.15h3.29v39.5h-3.29zM1420.53 833.15h3.29v39.5h-3.29zM1433.7 833.15h3.29v39.5h-3.29zM1443.57 833.15h9.88v39.5h-9.88zM1460.03 833.15h6.58v39.5h-6.58zM1502.83 833.15h3.29v39.5h-3.29zM1005.75 873.9h3.29v39.5h-3.29zM1015.63 873.9h3.29v39.5h-3.29zM1022.21 873.9h6.58v39.5h-6.58zM1134.13 873.9h3.29v39.5h-3.29zM1140.72 873.9h6.58v39.5h-6.58zM1265.81 873.9h3.29v39.5h-3.29zM1295.44 873.9h3.29v39.5h-3.29zM1361.28 873.9h3.29v39.5h-3.29zM1367.86 873.9h3.29v39.5h-3.29zM1423.82 873.9h3.29v39.5h-3.29zM1476.49 873.9h3.29v39.5h-3.29zM1499.54 873.9h3.29v39.5h-3.29zM1542.33 873.9h3.29v39.5h-3.29zM1032.09 914.65h3.29v39.5h-3.29zM1055.13 914.65h3.29v39.5h-3.29zM1111.09 914.65h6.58v39.5h-6.58zM1134.13 914.65h3.29v39.5h-3.29zM1186.81 914.65h6.58v39.5h-6.58zM1203.26 914.65h3.29v39.5h-3.29zM1239.48 914.65h3.29v39.5h-3.29zM1255.94 914.65h3.29v39.5h-3.29zM1311.9 914.65h6.58v39.5h-6.58zM1367.86 914.65h3.29v39.5h-3.29zM1410.66 914.65h3.29v39.5h-3.29zM1423.82 914.65h3.29v39.5h-3.29zM1433.7 914.65h3.29v39.5h-3.29zM1443.57 914.65h3.29v39.5h-3.29zM1473.2 914.65h3.29v39.5h-3.29zM1516 914.65h3.29v39.5h-3.29zM1532.46 914.65h3.29v39.5h-3.29zM1539.04 914.65h3.29v39.5h-3.29zM1022.21 955.4h3.29v39.5h-3.29zM1035.38 955.4h3.29v39.5h-3.29zM1088.05 955.4h3.29v39.5h-3.29zM1130.84 955.4h6.58v39.5h-6.58zM1160.47 955.4h3.29v39.5h-3.29zM1236.18 955.4h6.58v39.5h-6.58zM1269.1 955.4h6.58v39.5h-6.58zM1341.53 955.4h3.29v39.5h-3.29zM1390.9 955.4h3.29v39.5h-3.29zM1427.12 955.4h3.29v39.5h-3.29zM1443.57 955.4h3.29v39.5h-3.29zM1479.79 955.4h3.29v39.5h-3.29zM1506.12 955.4h3.29v39.5h-3.29zM1529.16 955.4h3.29v39.5h-3.29zM1539.04 955.4h3.29v39.5h-3.29zM1545.62 955.4h3.29v39.5h-3.29zM1038.67 996.15h6.58v39.5h-6.58zM1107.8 996.15h3.29v39.5h-3.29zM1176.93 996.15h3.29v39.5h-3.29zM1242.77 996.15h3.29v39.5h-3.29zM1377.74 996.15h3.29v39.5h-3.29zM1390.9 996.15h3.29v39.5h-3.29zM1473.2 996.15h3.29v39.5h-3.29zM1516 996.15h3.29v39.5h-3.29zM1015.63 1036.9h3.29v39.5h-3.29zM1035.38 1036.9h3.29v39.5h-3.29zM1055.13 1036.9h3.29v39.5h-3.29zM1071.59 1036.9h3.29v39.5h-3.29zM1081.46 1036.9h3.29v39.5h-3.29zM1091.34 1036.9h3.29v39.5h-3.29zM1101.22 1036.9h3.29v39.5h-3.29zM1163.76 1036.9h3.29v39.5h-3.29zM1246.06 1036.9h3.29v39.5h-3.29zM1275.69 1036.9h3.29v39.5h-3.29zM1334.94 1036.9h3.29v39.5h-3.29zM1384.32 1036.9h3.29v39.5h-3.29zM1394.2 1036.9h3.29v39.5h-3.29zM1407.36 1036.9h3.29v39.5h-3.29zM1446.87 1036.9h6.58v39.5h-6.58zM1469.91 1036.9h3.29v39.5h-3.29zM1542.33 1036.9h3.29v39.5h-3.29zM1552.21 1036.9h3.29v39.5h-3.29zM1005.75 1077.65h3.29v39.5h-3.29zM1055.13 1077.65h3.29v39.5h-3.29zM1084.76 1077.65h3.29v39.5h-3.29zM1091.34 1077.65h3.29v39.5h-3.29zM1298.73 1077.65h3.29v39.5h-3.29zM1338.23 1077.65h3.29v39.5h-3.29zM1361.28 1077.65h3.29v39.5h-3.29zM1367.86 1077.65h3.29v39.5h-3.29zM1417.24 1077.65h3.29v39.5h-3.29zM1433.7 1077.65h3.29v39.5h-3.29zM1440.28 1077.65h3.29v39.5h-3.29zM1499.54 1077.65h3.29v39.5h-3.29zM1519.29 1077.65h6.58v39.5h-6.58zM1539.04 1077.65h3.29v39.5h-3.29z"/>
<path fill="#E31A1C" d="M1012.33 303.4h3.29v39.5h-3.29zM1022.21 303.4h3.29v39.5h-3.29zM1038.67 303.4h3.29v39.5h-3.29zM1058.42 303.4h3.29v39.5h-3.29zM1065 303.4h3.29v39.5h-3.29zM1071.59 303.4h3.29v39.5h-3.29zM1078.17 303.4h6.58v39.5h-6.58zM1124.26 303.4h3.29v39.5h-3.29zM1144.01 303.4h3.29v39.5h-3.29zM1153.89 303.4h6.58v39.5h-6.58zM1199.97 303.4h3.29v39.5h-3.29zM1229.6 303.4h3.29v39.5h-3.29zM1334.94 344.15h3.29v39.5h-3.29zM1371.15 344.15h3.29v39.5h-3.29zM1009.04 384.9h3.29v39.5h-3.29zM1015.63 384.9h6.58v39.5h-6.58zM1025.5 384.9h3.29v39.5h-3.29zM1038.67 384.9h3.29v39.5h-3.29zM1048.54 384.9h3.29v39.5h-3.29zM1167.05 384.9h13.17v39.5h-13.17zM1183.51 384.9h3.29v39.5h-3.29zM1193.39 384.9h3.29v39.5h-3.29zM1315.19 384.9h3.29v39.5h-3.29zM1321.77 384.9h3.29v39.5h-3.29zM1331.65 384.9h3.29v39.5h-3.29zM1420.53 384.9h3.29v39.5h-3.29zM1430.41 384.9h6.58v39.5h-6.58zM1061.71 425.65h6.58v39.5h-6.58zM1071.59 425.65h3.29v39.5h-3.29zM1078.17 425.65h9.88v39.5h-9.88zM1160.47 425.65h3.29v39.5h-3.29zM1170.35 425.65h3.29v39.5h-3.29zM1206.56 425.65h3.29v39.5h-3.29zM1311.9 425.65h3.29v39.5h-3.29zM1354.69 425.65h3.29v39.5h-3.29zM1361.28 425.65h6.58v39.5h-6.58zM1413.95 425.65h3.29v39.5h-3.29zM1463.33 425.65h6.58v39.5h-6.58zM1473.2 425.65h6.58v39.5h-6.58zM1492.95 425.65h3.29v39.5h-3.29zM1097.92 466.4h3.29v39.5h-3.29zM1104.51 466.4h3.29v39.5h-3.29zM1176.93 466.4h3.29v39.5h-3.29zM1219.72 466.4h3.29v39.5h-3.29zM1226.31 466.4h3.29v39.5h-3.29zM1242.77 466.4h3.29v39.5h-3.29zM1348.11 466.4h3.29v39.5h-3.29zM1502.83 466.4h3.29v39.5h-3.29zM1101.22 507.15h3.29v39.5h-3.29zM1130.84 507.15h3.29v39.5h-3.29zM1519.29 507.15h3.29v39.5h-3.29zM1012.33 547.9h3.29v39.5h-3.29zM1025.5 547.9h3.29v39.5h-3.29zM1068.3 547.9h3.29v39.5h-3.29zM1180.22 547.9h3.29v39.5h-3.29zM1246.06 547.9h3.29v39.5h-3.29zM1259.23 547.9h3.29v39.5h-3.29zM1196.68 588.65h3.29v39.5h-3.29zM1259.23 588.65h3.29v39.5h-3.29zM1423.82 588.65h3.29v39.5h-3.29zM1120.97 629.4h3.29v39.5h-3.29zM1348.11 629.4h3.29v39.5h-3.29zM1022.21 670.15h3.29v39.5h-3.29zM1160.47 670.15h3.29v39.5h-3.29zM1262.52 670.15h3.29v39.5h-3.29zM1384.32 670.15h3.29v39.5h-3.29zM1028.79 751.65h3.29v39.5h-3.29zM1048.54 751.65h3.29v39.5h-3.29zM1055.13 751.65h3.29v39.5h-3.29zM1061.71 751.65h3.29v39.5h-3.29zM1068.3 751.65h3.29v39.5h-3.29zM1137.43 751.65h3.29v39.5h-3.29zM1203.26 751.65h3.29v39.5h-3.29zM1252.64 751.65h3.29v39.5h-3.29zM1259.23 751.65h3.29v39.5h-3.29zM1275.69 751.65h3.29v39.5h-3.29zM1288.85 751.65h3.29v39.5h-3.29zM1436.99 751.65h3.29v39.5h-3.29zM1499.54 751.65h3.29v39.5h-3.29zM1334.94 792.4h3.29v39.5h-3.29zM1473.2 792.4h3.29v39.5h-3.29zM1094.63 833.15h3.29v39.5h-3.29zM1219.72 833.15h3.29v39.5h-3.29zM1097.92 873.9h3.29v39.5h-3.29zM1153.89 873.9h3.29v39.5h-3.29zM1196.68 873.9h3.29v39.5h-3.29zM1321.77 873.9h3.29v39.5h-3.29zM1160.47 914.65h3.29v39.5h-3.29zM1407.36 914.65h3.29v39.5h-3.29zM1420.53 914.65h3.29v39.5h-3.29zM1548.92 955.4h3.29v39.5h-3.29zM1535.75 996.15h3.29v39.5h-3.29zM1331.65 1036.9h3.29v39.5h-3.29zM1022.21 1077.65h3.29v39.5h-3.29zM1321.77 1077.65h3.29v39.5h-3.29z"/>
<path fill="#1F78B4" d="M1025.5 303.4h3.29v39.5h-3.29zM1084.76 303.4h3.29v39.5h-3.29zM1147.3 303.4h3.29v39.5h-3.29zM1186.81 303.4h3.29v39.5h-3.29zM1196.68 303.4h3.29v39.5h-3.29zM1232.89 303.4h9.88v39.5h-9.88zM1295.44 303.4h6.58v39.5h-6.58zM1045.25 384.9h3.29v39.5h-3.29zM1051.84 384.9h3.29v39.5h-3.29zM1160.47 384.9h6.58v39.5h-6.58zM1186.81 384.9h3.29v39.5h-3.29zM1325.07 384.9h3.29v39.5h-3.29zM1334.94 384.9h3.29v39.5h-3.29zM1344.82 384.9h3.29v39.5h-3.29zM1410.66 384.9h3.29v39.5h-3.29zM1417.24 384.9h3.29v39.5h-3.29zM1436.99 384.9h3.29v39.5h-3.29zM1443.57 384.9h16.46v39.5h-16.46zM1009.04 425.65h3.29v39.5h-3.29zM1058.42 425.65h3.29v39.5h-3.29zM1074.88 425.65h3.29v39.5h-3.29zM1216.43 425.65h3.29v39.5h-3.29zM1318.48 425.65h3.29v39.5h-3.29zM1407.36 425.65h3.29v39.5h-3.29zM1483.08 425.65h3.29v39.5h-3.29zM1025.5 466.4h9.88v39.5h-9.88zM1229.6 466.4h3.29v39.5h-3.29zM1371.15 466.4h3.29v39.5h-3.29zM1496.25 466.4h3.29v39.5h-3.29zM1499.54 670.15h3.29v39.5h-3.29zM1051.84 751.65h3.29v39.5h-3.29zM1150.59 751.65h3.29v39.5h-3.29zM1170.35 751.65h3.29v39.5h-3.29zM1285.56 751.65h3.29v39.5h-3.29zM1469.91 751.65h3.29v39.5h-3.29zM1045.25 792.4h3.29v39.5h-3.29zM1071.59 792.4h3.29v39.5h-3.29zM1065 833.15h3.29v39.5h-3.29zM1084.76 833.15h3.29v39.5h-3.29zM1216.43 833.15h3.29v39.5h-3.29zM1473.2 833.15h3.29v39.5h-3.29zM1074.88 873.9h3.29v39.5h-3.29zM1213.14 873.9h3.29v39.5h-3.29zM1239.48 873.9h3.29v39.5h-3.29zM1460.03 955.4h3.29v39.5h-3.29zM1344.82 996.15h3.29v39.5h-3.29zM1542.33 996.15h3.29v39.5h-3.29zM1216.43 1036.9h3.29v39.5h-3.29z"/>
<path fill="#000000" d="M1028.79 303.4h3.29v39.5h-3.29zM1091.34 303.4h3.29v39.5h-3.29zM1117.68 303.4h6.58v39.5h-6.58zM1127.55 303.4h3.29v39.5h-3.29zM1134.13 303.4h3.29v39.5h-3.29zM1176.93 303.4h6.58v39.5h-6.58zM1223.02 303.4h3.29v39.5h-3.29zM1292.15 303.4h3.29v39.5h-3.29zM1005.75 344.15h3.29v39.5h-3.29zM1015.63 344.15h3.29v39.5h-3.29zM1022.21 344.15h19.75v39.5h-19.75zM1048.54 344.15h3.29v39.5h-3.29zM1055.13 344.15h3.29v39.5h-3.29zM1061.71 344.15h6.58v39.5h-6.58zM1071.59 344.15h3.29v39.5h-3.29zM1088.05 344.15h6.58v39.5h-6.58zM1097.92 344.15h16.46v39.5h-16.46zM1120.97 344.15h3.29v39.5h-3.29zM1127.55 344.15h3.29v39.5h-3.29zM1134.13 344.15h3.29v39.5h-3.29zM1144.01 344.15h3.29v39.5h-3.29zM1153.89 344.15h3.29v39.5h-3.29zM1311.9 344.15h3.29v39.5h-3.29zM1321.77 344.15h3.29v39.5h-3.29zM1328.36 344.15h6.58v39.5h-6.58zM1338.23 344.15h3.29v39.5h-3.29zM1348.11 344.15h3.29v39.5h-3.29zM1354.69 344.15h3.29v39.5h-3.29zM1374.44 344.15h3.29v39.5h-3.29zM1381.03 344.15h3.29v39.5h-3.29zM1390.9 344.15h3.29v39.5h-3.29zM1397.49 344.15h9.88v39.5h-9.88zM1022.21 384.9h3.29v39.5h-3.29zM1028.79 384.9h3.29v39.5h-3.29zM1041.96 384.9h3.29v39.5h-3.29zM1328.36 384.9h3.29v39.5h-3.29zM1413.95 384.9h3.29v39.5h-3.29zM1427.12 384.9h3.29v39.5h-3.29zM1440.28 384.9h3.29v39.5h-3.29zM1055.13 425.65h3.29v39.5h-3.29zM1163.76 425.65h3.29v39.5h-3.29zM1203.26 425.65h3.29v39.5h-3.29zM1209.85 425.65h3.29v39.5h-3.29zM1315.19 425.65h3.29v39.5h-3.29zM1015.63 466.4h3.29v39.5h-3.29zM1022.21 466.4h3.29v39.5h-3.29zM1239.48 466.4h3.29v39.5h-3.29zM1407.36 466.4h3.29v39.5h-3.29zM1005.75 507.15h3.29v39.5h-3.29zM1012.33 507.15h9.88v39.5h-9.88zM1035.38 507.15h3.29v39.5h-3.29zM1091.34 507.15h3.29v39.5h-3.29zM1246.06 507.15h3.29v39.5h-3.29zM1321.77 507.15h3.29v39.5h-3.29zM1351.4 507.15h3.29v39.5h-3.29zM1377.74 507.15h3.29v39.5h-3.29zM1417.24 507.15h3.29v39.5h-3.29zM1173.64 547.9h3.29v39.5h-3.29zM1315.19 547.9h3.29v39.5h-3.29zM1328.36 547.9h3.29v39.5h-3.29zM1367.86 547.9h3.29v39.5h-3.29zM1410.66 547.9h3.29v39.5h-3.29zM1463.33 547.9h3.29v39.5h-3.29zM1074.88 588.65h3.29v39.5h-3.29zM1275.69 588.65h3.29v39.5h-3.29zM1354.69 588.65h3.29v39.5h-3.29zM1427.12 588.65h3.29v39.5h-3.29zM1009.04 629.4h3.29v39.5h-3.29zM1055.13 629.4h3.29v39.5h-3.29zM1078.17 629.4h3.29v39.5h-3.29zM1091.34 629.4h3.29v39.5h-3.29zM1117.68 629.4h3.29v39.5h-3.29zM1246.06 629.4h3.29v39.5h-3.29zM1009.04 670.15h3.29v39.5h-3.29zM1124.26 670.15h3.29v39.5h-3.29zM1311.9 670.15h3.29v39.5h-3.29zM1183.51 710.9h3.29v39.5h-3.29zM1219.72 710.9h3.29v39.5h-3.29zM1348.11 710.9h3.29v39.5h-3.29zM1045.25 751.65h3.29v39.5h-3.29zM1058.42 751.65h3.29v39.5h-3.29zM1117.68 751.65h3.29v39.5h-3.29zM1183.51 751.65h3.29v39.5h-3.29zM1005.75 792.4h3.29v39.5h-3.29zM1015.63 833.15h3.29v39.5h-3.29zM1348.11 833.15h3.29v39.5h-3.29zM1466.62 833.15h3.29v39.5h-3.29zM1476.49 833.15h3.29v39.5h-3.29zM1516 833.15h3.29v39.5h-3.29zM1144.01 914.65h3.29v39.5h-3.29zM1193.39 955.4h3.29v39.5h-3.29zM1542.33 955.4h3.29v39.5h-3.29zM1018.92 996.15h3.29v39.5h-3.29zM1055.13 996.15h3.29v39.5h-3.29zM1239.48 996.15h3.29v39.5h-3.29zM1328.36 996.15h3.29v39.5h-3.29zM1374.44 996.15h3.29v39.5h-3.29zM1022.21 1036.9h3.29v39.5h-3.29zM1088.05 1077.65h3.29v39.5h-3.29zM1262.52 1077.65h3.29v39.5h-3.29z"/>
<path fill="#6A3D9A" d="M1074.88 303.4h3.29v39.5h-3.29zM1111.09 303.4h6.58v39.5h-6.58zM1167.05 303.4h3.29v39.5h-3.29zM1032.09 384.9h6.58v39.5h-6.58zM1190.1 384.9h3.29v39.5h-3.29zM1407.36 384.9h3.29v39.5h-3.29zM1423.82 384.9h3.29v39.5h-3.29zM1479.79 425.65h3.29v39.5h-3.29zM1088.05 466.4h3.29v39.5h-3.29zM1101.22 466.4h3.29v39.5h-3.29zM1107.8 466.4h3.29v39.5h-3.29zM1173.64 466.4h3.29v39.5h-3.29zM1232.89 466.4h3.29v39.5h-3.29zM1509.41 466.4h3.29v39.5h-3.29zM1038.67 751.65h3.29v39.5h-3.29zM1529.16 873.9h3.29v39.5h-3.29zM1232.89 996.15h3.29v39.5h-3.29zM1325.07 996.15h3.29v39.5h-3.29zM1384.32 996.15h3.29v39.5h-3.29zM1430.41 996.15h3.29v39.5h-3.29zM1446.87 996.15h3.29v39.5h-3.29z"/>
<path fill="#FFFF99" d="M1249.35 303.4h3.29v39.5h-3.29zM1236.18 466.4h3.29v39.5h-3.29zM1213.14 751.65h3.29v39.5h-3.29zM1117.68 873.9h3.29v39.5h-3.29zM1176.93 1077.65h3.29v39.5h-3.29z"/>
<path fill="#FF7F00" d="M1282.27 303.4h3.29v39.5h-3.29zM1018.92 466.4h3.29v39.5h-3.29zM1091.34 466.4h3.29v39.5h-3.29zM1111.09 466.4h6.58v39.5h-6.58zM1367.86 466.4h3.29v39.5h-3.29zM1499.54 466.4h3.29v39.5h-3.29zM1147.3 751.65h3.29v39.5h-3.29zM1278.98 751.65h3.29v39.5h-3.29zM1387.61 751.65h3.29v39.5h-3.29zM1065 792.4h3.29v39.5h-3.29zM1176.93 792.4h3.29v39.5h-3.29zM1338.23 792.4h3.29v39.5h-3.29zM1318.48 873.9h3.29v39.5h-3.29zM1196.68 996.15h3.29v39.5h-3.29zM1469.91 1077.65h3.29v39.5h-3.29z"/>
<path fill="#D53E4F" d="M1512.71 466.4h3.29v39.5h-3.29z"/>
<rect x="1005.75" y="303.4" width="549.75" height="813.75" fill="url(#sepB)"/>
<rect x="1005.25" y="342.9" width="550.75" height="1.25" fill="#F2F2F2"/>
<rect x="1005.25" y="383.65" width="550.75" height="1.25" fill="#F2F2F2"/>
<rect x="1005.25" y="424.4" width="550.75" height="1.25" fill="#F2F2F2"/>
<rect x="1005.25" y="465.15" width="550.75" height="1.25" fill="#F2F2F2"/>
<rect x="1005.25" y="505.9" width="550.75" height="1.25" fill="#F2F2F2"/>
<rect x="1005.25" y="546.65" width="550.75" height="1.25" fill="#F2F2F2"/>
<rect x="1005.25" y="587.4" width="550.75" height="1.25" fill="#F2F2F2"/>
<rect x="1005.25" y="628.15" width="550.75" height="1.25" fill="#F2F2F2"/>
<rect x="1005.25" y="668.9" width="550.75" height="1.25" fill="#F2F2F2"/>
<rect x="1005.25" y="709.65" width="550.75" height="1.25" fill="#F2F2F2"/>
<rect x="1005.25" y="750.4" width="550.75" height="1.25" fill="#F2F2F2"/>
<rect x="1005.25" y="791.15" width="550.75" height="1.25" fill="#F2F2F2"/>
<rect x="1005.25" y="831.9" width="550.75" height="1.25" fill="#F2F2F2"/>
<rect x="1005.25" y="872.65" width="550.75" height="1.25" fill="#F2F2F2"/>
<rect x="1005.25" y="913.4" width="550.75" height="1.25" fill="#F2F2F2"/>
<rect x="1005.25" y="954.15" width="550.75" height="1.25" fill="#F2F2F2"/>
<rect x="1005.25" y="994.9" width="550.75" height="1.25" fill="#F2F2F2"/>
<rect x="1005.25" y="1035.65" width="550.75" height="1.25" fill="#F2F2F2"/>
<rect x="1005.25" y="1076.4" width="550.75" height="1.25" fill="#F2F2F2"/>
<text x="920.48" y="327.1">TP53</text>
<text x="927.57" y="367.1">TTN</text>
<text x="911.28" y="407.1">ARID1A</text>
<text x="912.11" y="449.1">KMT2D</text>
<text x="911.22" y="489.6">KDM6A</text>
<text x="912.8" y="530.1">MUC16</text>
<text x="913.37" y="570.1">SYNE1</text>
<text x="934.4" y="611.1">FLG</text>
<text x="912.12" y="652.85">MACF1</text>
<text x="926.47" y="693.6">FAT4</text>
<text x="910.69" y="735.1">PIK3CA</text>
<text x="931.04" y="775.1">RB1</text>
<text x="909.1" y="816.6">HMCN1</text>
<text x="913.22" y="856.6">KMT2C</text>
<text x="918.01" y="895.1">EP300</text>
<text x="922.62" y="937.1">RYR2</text>
<text x="920.81" y="977.1">CUBN</text>
<text x="925.67" y="1018.1">ELF3</text>
<text x="919.25" y="1059.1">XIRP2</text>
<text x="911.67" y="1099.6">DNAH5</text>
<text x="1561.21" y="332.6">51</text>
<text x="1561.67" y="372.9">42</text>
<text x="1561.13" y="411.3">29</text>
<text x="1560.63" y="453.8">25</text>
<text x="1560.63" y="494.2">21</text>
<text x="1556.63" y="532">20</text>
<text x="1557.92" y="572.1">18</text>
<text x="1558.92" y="612.4">16</text>
<text x="1558.92" y="653.8">16</text>
<text x="1558.92" y="693.4">15</text>
<text x="1558.92" y="735.4">15</text>
<text x="1558.92" y="775">15</text>
<text x="1559.42" y="815.6">15</text>
<text x="1559.52" y="857.8">15</text>
<text x="1559.52" y="897.5">14</text>
<text x="1559.52" y="938.9">14</text>
<text x="1559.52" y="979.4">13</text>
<text x="1559.52" y="1020">13</text>
<text x="1558.92" y="1061.4">12</text>
<text x="1558.32" y="1101.9">12</text>
<text x="1555.81" y="283.75">(%)</text>
<line x1="1603.75" y1="293.75" x2="1809" y2="293.75" stroke="#222" stroke-width="1.5"/>
<line x1="1604.1" y1="283.75" x2="1604.1" y2="294.5" stroke="#444" stroke-width="1.2"/>
<line x1="1808.7" y1="283.75" x2="1808.7" y2="294.5" stroke="#444" stroke-width="1.2"/>
<text x="1598.44" y="268.75">0</text>
<text x="1614.26" y="250">No. of samples</text>
<text x="1791.22" y="268.75">93</text>
<path fill="#E31A1C" d="M1603.8 303.4h31.19v37.2h-31.19zM1603.8 344.15h4.71v37.2h-4.71zM1603.8 384.9h40.02v37.2h-40.02zM1603.8 425.65h42.22v37.2h-42.22zM1603.8 466.4h17.95v37.2h-17.95zM1603.8 507.15h6.92v37.2h-6.92zM1603.8 547.9h13.54v37.2h-13.54zM1603.8 588.65h6.92v37.2h-6.92zM1603.8 629.4h4.71v37.2h-4.71zM1603.8 670.15h9.13v37.2h-9.13zM1603.8 751.65h28.98v37.2h-28.98zM1603.8 792.4h4.71v37.2h-4.71zM1603.8 833.15h4.71v37.2h-4.71zM1603.8 873.9h9.13v37.2h-9.13zM1603.8 914.65h6.92v37.2h-6.92zM1603.8 955.4h2.51v37.2h-2.51zM1603.8 996.15h2.51v37.2h-2.51zM1603.8 1036.9h2.51v37.2h-2.51zM1603.8 1077.65h4.71v37.2h-4.71z"/>
<path fill="#FF7F00" d="M1634.69 303.4h2.51v37.2h-2.51zM1621.45 466.4h13.54v37.2h-13.54zM1632.48 751.65h6.92v37.2h-6.92zM1608.21 792.4h6.92v37.2h-6.92zM1612.63 873.9h2.51v37.2h-2.51zM1606.01 996.15h2.51v37.2h-2.51zM1608.21 1077.65h2.51v37.2h-2.51z"/>
<path fill="#33A02C" d="M1636.9 303.4h117.24v37.2h-117.24zM1608.21 344.15h79.73v37.2h-79.73zM1643.52 384.9h15.75v37.2h-15.75zM1645.72 425.65h31.19v37.2h-31.19zM1634.69 466.4h15.75v37.2h-15.75zM1610.42 507.15h48.84v37.2h-48.84zM1617.04 547.9h46.64v37.2h-46.64zM1610.42 588.65h48.84v37.2h-48.84zM1608.21 629.4h46.64v37.2h-46.64zM1612.63 670.15h44.43v37.2h-44.43zM1603.8 710.9h55.46v37.2h-55.46zM1639.1 751.65h2.51v37.2h-2.51zM1614.83 792.4h42.22v37.2h-42.22zM1608.21 833.15h35.6v37.2h-35.6zM1614.83 873.9h33.4v37.2h-33.4zM1610.42 914.65h46.64v37.2h-46.64zM1606.01 955.4h42.22v37.2h-42.22zM1608.21 996.15h20.16v37.2h-20.16zM1606.01 1036.9h42.22v37.2h-42.22zM1610.42 1077.65h33.4v37.2h-33.4z"/>
<path fill="#1F78B4" d="M1753.84 303.4h22.36v37.2h-22.36zM1658.96 384.9h35.6v37.2h-35.6zM1676.61 425.65h15.75v37.2h-15.75zM1650.14 466.4h13.54v37.2h-13.54zM1656.75 670.15h2.51v37.2h-2.51zM1641.31 751.65h11.33v37.2h-11.33zM1656.75 792.4h4.71v37.2h-4.71zM1643.52 833.15h9.13v37.2h-9.13zM1647.93 873.9h6.92v37.2h-6.92zM1647.93 955.4h2.51v37.2h-2.51zM1628.07 996.15h4.71v37.2h-4.71zM1647.93 1036.9h2.51v37.2h-2.51z"/>
<path fill="#6A3D9A" d="M1775.9 303.4h9.13v37.2h-9.13zM1694.26 384.9h11.33v37.2h-11.33zM1692.06 425.65h2.51v37.2h-2.51zM1663.37 466.4h13.54v37.2h-13.54zM1652.34 751.65h2.51v37.2h-2.51zM1654.55 873.9h2.51v37.2h-2.51zM1632.48 996.15h11.33v37.2h-11.33z"/>
<path fill="#FFFF99" d="M1784.73 303.4h2.51v37.2h-2.51zM1676.61 466.4h2.51v37.2h-2.51zM1654.55 751.65h2.51v37.2h-2.51zM1656.75 873.9h2.51v37.2h-2.51zM1643.52 1077.65h2.51v37.2h-2.51z"/>
<path fill="#000000" d="M1786.94 303.4h22.36v37.2h-22.36zM1687.65 344.15h84.15v37.2h-84.15zM1705.3 384.9h15.75v37.2h-15.75zM1694.26 425.65h11.33v37.2h-11.33zM1681.03 466.4h9.13v37.2h-9.13zM1658.96 507.15h24.57v37.2h-24.57zM1663.37 547.9h13.54v37.2h-13.54zM1658.96 588.65h9.13v37.2h-9.13zM1654.55 629.4h13.54v37.2h-13.54zM1658.96 670.15h6.92v37.2h-6.92zM1658.96 710.9h6.92v37.2h-6.92zM1656.75 751.65h9.13v37.2h-9.13zM1661.17 792.4h2.51v37.2h-2.51zM1652.34 833.15h11.33v37.2h-11.33zM1656.75 914.65h2.51v37.2h-2.51zM1650.14 955.4h4.71v37.2h-4.71zM1643.52 996.15h11.33v37.2h-11.33zM1650.14 1036.9h2.51v37.2h-2.51zM1645.72 1077.65h4.71v37.2h-4.71z"/>
<path fill="#D53E4F" d="M1678.82 466.4h2.51v37.2h-2.51z"/>
<path fill="#F6695E" d="M1005.5 1138.3h550.5v164.4h-550.5z"/>
<path fill="#6574C4" d="M1005.5 1190.3h3.1v27.2h-3.1zM1008.5 1159.2h3.1v58.9h-3.1zM1011.5 1160.8h3.1v55h-3.1zM1014.6 1172h3.1v39.4h-3.1zM1017.6 1169.2h3.1v52.8h-3.1zM1020.6 1200.8h3.1v2.8h-3.1zM1023.6 1162h3.1v76.1h-3.1zM1026.7 1170.3h3.1v55.5h-3.1zM1029.7 1178.1h3.1v30.5h-3.1zM1032.7 1216.9h3.1v11.7h-3.1zM1035.7 1179.7h3.1v40h-3.1zM1038.8 1173.6h3.1v41.7h-3.1zM1041.8 1184.7h3.1v43.3h-3.1zM1044.8 1186.4h3.1v35h-3.1zM1047.8 1188.6h3.1v43.3h-3.1zM1050.9 1189.2h3.1v40.5h-3.1zM1053.9 1182h3.1v23.9h-3.1zM1056.9 1213.1h3.1v7.8h-3.1zM1059.9 1149.7h3.1v70h-3.1zM1063 1150.9h3.1v56.1h-3.1zM1066 1210.3h3.1v42.8h-3.1zM1069 1184.7h3.1v40h-3.1zM1072 1167h3.1v45.5h-3.1zM1075.1 1155.9h3.1v61.1h-3.1zM1078.1 1164.2h3.1v46.1h-3.1zM1081.1 1154.2h3.1v62.8h-3.1zM1084.1 1190.3h3.1v42.2h-3.1zM1087.2 1162h3.1v26.7h-3.1zM1090.2 1187h3.1v18.9h-3.1zM1093.2 1183.1h3.1v9.4h-3.1zM1096.2 1152h3.1v78.9h-3.1zM1099.3 1206.4h3.1v35.5h-3.1zM1102.3 1174.2h3.1v26.7h-3.1zM1105.3 1203.1h3.1v25h-3.1zM1108.3 1168.1h3.1v38.3h-3.1zM1111.4 1169.2h3.1v55h-3.1zM1114.4 1193.1h3.1v18.3h-3.1zM1117.4 1162h3.1v53.9h-3.1zM1120.4 1183.1h3.1v76.1h-3.1zM1123.5 1174.2h3.1v21.7h-3.1zM1126.5 1178.1h3.1v26.1h-3.1zM1129.5 1208.6h3.1v8.9h-3.1zM1132.5 1224.7h3.1v21.1h-3.1zM1135.6 1167.5h3.1v44.4h-3.1zM1138.6 1164.2h3.1v48.3h-3.1zM1141.6 1160.8h3.1v36.7h-3.1zM1144.6 1159.7h3.1v57.2h-3.1zM1147.7 1165.8h3.1v57.2h-3.1zM1150.7 1168.6h3.1v60h-3.1zM1153.7 1150.9h3.1v63.3h-3.1zM1156.7 1186.4h3.1v36.7h-3.1zM1159.8 1179.2h3.1v24.4h-3.1zM1162.8 1154.2h3.1v53.3h-3.1zM1165.8 1170.3h3.1v33.9h-3.1zM1168.8 1177h3.1v64.4h-3.1zM1171.9 1214.2h3.1v25.5h-3.1zM1174.9 1199.7h3.1v19.4h-3.1zM1177.9 1157h3.1v58.3h-3.1zM1180.9 1174.7h3.1v39.4h-3.1zM1184 1166.4h3.1v71.1h-3.1zM1187 1170.3h3.1v40h-3.1zM1190 1180.3h3.1v15.6h-3.1zM1193 1149.2h3.1v71.6h-3.1zM1196.1 1166.4h3.1v50.5h-3.1zM1199.1 1184.2h3.1v32.2h-3.1zM1202.1 1193.6h3.1v31.1h-3.1zM1205.1 1178.6h3.1v8.3h-3.1zM1208.2 1165.3h3.1v63.3h-3.1zM1211.2 1167.5h3.1v47.2h-3.1zM1214.2 1167.5h3.1v60.5h-3.1zM1217.2 1185.3h3.1v16.1h-3.1zM1220.3 1164.7h3.1v53.9h-3.1zM1223.3 1207.5h3.1v24.4h-3.1zM1226.3 1175.3h3.1v47.2h-3.1zM1229.3 1178.6h3.1v51.1h-3.1zM1232.4 1212.5h3.1v32.8h-3.1zM1235.4 1150.9h3.1v72.8h-3.1zM1238.4 1167.5h3.1v56.1h-3.1zM1241.4 1187h3.1v48.3h-3.1zM1244.5 1199.2h3.1v42.8h-3.1zM1247.5 1167.5h3.1v57.2h-3.1zM1250.5 1153.1h3.1v51.1h-3.1zM1253.5 1176.4h3.1v34.4h-3.1zM1256.6 1177h3.1v25h-3.1zM1259.6 1181.4h3.1v38.3h-3.1zM1262.6 1189.2h3.1v41.1h-3.1zM1265.6 1192.5h3.1v15h-3.1zM1268.7 1226.9h3.1v21.1h-3.1zM1271.7 1159.2h3.1v34.4h-3.1zM1274.7 1167.5h3.1v52.2h-3.1zM1277.7 1202.5h3.1v21.1h-3.1zM1280.8 1156.4h3.1v58.3h-3.1zM1283.8 1179.7h3.1v40h-3.1zM1286.8 1193.6h3.1v15h-3.1zM1289.8 1160.3h3.1v48.3h-3.1zM1292.8 1161.4h3.1v63.3h-3.1zM1295.9 1221.4h3.1v10.6h-3.1zM1298.9 1156.4h3.1v66.6h-3.1zM1301.9 1155.3h3.1v66.6h-3.1zM1304.9 1154.2h3.1v62.8h-3.1zM1308 1173.1h3.1v52.8h-3.1zM1311 1186.4h3.1v46.7h-3.1zM1314 1163.1h3.1v39.4h-3.1zM1317 1203.6h3.1v11.1h-3.1zM1320.1 1173.1h3.1v38.9h-3.1zM1323.1 1188.6h3.1v15h-3.1zM1326.1 1200.3h3.1v17.8h-3.1zM1329.1 1193.1h3.1v28.3h-3.1zM1332.2 1165.3h3.1v56.7h-3.1zM1335.2 1188.6h3.1v40.5h-3.1zM1338.2 1151.4h3.1v36.7h-3.1zM1341.2 1165.8h3.1v44.4h-3.1zM1344.3 1190.3h3.1v31.1h-3.1zM1347.3 1181.4h3.1v25.5h-3.1zM1350.3 1168.6h3.1v47.8h-3.1zM1353.3 1163.1h3.1v50h-3.1zM1356.4 1163.1h3.1v47.8h-3.1zM1359.4 1167h3.1v40.5h-3.1zM1362.4 1168.6h3.1v52.2h-3.1zM1365.4 1184.7h3.1v41.1h-3.1zM1368.5 1186.4h3.1v56.1h-3.1zM1371.5 1159.2h3.1v53.9h-3.1zM1374.5 1167h3.1v44.4h-3.1zM1377.5 1175.3h3.1v41.7h-3.1zM1380.6 1186.4h3.1v26.7h-3.1zM1383.6 1199.2h3.1v20h-3.1zM1386.6 1160.8h3.1v53.9h-3.1zM1389.6 1190.3h3.1v52.2h-3.1zM1392.7 1179.2h3.1v40h-3.1zM1395.7 1165.8h3.1v50h-3.1zM1398.7 1195.8h3.1v37.2h-3.1zM1401.7 1173.6h3.1v47.8h-3.1zM1404.8 1167h3.1v56.1h-3.1zM1407.8 1177.5h3.1v22.2h-3.1zM1410.8 1158.6h3.1v51.7h-3.1zM1413.8 1188.1h3.1v42.8h-3.1zM1416.9 1192.5h3.1v41.7h-3.1zM1419.9 1175.3h3.1v30.5h-3.1zM1422.9 1158.1h3.1v66.1h-3.1zM1425.9 1158.6h3.1v61.1h-3.1zM1429 1176.4h3.1v47.2h-3.1zM1432 1172h3.1v40h-3.1zM1435 1221.4h3.1v17.2h-3.1zM1438 1157h3.1v68.9h-3.1zM1441.1 1184.2h3.1v37.8h-3.1zM1444.1 1189.2h3.1v41.1h-3.1zM1447.1 1196.4h3.1v27.2h-3.1zM1450.1 1180.3h3.1v43.9h-3.1zM1453.2 1163.1h3.1v46.1h-3.1zM1456.2 1168.1h3.1v51.1h-3.1zM1459.2 1164.2h3.1v56.7h-3.1zM1462.2 1182.5h3.1v61.1h-3.1zM1465.3 1170.3h3.1v48.3h-3.1zM1468.3 1188.6h3.1v18.3h-3.1zM1471.3 1192.5h3.1v26.1h-3.1zM1474.3 1182h3.1v17.8h-3.1zM1477.4 1211.4h3.1v40h-3.1zM1480.4 1178.1h3.1v48.9h-3.1zM1483.4 1179.2h3.1v16.7h-3.1zM1486.4 1160.3h3.1v47.8h-3.1zM1489.5 1226.4h3.1v10.6h-3.1zM1492.5 1203.1h3.1v4.4h-3.1zM1495.5 1182.5h3.1v18.9h-3.1zM1498.5 1157.5h3.1v56.7h-3.1zM1501.6 1165.8h3.1v42.2h-3.1zM1504.6 1210.3h3.1v35h-3.1zM1507.6 1190.3h3.1v47.2h-3.1zM1510.6 1169.7h3.1v43.9h-3.1zM1513.7 1173.1h3.1v55h-3.1zM1516.7 1207.5h3.1v58.9h-3.1zM1519.7 1197h3.1v12.8h-3.1zM1525.8 1196.4h3.1v23.9h-3.1zM1528.8 1160.8h3.1v61.1h-3.1zM1531.8 1165.8h3.1v42.8h-3.1zM1534.8 1172.5h3.1v20.6h-3.1zM1537.9 1197.5h3.1v44.4h-3.1zM1540.9 1167h3.1v65h-3.1zM1543.9 1173.6h3.1v25h-3.1zM1546.9 1182h3.1v47.2h-3.1zM1550 1194.7h3.1v21.1h-3.1zM1553 1199.7h3.1v36.7h-3.1z"/>
<path fill="#4DABF5" d="M1005.5 1173.1h3.1v17.2h-3.1zM1008.5 1143.6h3.1v15.6h-3.1zM1011.5 1138.6h3.1v22.2h-3.1zM1014.6 1155.9h3.1v16.1h-3.1zM1017.6 1152h3.1v17.2h-3.1zM1020.6 1170.3h3.1v30.5h-3.1zM1023.6 1147h3.1v15h-3.1zM1026.7 1153.1h3.1v17.2h-3.1zM1029.7 1157.5h3.1v20.5h-3.1zM1032.7 1191.4h3.1v25.5h-3.1zM1035.7 1163.1h3.1v16.7h-3.1zM1038.8 1158.1h3.1v15.6h-3.1zM1041.8 1169.2h3.1v15.6h-3.1zM1044.8 1173.1h3.1v13.3h-3.1zM1047.8 1163.6h3.1v25h-3.1zM1050.9 1164.2h3.1v25h-3.1zM1053.9 1163.1h3.1v18.9h-3.1zM1056.9 1189.7h3.1v23.3h-3.1zM1059.9 1143.1h3.1v6.7h-3.1zM1063 1144.7h3.1v6.1h-3.1zM1066 1173.1h3.1v37.2h-3.1zM1069 1165.3h3.1v19.4h-3.1zM1072 1162.5h3.1v4.4h-3.1zM1075.1 1145.9h3.1v10h-3.1zM1078.1 1150.3h3.1v13.9h-3.1zM1081.1 1144.7h3.1v9.4h-3.1zM1084.1 1169.2h3.1v21.1h-3.1zM1087.2 1149.7h3.1v12.2h-3.1zM1090.2 1177.5h3.1v9.4h-3.1zM1093.2 1165.8h3.1v17.2h-3.1zM1096.2 1142h3.1v10h-3.1zM1099.3 1185.3h3.1v21.1h-3.1zM1102.3 1158.1h3.1v16.1h-3.1zM1105.3 1178.1h3.1v25h-3.1zM1108.3 1150.3h3.1v17.8h-3.1zM1111.4 1155.9h3.1v13.3h-3.1zM1114.4 1163.1h3.1v30h-3.1zM1117.4 1150.9h3.1v11.1h-3.1zM1120.4 1166.4h3.1v16.7h-3.1zM1123.5 1160.8h3.1v13.3h-3.1zM1126.5 1154.2h3.1v23.9h-3.1zM1129.5 1173.6h3.1v35h-3.1zM1132.5 1207.5h3.1v17.2h-3.1zM1135.6 1150.3h3.1v17.2h-3.1zM1138.6 1154.2h3.1v10h-3.1zM1141.6 1152h3.1v8.9h-3.1zM1144.6 1148.1h3.1v11.7h-3.1zM1147.7 1151.4h3.1v14.4h-3.1zM1150.7 1154.7h3.1v13.9h-3.1zM1153.7 1142.5h3.1v8.3h-3.1zM1156.7 1167.5h3.1v18.9h-3.1zM1159.8 1149.7h3.1v29.4h-3.1zM1162.8 1142h3.1v12.2h-3.1zM1165.8 1159.2h3.1v11.1h-3.1zM1168.8 1154.2h3.1v22.8h-3.1zM1171.9 1166.4h3.1v47.8h-3.1zM1174.9 1174.7h3.1v25h-3.1zM1177.9 1145.9h3.1v11.1h-3.1zM1180.9 1153.1h3.1v21.7h-3.1zM1184 1143.6h3.1v22.8h-3.1zM1187 1154.2h3.1v16.1h-3.1zM1190 1157.5h3.1v22.8h-3.1zM1193 1138.3h3.1v10.9h-3.1zM1196.1 1144.7h3.1v21.7h-3.1zM1199.1 1157h3.1v27.2h-3.1zM1202.1 1170.3h3.1v23.3h-3.1zM1205.1 1151.4h3.1v27.2h-3.1zM1208.2 1146.4h3.1v18.9h-3.1zM1211.2 1150.9h3.1v16.7h-3.1zM1214.2 1154.2h3.1v13.3h-3.1zM1217.2 1164.7h3.1v20.5h-3.1zM1220.3 1150.9h3.1v13.9h-3.1zM1223.3 1190.8h3.1v16.7h-3.1zM1226.3 1162h3.1v13.3h-3.1zM1229.3 1157h3.1v21.7h-3.1zM1232.4 1192h3.1v20.6h-3.1zM1235.4 1138.3h3.1v12.6h-3.1zM1238.4 1149.2h3.1v18.3h-3.1zM1241.4 1166.4h3.1v20.5h-3.1zM1244.5 1178.6h3.1v20.6h-3.1zM1247.5 1152h3.1v15.6h-3.1zM1250.5 1145.9h3.1v7.2h-3.1zM1253.5 1158.1h3.1v18.3h-3.1zM1256.6 1163.6h3.1v13.3h-3.1zM1259.6 1162h3.1v19.4h-3.1zM1262.6 1166.4h3.1v22.8h-3.1zM1265.6 1160.3h3.1v32.2h-3.1zM1268.7 1183.1h3.1v43.9h-3.1zM1271.7 1145.9h3.1v13.3h-3.1zM1274.7 1154.2h3.1v13.3h-3.1zM1277.7 1168.1h3.1v34.4h-3.1zM1280.8 1146.4h3.1v10h-3.1zM1283.8 1159.2h3.1v20.5h-3.1zM1286.8 1176.4h3.1v17.2h-3.1zM1289.8 1150.3h3.1v10h-3.1zM1292.8 1147.5h3.1v13.9h-3.1zM1295.9 1186.4h3.1v35h-3.1zM1298.9 1142h3.1v14.4h-3.1zM1301.9 1144.2h3.1v11.1h-3.1zM1304.9 1142h3.1v12.2h-3.1zM1308 1158.1h3.1v15h-3.1zM1311 1161.4h3.1v25h-3.1zM1314 1153.1h3.1v10h-3.1zM1317 1174.2h3.1v29.4h-3.1zM1320.1 1159.2h3.1v13.9h-3.1zM1323.1 1182h3.1v6.7h-3.1zM1326.1 1177.5h3.1v22.8h-3.1zM1329.1 1175.3h3.1v17.8h-3.1zM1332.2 1147h3.1v18.3h-3.1zM1335.2 1167.5h3.1v21.1h-3.1zM1338.2 1144.7h3.1v6.7h-3.1zM1341.2 1153.1h3.1v12.8h-3.1zM1344.3 1175.3h3.1v15h-3.1zM1347.3 1153.1h3.1v28.3h-3.1zM1350.3 1154.2h3.1v14.4h-3.1zM1353.3 1151.4h3.1v11.7h-3.1zM1356.4 1154.7h3.1v8.3h-3.1zM1359.4 1148.1h3.1v18.9h-3.1zM1362.4 1157.5h3.1v11.1h-3.1zM1365.4 1160.8h3.1v23.9h-3.1zM1368.5 1164.7h3.1v21.7h-3.1zM1371.5 1144.7h3.1v14.4h-3.1zM1374.5 1150.9h3.1v16.1h-3.1zM1377.5 1158.1h3.1v17.2h-3.1zM1380.6 1168.1h3.1v18.3h-3.1zM1383.6 1175.3h3.1v23.9h-3.1zM1386.6 1145.9h3.1v15h-3.1zM1389.6 1162.5h3.1v27.8h-3.1zM1392.7 1162h3.1v17.2h-3.1zM1395.7 1149.7h3.1v16.1h-3.1zM1398.7 1184.2h3.1v11.7h-3.1zM1401.7 1160.3h3.1v13.3h-3.1zM1404.8 1155.3h3.1v11.7h-3.1zM1407.8 1165.3h3.1v12.2h-3.1zM1410.8 1147h3.1v11.7h-3.1zM1413.8 1168.6h3.1v19.4h-3.1zM1416.9 1168.1h3.1v24.4h-3.1zM1419.9 1157h3.1v18.3h-3.1zM1422.9 1148.1h3.1v10h-3.1zM1425.9 1145.9h3.1v12.8h-3.1zM1429 1170.3h3.1v6.1h-3.1zM1432 1154.7h3.1v17.2h-3.1zM1435 1201.9h3.1v19.4h-3.1zM1438 1143.6h3.1v13.3h-3.1zM1441.1 1167h3.1v17.2h-3.1zM1444.1 1168.6h3.1v20.5h-3.1zM1447.1 1172.5h3.1v23.9h-3.1zM1450.1 1152.5h3.1v27.8h-3.1zM1453.2 1148.6h3.1v14.4h-3.1zM1456.2 1153.1h3.1v15h-3.1zM1459.2 1149.7h3.1v14.4h-3.1zM1462.2 1170.8h3.1v11.7h-3.1zM1465.3 1152.5h3.1v17.8h-3.1zM1468.3 1179.2h3.1v9.4h-3.1zM1471.3 1168.1h3.1v24.4h-3.1zM1474.3 1165.8h3.1v16.1h-3.1zM1477.4 1160.8h3.1v50.5h-3.1zM1480.4 1160.8h3.1v17.2h-3.1zM1483.4 1168.1h3.1v11.1h-3.1zM1486.4 1147h3.1v13.3h-3.1zM1489.5 1204.7h3.1v21.7h-3.1zM1492.5 1175.8h3.1v27.2h-3.1zM1495.5 1153.6h3.1v28.9h-3.1zM1498.5 1145.3h3.1v12.2h-3.1zM1501.6 1165.3h3.1v.6h-3.1zM1504.6 1172.5h3.1v37.8h-3.1zM1507.6 1165.8h3.1v24.4h-3.1zM1510.6 1154.7h3.1v15h-3.1zM1513.7 1150.3h3.1v22.8h-3.1zM1516.7 1189.2h3.1v18.3h-3.1zM1519.7 1178.1h3.1v18.9h-3.1zM1525.8 1174.2h3.1v22.2h-3.1zM1528.8 1147h3.1v13.9h-3.1zM1531.8 1154.7h3.1v11.1h-3.1zM1534.8 1165.3h3.1v7.2h-3.1zM1537.9 1173.1h3.1v24.4h-3.1zM1540.9 1149.7h3.1v17.2h-3.1zM1543.9 1164.2h3.1v9.4h-3.1zM1546.9 1160.3h3.1v21.7h-3.1zM1550 1185.3h3.1v9.4h-3.1zM1553 1168.1h3.1v31.7h-3.1z"/>
<path fill="#FFCD39" d="M1005.5 1145.9h3.1v27.2h-3.1zM1008.5 1142.5h3.1v1.1h-3.1zM1014.6 1144.2h3.1v11.7h-3.1zM1017.6 1144.2h3.1v7.8h-3.1zM1020.6 1152h3.1v18.3h-3.1zM1023.6 1143.6h3.1v3.3h-3.1zM1026.7 1143.1h3.1v10h-3.1zM1029.7 1145.9h3.1v11.7h-3.1zM1032.7 1153.6h3.1v37.8h-3.1zM1035.7 1146.4h3.1v16.7h-3.1zM1038.8 1144.7h3.1v13.3h-3.1zM1041.8 1154.7h3.1v14.4h-3.1zM1044.8 1158.1h3.1v15h-3.1zM1047.8 1152.5h3.1v11.1h-3.1zM1050.9 1152h3.1v12.2h-3.1zM1053.9 1152.5h3.1v10.6h-3.1zM1056.9 1158.1h3.1v31.7h-3.1zM1059.9 1142.5h3.1v.6h-3.1zM1063 1143.6h3.1v1.1h-3.1zM1066 1155.9h3.1v17.2h-3.1zM1069 1147h3.1v18.3h-3.1zM1072 1148.1h3.1v14.4h-3.1zM1075.1 1144.7h3.1v1.1h-3.1zM1078.1 1142.5h3.1v7.8h-3.1zM1081.1 1143.1h3.1v1.7h-3.1zM1084.1 1155.3h3.1v13.9h-3.1zM1087.2 1142.5h3.1v7.2h-3.1zM1090.2 1148.1h3.1v29.4h-3.1zM1093.2 1143.6h3.1v22.2h-3.1zM1099.3 1156.4h3.1v28.9h-3.1zM1102.3 1142h3.1v16.1h-3.1zM1105.3 1148.6h3.1v29.4h-3.1zM1108.3 1144.2h3.1v6.1h-3.1zM1111.4 1145.9h3.1v10h-3.1zM1114.4 1149.2h3.1v13.9h-3.1zM1117.4 1143.1h3.1v7.8h-3.1zM1120.4 1143.1h3.1v23.3h-3.1zM1123.5 1144.7h3.1v16.1h-3.1zM1126.5 1143.6h3.1v10.6h-3.1zM1129.5 1158.1h3.1v15.6h-3.1zM1132.5 1163.6h3.1v43.9h-3.1zM1135.6 1140.9h3.1v9.4h-3.1zM1138.6 1146.4h3.1v7.8h-3.1zM1141.6 1142.5h3.1v9.4h-3.1zM1144.6 1143.6h3.1v4.4h-3.1zM1147.7 1143.1h3.1v8.3h-3.1zM1150.7 1143.6h3.1v11.1h-3.1zM1156.7 1147h3.1v20.5h-3.1zM1159.8 1141.4h3.1v8.3h-3.1zM1162.8 1141.4h3.1v.6h-3.1zM1165.8 1143.1h3.1v16.1h-3.1zM1168.8 1146.4h3.1v7.8h-3.1zM1171.9 1144.7h3.1v21.7h-3.1zM1174.9 1157.5h3.1v17.2h-3.1zM1177.9 1143.6h3.1v2.2h-3.1zM1180.9 1143.1h3.1v10h-3.1zM1187 1143.6h3.1v10.6h-3.1zM1190 1141.4h3.1v16.1h-3.1zM1196.1 1144.2h3.1v.6h-3.1zM1199.1 1142h3.1v15h-3.1zM1202.1 1153.1h3.1v17.2h-3.1zM1205.1 1139.7h3.1v11.7h-3.1zM1208.2 1144.2h3.1v2.2h-3.1zM1211.2 1145.9h3.1v5h-3.1zM1214.2 1145.3h3.1v8.9h-3.1zM1217.2 1154.2h3.1v10.6h-3.1zM1220.3 1144.7h3.1v6.1h-3.1zM1223.3 1166.4h3.1v24.4h-3.1zM1226.3 1147h3.1v15h-3.1zM1229.3 1146.4h3.1v10.6h-3.1zM1232.4 1170.8h3.1v21.1h-3.1zM1238.4 1142.5h3.1v6.7h-3.1zM1241.4 1152h3.1v14.4h-3.1zM1244.5 1162.5h3.1v16.1h-3.1zM1247.5 1145.3h3.1v6.7h-3.1zM1250.5 1140.9h3.1v5h-3.1zM1253.5 1143.6h3.1v14.4h-3.1zM1256.6 1148.1h3.1v15.6h-3.1zM1259.6 1148.6h3.1v13.3h-3.1zM1262.6 1150.3h3.1v16.1h-3.1zM1265.6 1149.2h3.1v11.1h-3.1zM1268.7 1162h3.1v21.1h-3.1zM1271.7 1138.3h3.1v7.6h-3.1zM1274.7 1142.5h3.1v11.7h-3.1zM1277.7 1143.6h3.1v24.4h-3.1zM1280.8 1140.3h3.1v6.1h-3.1zM1283.8 1145.3h3.1v13.9h-3.1zM1286.8 1145.9h3.1v30.5h-3.1zM1289.8 1143.1h3.1v7.2h-3.1zM1292.8 1142h3.1v5.6h-3.1zM1295.9 1157.5h3.1v28.9h-3.1zM1301.9 1142.5h3.1v1.7h-3.1zM1304.9 1141.4h3.1v.6h-3.1zM1308 1145.9h3.1v12.2h-3.1zM1311 1145.9h3.1v15.6h-3.1zM1314 1147h3.1v6.1h-3.1zM1317 1156.4h3.1v17.8h-3.1zM1320.1 1145.3h3.1v13.9h-3.1zM1323.1 1151.4h3.1v30.5h-3.1zM1326.1 1152h3.1v25.5h-3.1zM1329.1 1154.7h3.1v20.5h-3.1zM1332.2 1144.2h3.1v2.8h-3.1zM1335.2 1153.1h3.1v14.4h-3.1zM1338.2 1143.1h3.1v1.7h-3.1zM1341.2 1145.3h3.1v7.8h-3.1zM1344.3 1153.1h3.1v22.2h-3.1zM1347.3 1143.1h3.1v10h-3.1zM1350.3 1145.9h3.1v8.3h-3.1zM1353.3 1143.1h3.1v8.3h-3.1zM1356.4 1144.7h3.1v10h-3.1zM1359.4 1142.5h3.1v5.6h-3.1zM1362.4 1145.9h3.1v11.7h-3.1zM1365.4 1145.9h3.1v15h-3.1zM1368.5 1147h3.1v17.8h-3.1zM1371.5 1142h3.1v2.8h-3.1zM1374.5 1143.1h3.1v7.8h-3.1zM1377.5 1149.2h3.1v8.9h-3.1zM1380.6 1143.6h3.1v24.4h-3.1zM1383.6 1147h3.1v28.3h-3.1zM1386.6 1142.5h3.1v3.3h-3.1zM1389.6 1143.6h3.1v18.9h-3.1zM1392.7 1146.4h3.1v15.6h-3.1zM1395.7 1140.3h3.1v9.4h-3.1zM1398.7 1157.5h3.1v26.7h-3.1zM1401.7 1139.7h3.1v20.5h-3.1zM1404.8 1144.7h3.1v10.6h-3.1zM1407.8 1143.6h3.1v21.7h-3.1zM1410.8 1140.9h3.1v6.1h-3.1zM1413.8 1149.7h3.1v18.9h-3.1zM1416.9 1153.1h3.1v15h-3.1zM1419.9 1143.6h3.1v13.3h-3.1zM1422.9 1140.3h3.1v7.8h-3.1zM1425.9 1141.4h3.1v4.4h-3.1zM1429 1154.7h3.1v15.6h-3.1zM1432 1144.7h3.1v10h-3.1zM1435 1164.2h3.1v37.8h-3.1zM1438 1139.2h3.1v4.4h-3.1zM1441.1 1149.2h3.1v17.8h-3.1zM1444.1 1149.2h3.1v19.4h-3.1zM1447.1 1149.2h3.1v23.3h-3.1zM1450.1 1147.5h3.1v5h-3.1zM1453.2 1142.5h3.1v6.1h-3.1zM1456.2 1140.9h3.1v12.2h-3.1zM1459.2 1141.4h3.1v8.3h-3.1zM1462.2 1146.4h3.1v24.4h-3.1zM1465.3 1142h3.1v10.6h-3.1zM1468.3 1143.1h3.1v36.1h-3.1zM1471.3 1149.2h3.1v18.9h-3.1zM1474.3 1148.6h3.1v17.2h-3.1zM1477.4 1148.1h3.1v12.8h-3.1zM1480.4 1151.4h3.1v9.4h-3.1zM1483.4 1152h3.1v16.1h-3.1zM1486.4 1142.5h3.1v4.4h-3.1zM1489.5 1170.8h3.1v33.9h-3.1zM1492.5 1145.9h3.1v30h-3.1zM1495.5 1153.1h3.1v.6h-3.1zM1498.5 1144.7h3.1v.6h-3.1zM1501.6 1149.7h3.1v15.6h-3.1zM1504.6 1162.5h3.1v10h-3.1zM1507.6 1151.4h3.1v14.4h-3.1zM1510.6 1150.3h3.1v4.4h-3.1zM1513.7 1144.7h3.1v5.6h-3.1zM1516.7 1152h3.1v37.2h-3.1zM1519.7 1152h3.1v26.1h-3.1zM1525.8 1148.1h3.1v26.1h-3.1zM1528.8 1142h3.1v5h-3.1zM1531.8 1143.6h3.1v11.1h-3.1zM1534.8 1148.6h3.1v16.7h-3.1zM1537.9 1159.7h3.1v13.3h-3.1zM1540.9 1145.3h3.1v4.4h-3.1zM1543.9 1143.1h3.1v21.1h-3.1zM1546.9 1153.1h3.1v7.2h-3.1zM1550 1159.2h3.1v26.1h-3.1zM1553 1154.7h3.1v13.3h-3.1z"/>
<path fill="#70BF73" d="M1005.5 1140.8h3.1v5.1h-3.1zM1008.5 1141.1h3.1v1.4h-3.1zM1011.5 1138.5h3.1v.2h-3.1zM1014.6 1140.6h3.1v3.6h-3.1zM1017.6 1139.4h3.1v4.8h-3.1zM1020.6 1143.8h3.1v8.2h-3.1zM1023.6 1141.8h3.1v1.9h-3.1zM1026.7 1140h3.1v3.1h-3.1zM1029.7 1142.7h3.1v3.2h-3.1zM1032.7 1141.6h3.1v12h-3.1zM1035.7 1141.9h3.1v4.6h-3.1zM1038.8 1139.3h3.1v5.5h-3.1zM1041.8 1145.2h3.1v9.5h-3.1zM1044.8 1149.3h3.1v8.8h-3.1zM1047.8 1147.1h3.1v5.4h-3.1zM1050.9 1144.5h3.1v7.5h-3.1zM1053.9 1143h3.1v9.5h-3.1zM1056.9 1142.7h3.1v15.4h-3.1zM1059.9 1139.8h3.1v2.7h-3.1zM1063 1141h3.1v2.6h-3.1zM1066 1144h3.1v11.8h-3.1zM1069 1143.6h3.1v3.3h-3.1zM1072 1141.5h3.1v6.6h-3.1zM1075.1 1141.6h3.1v3.1h-3.1zM1078.1 1139h3.1v3.5h-3.1zM1081.1 1139.5h3.1v3.6h-3.1zM1084.1 1144.2h3.1v11.1h-3.1zM1087.2 1140.6h3.1v1.9h-3.1zM1090.2 1141.4h3.1v6.7h-3.1zM1093.2 1140.1h3.1v3.5h-3.1zM1096.2 1140.1h3.1v1.9h-3.1zM1099.3 1147.2h3.1v9.2h-3.1zM1102.3 1139.1h3.1v2.9h-3.1zM1105.3 1143.1h3.1v5.6h-3.1zM1108.3 1140.3h3.1v3.9h-3.1zM1111.4 1139.7h3.1v6.1h-3.1zM1114.4 1145.1h3.1v4.1h-3.1zM1117.4 1139h3.1v4.1h-3.1zM1120.4 1139.5h3.1v3.6h-3.1zM1123.5 1141.5h3.1v3.2h-3.1zM1126.5 1141.2h3.1v2.4h-3.1zM1129.5 1149.8h3.1v8.2h-3.1zM1132.5 1144.9h3.1v18.7h-3.1zM1135.6 1140.2h3.1v.6h-3.1zM1138.6 1140.4h3.1v6h-3.1zM1141.6 1139.9h3.1v2.6h-3.1zM1144.6 1141h3.1v2.7h-3.1zM1147.7 1140.6h3.1v2.5h-3.1zM1150.7 1140.7h3.1v2.9h-3.1zM1153.7 1140.1h3.1v2.4h-3.1zM1156.7 1140.6h3.1v6.4h-3.1zM1159.8 1139.9h3.1v1.5h-3.1zM1162.8 1139h3.1v2.4h-3.1zM1165.8 1139.5h3.1v3.6h-3.1zM1168.8 1141.9h3.1v4.6h-3.1zM1171.9 1140.3h3.1v4.5h-3.1zM1174.9 1147.6h3.1v10h-3.1zM1177.9 1140.4h3.1v3.2h-3.1zM1180.9 1139.9h3.1v3.2h-3.1zM1184 1139.1h3.1v4.5h-3.1zM1187 1140.5h3.1v3.2h-3.1zM1190 1139.6h3.1v1.8h-3.1zM1196.1 1140.8h3.1v3.4h-3.1zM1199.1 1140.4h3.1v1.6h-3.1zM1202.1 1140.5h3.1v12.6h-3.1zM1205.1 1139h3.1v.7h-3.1zM1208.2 1141.2h3.1v3h-3.1zM1211.2 1142.1h3.1v3.7h-3.1zM1214.2 1140.4h3.1v4.9h-3.1zM1217.2 1140.7h3.1v13.5h-3.1zM1220.3 1139.3h3.1v5.5h-3.1zM1223.3 1145.4h3.1v21h-3.1zM1226.3 1141.3h3.1v5.7h-3.1zM1229.3 1141.6h3.1v4.8h-3.1zM1232.4 1156.2h3.1v14.6h-3.1zM1238.4 1140h3.1v2.5h-3.1zM1241.4 1140.3h3.1v11.6h-3.1zM1244.5 1149h3.1v13.5h-3.1zM1247.5 1142.2h3.1v3.1h-3.1zM1250.5 1140h3.1v.8h-3.1zM1253.5 1141.9h3.1v1.8h-3.1zM1256.6 1141.3h3.1v6.8h-3.1zM1259.6 1141.9h3.1v6.7h-3.1zM1262.6 1145.2h3.1v5.1h-3.1zM1265.6 1145.2h3.1v4h-3.1zM1268.7 1146.8h3.1v15.2h-3.1zM1274.7 1139.8h3.1v2.7h-3.1zM1277.7 1140.4h3.1v3.2h-3.1zM1280.8 1139.3h3.1v1h-3.1zM1283.8 1142.9h3.1v2.4h-3.1zM1286.8 1141.2h3.1v4.7h-3.1zM1289.8 1140.1h3.1v2.9h-3.1zM1292.8 1139.7h3.1v2.3h-3.1zM1295.9 1143.2h3.1v14.3h-3.1zM1298.9 1139.3h3.1v2.7h-3.1zM1301.9 1140.3h3.1v2.2h-3.1zM1304.9 1139.3h3.1v2.1h-3.1zM1308 1143.8h3.1v2.1h-3.1zM1311 1140.5h3.1v5.3h-3.1zM1314 1141.8h3.1v5.2h-3.1zM1317 1142.8h3.1v13.7h-3.1zM1320.1 1140.1h3.1v5.2h-3.1zM1323.1 1145.4h3.1v6h-3.1zM1326.1 1144h3.1v7.9h-3.1zM1329.1 1142.1h3.1v12.6h-3.1zM1332.2 1141.1h3.1v3h-3.1zM1335.2 1144h3.1v9h-3.1zM1338.2 1140.7h3.1v2.4h-3.1zM1341.2 1140.5h3.1v4.8h-3.1zM1344.3 1143.5h3.1v9.5h-3.1zM1347.3 1140.8h3.1v2.3h-3.1zM1350.3 1142.9h3.1v2.9h-3.1zM1353.3 1141.8h3.1v1.3h-3.1zM1356.4 1140h3.1v4.7h-3.1zM1359.4 1140.3h3.1v2.2h-3.1zM1362.4 1142.1h3.1v3.7h-3.1zM1365.4 1141.9h3.1v3.9h-3.1zM1368.5 1143h3.1v4h-3.1zM1371.5 1139.4h3.1v2.6h-3.1zM1374.5 1139.8h3.1v3.3h-3.1zM1377.5 1146.3h3.1v2.8h-3.1zM1380.6 1140.5h3.1v3.2h-3.1zM1383.6 1141.6h3.1v5.3h-3.1zM1386.6 1140.2h3.1v2.3h-3.1zM1389.6 1140.3h3.1v3.3h-3.1zM1392.7 1139.5h3.1v6.9h-3.1zM1395.7 1139h3.1v1.3h-3.1zM1398.7 1142.5h3.1v15h-3.1zM1401.7 1138.7h3.1v1.1h-3.1zM1404.8 1142.4h3.1v2.4h-3.1zM1407.8 1139.1h3.1v4.5h-3.1zM1410.8 1139.2h3.1v1.6h-3.1zM1413.8 1143.4h3.1v6.4h-3.1zM1416.9 1142.3h3.1v10.8h-3.1zM1419.9 1139.1h3.1v4.5h-3.1zM1422.9 1139.3h3.1v1h-3.1zM1425.9 1139.9h3.1v1.5h-3.1zM1429 1144h3.1v10.8h-3.1zM1432 1142.6h3.1v2.1h-3.1zM1435 1153h3.1v11.2h-3.1zM1438 1138.6h3.1v.5h-3.1zM1441.1 1141.4h3.1v7.8h-3.1zM1444.1 1141.7h3.1v7.4h-3.1zM1447.1 1141.3h3.1v7.9h-3.1zM1450.1 1140.5h3.1v7.1h-3.1zM1453.2 1140.3h3.1v2.3h-3.1zM1456.2 1139.5h3.1v1.4h-3.1zM1459.2 1139.7h3.1v1.7h-3.1zM1462.2 1141.9h3.1v4.5h-3.1zM1465.3 1139.1h3.1v2.8h-3.1zM1468.3 1139.6h3.1v3.5h-3.1zM1471.3 1146.1h3.1v3.1h-3.1zM1474.3 1141.7h3.1v7h-3.1zM1477.4 1143.8h3.1v4.3h-3.1zM1480.4 1145.8h3.1v5.6h-3.1zM1483.4 1141.1h3.1v10.9h-3.1zM1486.4 1139.1h3.1v3.4h-3.1zM1489.5 1145.5h3.1v25.4h-3.1zM1492.5 1140.5h3.1v5.3h-3.1zM1495.5 1140.5h3.1v12.6h-3.1zM1498.5 1142h3.1v2.8h-3.1zM1501.6 1141.4h3.1v8.3h-3.1zM1504.6 1150.5h3.1v12.1h-3.1zM1507.6 1144.7h3.1v6.7h-3.1zM1510.6 1146.1h3.1v4.2h-3.1zM1513.7 1139.4h3.1v5.4h-3.1zM1516.7 1140.3h3.1v11.6h-3.1zM1519.7 1141.9h3.1v10.1h-3.1zM1525.8 1141.9h3.1v6.1h-3.1zM1528.8 1140.4h3.1v1.6h-3.1zM1531.8 1140.6h3.1v3h-3.1zM1534.8 1140h3.1v8.6h-3.1zM1537.9 1141.6h3.1v18.2h-3.1zM1540.9 1140.4h3.1v4.9h-3.1zM1543.9 1139.6h3.1v3.4h-3.1zM1546.9 1144.5h3.1v8.6h-3.1zM1550 1145.4h3.1v13.7h-3.1zM1553 1145.3h3.1v9.5h-3.1z"/>
<path fill="#FFAD33" d="M1005.5 1138.3h3.1v2.5h-3.1zM1008.5 1138.3h3.1v2.8h-3.1zM1011.5 1138.3h3.1v.2h-3.1zM1014.6 1138.3h3.1v2.3h-3.1zM1017.6 1138.3h3.1v1.1h-3.1zM1020.6 1138.3h3.1v5.5h-3.1zM1023.6 1138.3h3.1v3.5h-3.1zM1026.7 1138.3h3.1v1.7h-3.1zM1029.7 1138.3h3.1v4.4h-3.1zM1032.7 1138.3h3.1v3.3h-3.1zM1035.7 1138.3h3.1v3.6h-3.1zM1038.8 1138.3h3.1v1h-3.1zM1041.8 1138.3h3.1v6.9h-3.1zM1044.8 1138.3h3.1v11h-3.1zM1047.8 1138.3h3.1v8.8h-3.1zM1050.9 1138.3h3.1v6.2h-3.1zM1053.9 1138.3h3.1v4.7h-3.1zM1056.9 1138.3h3.1v4.4h-3.1zM1059.9 1138.3h3.1v1.5h-3.1zM1063 1138.3h3.1v2.7h-3.1zM1066 1138.3h3.1v5.7h-3.1zM1069 1138.3h3.1v5.3h-3.1zM1072 1138.3h3.1v3.2h-3.1zM1075.1 1138.3h3.1v3.3h-3.1zM1078.1 1138.3h3.1v.7h-3.1zM1081.1 1138.3h3.1v1.2h-3.1zM1084.1 1138.3h3.1v5.9h-3.1zM1087.2 1138.3h3.1v2.3h-3.1zM1090.2 1138.3h3.1v3.1h-3.1zM1093.2 1138.3h3.1v1.8h-3.1zM1096.2 1138.3h3.1v1.8h-3.1zM1099.3 1138.3h3.1v8.9h-3.1zM1102.3 1138.3h3.1v.8h-3.1zM1105.3 1138.3h3.1v4.8h-3.1zM1108.3 1138.3h3.1v2h-3.1zM1111.4 1138.3h3.1v1.4h-3.1zM1114.4 1138.3h3.1v6.8h-3.1zM1117.4 1138.3h3.1v.7h-3.1zM1120.4 1138.3h3.1v1.2h-3.1zM1123.5 1138.3h3.1v3.2h-3.1zM1126.5 1138.3h3.1v2.9h-3.1zM1129.5 1138.3h3.1v11.5h-3.1zM1132.5 1138.3h3.1v6.6h-3.1zM1135.6 1138.3h3.1v1.9h-3.1zM1138.6 1138.3h3.1v2.1h-3.1zM1141.6 1138.3h3.1v1.6h-3.1zM1144.6 1138.3h3.1v2.7h-3.1zM1147.7 1138.3h3.1v2.3h-3.1zM1150.7 1138.3h3.1v2.4h-3.1zM1153.7 1138.3h3.1v1.8h-3.1zM1156.7 1138.3h3.1v2.3h-3.1zM1159.8 1138.3h3.1v1.6h-3.1zM1162.8 1138.3h3.1v.7h-3.1zM1165.8 1138.3h3.1v1.2h-3.1zM1168.8 1138.3h3.1v3.6h-3.1zM1171.9 1138.3h3.1v2h-3.1zM1174.9 1138.3h3.1v9.3h-3.1zM1177.9 1138.3h3.1v2.1h-3.1zM1180.9 1138.3h3.1v1.6h-3.1zM1184 1138.3h3.1v.8h-3.1zM1187 1138.3h3.1v2.2h-3.1zM1190 1138.3h3.1v1.3h-3.1zM1196.1 1138.3h3.1v2.5h-3.1zM1199.1 1138.3h3.1v2.1h-3.1zM1202.1 1138.3h3.1v2.2h-3.1zM1205.1 1138.3h3.1v.7h-3.1zM1208.2 1138.3h3.1v2.9h-3.1zM1211.2 1138.3h3.1v3.8h-3.1zM1214.2 1138.3h3.1v2.1h-3.1zM1217.2 1138.3h3.1v2.4h-3.1zM1220.3 1138.3h3.1v1h-3.1zM1223.3 1138.3h3.1v7.1h-3.1zM1226.3 1138.3h3.1v3h-3.1zM1229.3 1138.3h3.1v3.3h-3.1zM1232.4 1138.3h3.1v17.9h-3.1zM1238.4 1138.3h3.1v1.7h-3.1zM1241.4 1138.3h3.1v2h-3.1zM1244.5 1138.3h3.1v10.7h-3.1zM1247.5 1138.3h3.1v3.9h-3.1zM1250.5 1138.3h3.1v1.7h-3.1zM1253.5 1138.3h3.1v3.6h-3.1zM1256.6 1138.3h3.1v3h-3.1zM1259.6 1138.3h3.1v3.6h-3.1zM1262.6 1138.3h3.1v6.9h-3.1zM1265.6 1138.3h3.1v6.9h-3.1zM1268.7 1138.3h3.1v8.5h-3.1zM1274.7 1138.3h3.1v1.5h-3.1zM1277.7 1138.3h3.1v2.1h-3.1zM1280.8 1138.3h3.1v1h-3.1zM1283.8 1138.3h3.1v4.6h-3.1zM1286.8 1138.3h3.1v2.9h-3.1zM1289.8 1138.3h3.1v1.8h-3.1zM1292.8 1138.3h3.1v1.4h-3.1zM1295.9 1138.3h3.1v4.9h-3.1zM1298.9 1138.3h3.1v1h-3.1zM1301.9 1138.3h3.1v2h-3.1zM1304.9 1138.3h3.1v1h-3.1zM1308 1138.3h3.1v5.5h-3.1zM1311 1138.3h3.1v2.2h-3.1zM1314 1138.3h3.1v3.5h-3.1zM1317 1138.3h3.1v4.5h-3.1zM1320.1 1138.3h3.1v1.8h-3.1zM1323.1 1138.3h3.1v7.1h-3.1zM1326.1 1138.3h3.1v5.7h-3.1zM1329.1 1138.3h3.1v3.8h-3.1zM1332.2 1138.3h3.1v2.8h-3.1zM1335.2 1138.3h3.1v5.7h-3.1zM1338.2 1138.3h3.1v2.4h-3.1zM1341.2 1138.3h3.1v2.2h-3.1zM1344.3 1138.3h3.1v5.2h-3.1zM1347.3 1138.3h3.1v2.5h-3.1zM1350.3 1138.3h3.1v4.6h-3.1zM1353.3 1138.3h3.1v3.5h-3.1zM1356.4 1138.3h3.1v1.7h-3.1zM1359.4 1138.3h3.1v2h-3.1zM1362.4 1138.3h3.1v3.8h-3.1zM1365.4 1138.3h3.1v3.6h-3.1zM1368.5 1138.3h3.1v4.7h-3.1zM1371.5 1138.3h3.1v1.1h-3.1zM1374.5 1138.3h3.1v1.5h-3.1zM1377.5 1138.3h3.1v8h-3.1zM1380.6 1138.3h3.1v2.2h-3.1zM1383.6 1138.3h3.1v3.3h-3.1zM1386.6 1138.3h3.1v1.9h-3.1zM1389.6 1138.3h3.1v2h-3.1zM1392.7 1138.3h3.1v1.2h-3.1zM1395.7 1138.3h3.1v.7h-3.1zM1398.7 1138.3h3.1v4.2h-3.1zM1401.7 1138.3h3.1v.4h-3.1zM1404.8 1138.3h3.1v4.1h-3.1zM1407.8 1138.3h3.1v.8h-3.1zM1410.8 1138.3h3.1v.9h-3.1zM1413.8 1138.3h3.1v5.1h-3.1zM1416.9 1138.3h3.1v4h-3.1zM1419.9 1138.3h3.1v.8h-3.1zM1422.9 1138.3h3.1v1h-3.1zM1425.9 1138.3h3.1v1.6h-3.1zM1429 1138.3h3.1v5.7h-3.1zM1432 1138.3h3.1v4.3h-3.1zM1435 1138.3h3.1v14.7h-3.1zM1438 1138.3h3.1v.3h-3.1zM1441.1 1138.3h3.1v3.1h-3.1zM1444.1 1138.3h3.1v3.4h-3.1zM1447.1 1138.3h3.1v3h-3.1zM1450.1 1138.3h3.1v2.2h-3.1zM1453.2 1138.3h3.1v2h-3.1zM1456.2 1138.3h3.1v1.2h-3.1zM1459.2 1138.3h3.1v1.4h-3.1zM1462.2 1138.3h3.1v3.6h-3.1zM1465.3 1138.3h3.1v.8h-3.1zM1468.3 1138.3h3.1v1.3h-3.1zM1471.3 1138.3h3.1v7.8h-3.1zM1474.3 1138.3h3.1v3.4h-3.1zM1477.4 1138.3h3.1v5.5h-3.1zM1480.4 1138.3h3.1v7.5h-3.1zM1483.4 1138.3h3.1v2.8h-3.1zM1486.4 1138.3h3.1v.8h-3.1zM1489.5 1138.3h3.1v7.2h-3.1zM1492.5 1138.3h3.1v2.2h-3.1zM1495.5 1138.3h3.1v2.2h-3.1zM1498.5 1138.3h3.1v3.7h-3.1zM1501.6 1138.3h3.1v3.1h-3.1zM1504.6 1138.3h3.1v12.2h-3.1zM1507.6 1138.3h3.1v6.4h-3.1zM1510.6 1138.3h3.1v7.8h-3.1zM1513.7 1138.3h3.1v1.1h-3.1zM1516.7 1138.3h3.1v2h-3.1zM1519.7 1138.3h3.1v3.6h-3.1zM1525.8 1138.3h3.1v3.6h-3.1zM1528.8 1138.3h3.1v2.1h-3.1zM1531.8 1138.3h3.1v2.3h-3.1zM1534.8 1138.3h3.1v1.7h-3.1zM1537.9 1138.3h3.1v3.3h-3.1zM1540.9 1138.3h3.1v2.1h-3.1zM1543.9 1138.3h3.1v1.3h-3.1zM1546.9 1138.3h3.1v6.2h-3.1zM1550 1138.3h3.1v7.1h-3.1zM1553 1138.3h3.1v7h-3.1z"/>
<rect x="1005.5" y="1138.3" width="550.5" height="164.4" fill="url(#sepB2)"/>
<line x1="1000.75" y1="1140" x2="1000.75" y2="1302" stroke="#555" stroke-width="0.9"/>
<line x1="996.25" y1="1140" x2="1000.75" y2="1140" stroke="#555" stroke-width="0.9"/>
<line x1="996.25" y1="1181.25" x2="1000.75" y2="1181.25" stroke="#555" stroke-width="0.9"/>
<line x1="996.25" y1="1221.75" x2="1000.75" y2="1221.75" stroke="#555" stroke-width="0.9"/>
<line x1="996.25" y1="1262" x2="1000.75" y2="1262" stroke="#555" stroke-width="0.9"/>
<line x1="996.25" y1="1302" x2="1000.75" y2="1302" stroke="#555" stroke-width="0.9"/>
<text x="951.85" y="1147.5">100</text>
<text x="967.08" y="1184.5">75</text>
<text x="967" y="1225">50</text>
<text x="967.08" y="1265.5">25</text>
<text x="982.16" y="1307">0</text>
<text transform="translate(950 1297.22) rotate(-90)">% Mutations</text>
<line x1="1002" y1="1335" x2="1288" y2="1335" stroke="#e6e6e6" stroke-width="0.6" stroke-dasharray="1.5 1.5"/>
<line x1="1002" y1="1377.5" x2="1288" y2="1377.5" stroke="#e6e6e6" stroke-width="0.6" stroke-dasharray="1.5 1.5"/>
<line x1="1002" y1="1419.5" x2="1288" y2="1419.5" stroke="#e6e6e6" stroke-width="0.6" stroke-dasharray="1.5 1.5"/>
<line x1="1002" y1="1462" x2="1288" y2="1462" stroke="#e6e6e6" stroke-width="0.6" stroke-dasharray="1.5 1.5"/>
<line x1="1002" y1="1504.5" x2="1288" y2="1504.5" stroke="#e6e6e6" stroke-width="0.6" stroke-dasharray="1.5 1.5"/>
<line x1="1047.5" y1="1333" x2="1047.5" y2="1505" stroke="#ececec" stroke-width="0.6" stroke-dasharray="1.5 1.5"/>
<line x1="1091.9" y1="1333" x2="1091.9" y2="1505" stroke="#ececec" stroke-width="0.6" stroke-dasharray="1.5 1.5"/>
<line x1="1135.9" y1="1333" x2="1135.9" y2="1505" stroke="#ececec" stroke-width="0.6" stroke-dasharray="1.5 1.5"/>
<line x1="1179.9" y1="1333" x2="1179.9" y2="1505" stroke="#ececec" stroke-width="0.6" stroke-dasharray="1.5 1.5"/>
<line x1="1224.1" y1="1333" x2="1224.1" y2="1505" stroke="#ececec" stroke-width="0.6" stroke-dasharray="1.5 1.5"/>
<line x1="1268.5" y1="1333" x2="1268.5" y2="1505" stroke="#ececec" stroke-width="0.6" stroke-dasharray="1.5 1.5"/>
<line x1="1000.75" y1="1335" x2="1000.75" y2="1504.5" stroke="#555" stroke-width="0.9"/>
<line x1="996.25" y1="1335" x2="1000.75" y2="1335" stroke="#555" stroke-width="0.9"/>
<line x1="996.25" y1="1377.5" x2="1000.75" y2="1377.5" stroke="#555" stroke-width="0.9"/>
<line x1="996.25" y1="1419.5" x2="1000.75" y2="1419.5" stroke="#555" stroke-width="0.9"/>
<line x1="996.25" y1="1462" x2="1000.75" y2="1462" stroke="#555" stroke-width="0.9"/>
<line x1="996.25" y1="1504.5" x2="1000.75" y2="1504.5" stroke="#555" stroke-width="0.9"/>
<text x="951.85" y="1343.75">100</text>
<text x="967.08" y="1383.75">75</text>
<text x="967" y="1425">50</text>
<text x="967.08" y="1466.75">25</text>
<text x="982.16" y="1508.25">0</text>
<text transform="translate(950 1495.47) rotate(-90)">% Mutations</text>
<line x1="1047.5" y1="1385" x2="1047.5" y2="1452.5" stroke="#888" stroke-width="0.6"/>
<circle cx="1047.5" cy="1335" r="0.6" fill="#999"/>
<circle cx="1047.5" cy="1459.25" r="0.6" fill="#999"/>
<circle cx="1047.5" cy="1467.5" r="0.6" fill="#999"/>
<rect x="1029.5" y="1408.75" width="36" height="18.75" fill="#F6695E" stroke="#4d4d4d" stroke-width="0.4"/>
<line x1="1029.5" y1="1418" x2="1065.5" y2="1418" stroke="#222" stroke-width="1.4"/>
<line x1="1091.88" y1="1423.75" x2="1091.88" y2="1504.5" stroke="#888" stroke-width="0.6"/>
<rect x="1074.25" y="1449.5" width="35.25" height="27.25" fill="#6574C4" stroke="#4d4d4d" stroke-width="0.4"/>
<line x1="1074.25" y1="1460.75" x2="1109.5" y2="1460.75" stroke="#222" stroke-width="1.4"/>
<line x1="1135.88" y1="1463.75" x2="1135.88" y2="1504.5" stroke="#888" stroke-width="0.6"/>
<circle cx="1135.88" cy="1451.25" r="0.6" fill="#999"/>
<circle cx="1135.88" cy="1456" r="0.6" fill="#999"/>
<circle cx="1135.88" cy="1460" r="0.6" fill="#999"/>
<rect x="1118" y="1482" width="35.75" height="9.5" fill="#4DABF5" stroke="#4d4d4d" stroke-width="0.4"/>
<line x1="1118" y1="1486.75" x2="1153.75" y2="1486.75" stroke="#222" stroke-width="1.4"/>
<line x1="1179.88" y1="1465" x2="1179.88" y2="1504.5" stroke="#888" stroke-width="0.6"/>
<circle cx="1179.88" cy="1460" r="0.6" fill="#999"/>
<circle cx="1179.88" cy="1462" r="0.6" fill="#999"/>
<rect x="1162" y="1487.75" width="35.75" height="11.5" fill="#FFCD39" stroke="#4d4d4d" stroke-width="0.4"/>
<line x1="1162" y1="1493.25" x2="1197.75" y2="1493.25" stroke="#222" stroke-width="1.4"/>
<line x1="1224.12" y1="1490" x2="1224.12" y2="1504.5" stroke="#888" stroke-width="0.6"/>
<circle cx="1224.12" cy="1483.75" r="0.6" fill="#999"/>
<circle cx="1224.12" cy="1486" r="0.6" fill="#999"/>
<rect x="1206.25" y="1497.25" width="35.75" height="5.5" fill="#70BF73" stroke="#4d4d4d" stroke-width="0.4"/>
<line x1="1206.25" y1="1500" x2="1242" y2="1500" stroke="#222" stroke-width="1.4"/>
<line x1="1268.5" y1="1495" x2="1268.5" y2="1504.5" stroke="#888" stroke-width="0.6"/>
<circle cx="1268.5" cy="1481.25" r="0.6" fill="#999"/>
<circle cx="1268.5" cy="1487.5" r="0.6" fill="#999"/>
<circle cx="1268.5" cy="1491" r="0.6" fill="#999"/>
<circle cx="1268.5" cy="1493" r="0.6" fill="#999"/>
<rect x="1250.5" y="1499.5" width="36" height="4" fill="#FFAD33" stroke="#4d4d4d" stroke-width="0.4"/>
<line x1="1250.5" y1="1501.5" x2="1286.5" y2="1501.5" stroke="#222" stroke-width="1.4"/>
<text transform="translate(1012.5 1547) rotate(-28)">C&gt;T</text>
<text transform="translate(1051.75 1552) rotate(-28)">C&gt;G</text>
<text transform="translate(1101 1552) rotate(-28)">C&gt;A</text>
<text transform="translate(1146.5 1552) rotate(-28)">T&gt;C</text>
<text transform="translate(1192 1552) rotate(-28)">T&gt;A</text>
<text transform="translate(1238 1552) rotate(-28)">T&gt;G</text>
<line x1="1391" y1="1334.2" x2="1525.8" y2="1334.2" stroke="#e6e6e6" stroke-width="0.6" stroke-dasharray="1.5 1.5"/>
<line x1="1391" y1="1376.5" x2="1525.8" y2="1376.5" stroke="#e6e6e6" stroke-width="0.6" stroke-dasharray="1.5 1.5"/>
<line x1="1391" y1="1418.7" x2="1525.8" y2="1418.7" stroke="#e6e6e6" stroke-width="0.6" stroke-dasharray="1.5 1.5"/>
<line x1="1391" y1="1461" x2="1525.8" y2="1461" stroke="#e6e6e6" stroke-width="0.6" stroke-dasharray="1.5 1.5"/>
<line x1="1391" y1="1503.2" x2="1525.8" y2="1503.2" stroke="#e6e6e6" stroke-width="0.6" stroke-dasharray="1.5 1.5"/>
<line x1="1437" y1="1330" x2="1437" y2="1503.2" stroke="#ececec" stroke-width="0.6" stroke-dasharray="1.5 1.5"/>
<line x1="1478.8" y1="1330" x2="1478.8" y2="1503.2" stroke="#ececec" stroke-width="0.6" stroke-dasharray="1.5 1.5"/>
<line x1="1389.9" y1="1334.2" x2="1389.9" y2="1503.2" stroke="#555" stroke-width="0.9"/>
<line x1="1385.4" y1="1334.2" x2="1389.9" y2="1334.2" stroke="#555" stroke-width="0.9"/>
<line x1="1385.4" y1="1376.5" x2="1389.9" y2="1376.5" stroke="#555" stroke-width="0.9"/>
<line x1="1385.4" y1="1418.7" x2="1389.9" y2="1418.7" stroke="#555" stroke-width="0.9"/>
<line x1="1385.4" y1="1461" x2="1389.9" y2="1461" stroke="#555" stroke-width="0.9"/>
<line x1="1385.4" y1="1503.2" x2="1389.9" y2="1503.2" stroke="#555" stroke-width="0.9"/>
<text x="1332.9" y="1345.5">100</text>
<text x="1348.13" y="1386">75</text>
<text x="1348.05" y="1424.5">50</text>
<text x="1348.13" y="1464">25</text>
<text x="1363.21" y="1505.5">0</text>
<text transform="translate(1332.8 1495.27) rotate(-90)">% Mutations</text>
<line x1="1437.05" y1="1367.9" x2="1437.05" y2="1438.2" stroke="#888" stroke-width="0.6"/>
<circle cx="1437.05" cy="1334.2" r="0.6" fill="#999"/>
<circle cx="1437.05" cy="1363" r="0.6" fill="#999"/>
<circle cx="1437.05" cy="1444.8" r="0.6" fill="#999"/>
<rect x="1420.2" y="1394.6" width="33.7" height="19.8" fill="#B3B3B3" stroke="#4d4d4d" stroke-width="0.4"/>
<line x1="1420.2" y1="1404.5" x2="1453.9" y2="1404.5" stroke="#222" stroke-width="1.4"/>
<line x1="1478.8" y1="1398.6" x2="1478.8" y2="1469.5" stroke="#888" stroke-width="0.6"/>
<circle cx="1478.8" cy="1392" r="0.6" fill="#999"/>
<circle cx="1478.8" cy="1474.5" r="0.6" fill="#999"/>
<rect x="1461.8" y="1422.3" width="34" height="20.2" fill="#B3B3B3" stroke="#4d4d4d" stroke-width="0.4"/>
<line x1="1461.8" y1="1432.2" x2="1495.8" y2="1432.2" stroke="#222" stroke-width="1.4"/>
<text x="1426.89" y="1530.5">Ti</text>
<text x="1468.39" y="1529">Tv</text>
<rect x="1564.4" y="1168.3" width="15" height="17.7" fill="#E31A1C"/>
<text x="1586.26" y="1180.8">Nonsense Mutation</text>
<rect x="1564.4" y="1203.3" width="15" height="17.7" fill="#FF7F00"/>
<text x="1591.16" y="1216.5">Splice Site</text>
<rect x="1564.4" y="1238.6" width="15" height="17.7" fill="#33A02C"/>
<text x="1582.96" y="1251.8">Missense Mutation</text>
<rect x="1564.4" y="1274.2" width="15" height="17.7" fill="#1F78B4"/>
<text x="1589.56" y="1284.8">Frame Shift Del</text>
<rect x="1564.4" y="1309.5" width="15" height="17.7" fill="#6A3D9A"/>
<text x="1591.16" y="1320.4">Frame Shift Ins</text>
<rect x="1564.4" y="1345" width="15" height="17.7" fill="#FFFF99"/>
<text x="1593.19" y="1359">In Frame Del</text>
<rect x="1564.4" y="1380.4" width="15" height="17.7" fill="#D53E4F"/>
<text x="1593.49" y="1393.6">In Frame Ins</text>
<rect x="1564.4" y="1416" width="15" height="17.7" fill="#000000"/>
<text x="1595.16" y="1426">Multi Hit</text>
</g>
<g id="panelC">
<text x="2.59" y="1628.3" style="font-size:47.5px">C</text>
<text x="375.76" y="1645">Low risk samples</text>
<text x="227.96" y="1658.5">35</text>
<text x="688.19" y="1660.75">0</text>
<rect x="238" y="1681.2" width="465.8" height="2.1" fill="#1a1a1a"/>
<rect x="237.8" y="1675.1" width="4.3" height="8.2" fill="#000"/>
<rect x="699.6" y="1675.1" width="4.3" height="8.2" fill="#000"/>
<text x="1055.76" y="1645">High risk samples</text>
<text x="978.24" y="1664.7">0</text>
<text x="1324.12" y="1664.5">15</text>
<rect x="987" y="1681.5" width="352.8" height="2.1" fill="#1a1a1a"/>
<rect x="986.9" y="1676.9" width="3.2" height="6.8" fill="#000"/>
<rect x="1336.4" y="1676.9" width="3.4" height="6.9" fill="#000"/>
<g shape-rendering="crispEdges">
<rect x="424.54" y="1694.25" width="26.47" height="37.8" fill="#E31A1C"/>
<rect x="451.02" y="1694.25" width="251.48" height="37.8" fill="#33A02C"/>
<rect x="490.72" y="1736.05" width="13.24" height="37.8" fill="#000000"/>
<rect x="503.96" y="1736.05" width="13.24" height="37.8" fill="#6A3D9A"/>
<rect x="517.2" y="1736.05" width="185.3" height="37.8" fill="#33A02C"/>
<rect x="556.9" y="1777.85" width="13.24" height="37.8" fill="#FF7F00"/>
<rect x="570.14" y="1777.85" width="13.24" height="37.8" fill="#E31A1C"/>
<rect x="583.38" y="1777.85" width="119.12" height="37.8" fill="#33A02C"/>
<rect x="556.9" y="1819.65" width="13.24" height="37.8" fill="#FF7F00"/>
<rect x="570.14" y="1819.65" width="26.47" height="37.8" fill="#E31A1C"/>
<rect x="596.61" y="1819.65" width="105.89" height="37.8" fill="#33A02C"/>
<rect x="570.14" y="1861.45" width="39.71" height="37.8" fill="#000000"/>
<rect x="609.85" y="1861.45" width="13.24" height="37.8" fill="#E31A1C"/>
<rect x="623.08" y="1861.45" width="79.42" height="37.8" fill="#33A02C"/>
<rect x="398.07" y="1903.25" width="13.24" height="37.8" fill="#1F78B4"/>
<rect x="411.31" y="1903.25" width="291.19" height="37.8" fill="#33A02C"/>
<rect x="477.49" y="1945.05" width="13.24" height="37.8" fill="#000000"/>
<rect x="490.72" y="1945.05" width="13.24" height="37.8" fill="#6A3D9A"/>
<rect x="503.96" y="1945.05" width="39.71" height="37.8" fill="#E31A1C"/>
<rect x="543.67" y="1945.05" width="158.83" height="37.8" fill="#33A02C"/>
<rect x="583.38" y="1986.85" width="26.47" height="37.8" fill="#E31A1C"/>
<rect x="609.85" y="1986.85" width="92.65" height="37.8" fill="#33A02C"/>
<rect x="583.38" y="2028.65" width="119.12" height="37.8" fill="#33A02C"/>
<rect x="583.38" y="2070.45" width="13.24" height="37.8" fill="#000000"/>
<rect x="596.61" y="2070.45" width="13.24" height="37.8" fill="#1F78B4"/>
<rect x="609.85" y="2070.45" width="13.24" height="37.8" fill="#E31A1C"/>
<rect x="623.08" y="2070.45" width="79.42" height="37.8" fill="#33A02C"/>
<rect x="437.78" y="2112.25" width="13.24" height="37.8" fill="#FFFF99"/>
<rect x="451.02" y="2112.25" width="13.24" height="37.8" fill="#FF7F00"/>
<rect x="464.25" y="2112.25" width="26.47" height="37.8" fill="#E31A1C"/>
<rect x="490.72" y="2112.25" width="211.78" height="37.8" fill="#33A02C"/>
<rect x="517.2" y="2195.85" width="185.3" height="37.8" fill="#33A02C"/>
<rect x="239.24" y="2237.65" width="39.71" height="37.8" fill="#000000"/>
<rect x="278.95" y="2237.65" width="26.47" height="37.8" fill="#6A3D9A"/>
<rect x="305.42" y="2237.65" width="13.24" height="37.8" fill="#FF7F00"/>
<rect x="318.66" y="2237.65" width="105.89" height="37.8" fill="#1F78B4"/>
<rect x="424.54" y="2237.65" width="198.54" height="37.8" fill="#E31A1C"/>
<rect x="623.08" y="2237.65" width="79.42" height="37.8" fill="#33A02C"/>
<rect x="556.9" y="2279.45" width="26.47" height="37.8" fill="#E31A1C"/>
<rect x="583.38" y="2279.45" width="119.12" height="37.8" fill="#33A02C"/>
<rect x="556.9" y="2321.25" width="13.24" height="37.8" fill="#000000"/>
<rect x="570.14" y="2321.25" width="13.24" height="37.8" fill="#FFFF99"/>
<rect x="583.38" y="2321.25" width="13.24" height="37.8" fill="#1F78B4"/>
<rect x="596.61" y="2321.25" width="26.47" height="37.8" fill="#E31A1C"/>
<rect x="623.08" y="2321.25" width="79.42" height="37.8" fill="#33A02C"/>
<rect x="556.9" y="2363.05" width="13.24" height="37.8" fill="#FF7F00"/>
<rect x="570.14" y="2363.05" width="13.24" height="37.8" fill="#1F78B4"/>
<rect x="583.38" y="2363.05" width="13.24" height="37.8" fill="#E31A1C"/>
<rect x="596.61" y="2363.05" width="105.89" height="37.8" fill="#33A02C"/>
<rect x="477.49" y="2404.85" width="26.47" height="37.8" fill="#000000"/>
<rect x="503.96" y="2404.85" width="13.24" height="37.8" fill="#1F78B4"/>
<rect x="517.2" y="2404.85" width="185.3" height="37.8" fill="#33A02C"/>
<rect x="596.61" y="2446.65" width="13.24" height="37.8" fill="#E31A1C"/>
<rect x="609.85" y="2446.65" width="92.65" height="37.8" fill="#33A02C"/>
<rect x="988.2" y="1694.6" width="46.8" height="37.8" fill="#33A02C"/>
<rect x="1035" y="1694.6" width="23.4" height="37.8" fill="#E31A1C"/>
<rect x="988.2" y="1736.1" width="23.4" height="37.8" fill="#33A02C"/>
<rect x="988.2" y="1902.1" width="140.4" height="37.8" fill="#33A02C"/>
<rect x="988.2" y="1943.6" width="46.8" height="37.8" fill="#33A02C"/>
<rect x="1035" y="1943.6" width="23.4" height="37.8" fill="#E31A1C"/>
<rect x="988.2" y="2109.6" width="117" height="37.8" fill="#33A02C"/>
<rect x="988.2" y="2151.1" width="187.2" height="37.8" fill="#33A02C"/>
<rect x="1175.4" y="2151.1" width="23.4" height="37.8" fill="#E31A1C"/>
<rect x="1198.8" y="2151.1" width="23.4" height="37.8" fill="#000000"/>
<rect x="988.2" y="2192.6" width="46.8" height="37.8" fill="#33A02C"/>
<rect x="988.2" y="2234.1" width="23.4" height="37.8" fill="#1F78B4"/>
<rect x="1011.6" y="2234.1" width="117" height="37.8" fill="#33A02C"/>
<rect x="1128.6" y="2234.1" width="163.8" height="37.8" fill="#E31A1C"/>
<rect x="1292.4" y="2234.1" width="23.4" height="37.8" fill="#FFFF99"/>
<rect x="1315.8" y="2234.1" width="23.4" height="37.8" fill="#6A3D9A"/>
<rect x="988.2" y="2275.6" width="23.4" height="37.8" fill="#33A02C"/>
<rect x="988.2" y="2317.1" width="23.4" height="37.8" fill="#33A02C"/>
<rect x="988.2" y="2358.6" width="23.4" height="37.8" fill="#33A02C"/>
<rect x="988.2" y="2400.1" width="70.2" height="37.8" fill="#33A02C"/>
<rect x="1058.4" y="2400.1" width="23.4" height="37.8" fill="#E31A1C"/>
</g>
<polygon points="697.7,1687.5 701.3,1687.5 700.9,2494.5 697.3,2494.5" fill="#000"/>
<polygon points="983.1,1685.5 986.4,1685.5 986.4,2493 983.0,2493" fill="#000"/>
<text x="331.67" y="1715">12%</text>
<text x="411.72" y="1760">9%</text>
<text x="481.12" y="1800.75">6%</text>
<text x="481.12" y="1841.25">6%</text>
<text x="479.37" y="1882">6%</text>
<text x="311.67" y="1923.75">13%</text>
<text x="393.22" y="1965.5">9%</text>
<text x="515.91" y="2010.75">5%</text>
<text x="515.16" y="2050">5%</text>
<text x="511.91" y="2091.25">5%</text>
<text x="347.17" y="2135">11%</text>
<text x="623.19" y="2174.25">0%</text>
<text x="452.57" y="2214.25">8%</text>
<text x="161.67" y="2260.75">19%</text>
<text x="476.12" y="2304.5">6%</text>
<text x="475.62" y="2343.25">6%</text>
<text x="475.62" y="2385">6%</text>
<text x="407.47" y="2426.75">9%</text>
<text x="518.12" y="2470.75">4%</text>
<text x="1095.38" y="1715.75">2%</text>
<text x="1044.17" y="1760">1%</text>
<text x="1014.44" y="1798.75">0%</text>
<text x="1015.69" y="1837.5">0%</text>
<text x="1015.69" y="1878.75">0%</text>
<text x="1150.96" y="1924.25">3%</text>
<text x="1085.63" y="1965.5">2%</text>
<text x="1013.44" y="2008.75">0%</text>
<text x="1015.19" y="2047.5">0%</text>
<text x="1015.19" y="2088.75">0%</text>
<text x="1130.96" y="2130">3%</text>
<text x="1246.81" y="2171.6">5%</text>
<text x="1071.72" y="2212.5">1%</text>
<text x="1360.92" y="2255.8">8%</text>
<text x="1037.72" y="2295.4">1%</text>
<text x="1038.42" y="2335.4">1%</text>
<text x="1038.42" y="2377.3">1%</text>
<text x="1107.33" y="2422.9">2%</text>
<text x="1012.84" y="2464.6">0%</text>
<text x="787.37" y="1724.25">CCDC88A</text>
<text x="810.12" y="1765.75">ALPK2</text>
<text x="797.42" y="1805">ATP8A2</text>
<text x="801.53" y="1850">GRIK3</text>
<text x="786.17" y="1890.75">PRUNE2</text>
<text x="796.82" y="1932">FGFR3</text>
<text x="793.04" y="1973.75">DOP1B</text>
<text x="789.81" y="2014.25">SLFN11</text>
<text x="777.13" y="2055">TSPOAP1</text>
<text x="796.29" y="2102">WDR81</text>
<text x="808.74" y="2139.25">FBN2</text>
<text x="792.87" y="2181.75">ZNF229</text>
<text x="779.76" y="2223">COL22A1</text>
<text x="799.27" y="2266.25">STAG2</text>
<text x="787.24" y="2307">PIK3C2A</text>
<text x="790.7" y="2348.25">SPTBN5</text>
<text x="795.82" y="2392">UGGT2</text>
<text x="805.51" y="2433.25">NAV3</text>
<text x="805.75" y="2473.25">AASS</text>
<rect x="1472.2" y="1907.6" width="27.5" height="19" fill="#E31A1C"/>
<text x="1514.46" y="1921">Nonsense Mutation</text>
<rect x="1472.2" y="1944.8" width="27.5" height="19" fill="#FF7F00"/>
<text x="1515.46" y="1959.1">Splice Site</text>
<rect x="1472.2" y="1982" width="27.5" height="19" fill="#33A02C"/>
<text x="1514.46" y="1995">Missense Mutation</text>
<rect x="1472.2" y="2018.9" width="27.5" height="19" fill="#1F78B4"/>
<text x="1514.46" y="2029.7">Frame Shift Del</text>
<rect x="1472.2" y="2056" width="27.5" height="19" fill="#6A3D9A"/>
<text x="1514.46" y="2066.5">Frame Shift Ins</text>
<rect x="1472.2" y="2093.2" width="27.5" height="19" fill="#FFFF99"/>
<text x="1514.19" y="2103.7">In Frame Del</text>
<rect x="1473.8" y="2130.7" width="27.5" height="19" fill="#000000"/>
<text x="1514.46" y="2143.4">Multi Hit</text>
<line x1="181.75" y1="2496.75" x2="727" y2="2496.75" stroke="#c8c8c8" stroke-width="1"/>
</g>
</svg>
</body></html>
